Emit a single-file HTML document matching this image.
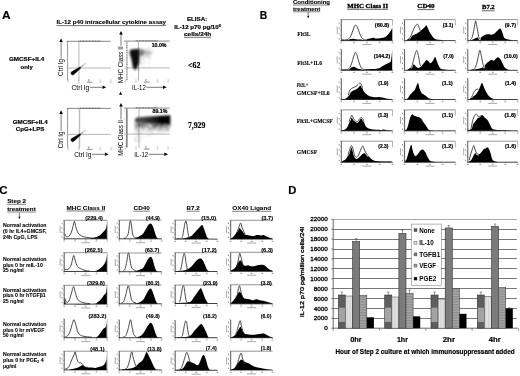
<!DOCTYPE html>
<html><head><meta charset="utf-8"><style>
html,body{margin:0;padding:0;background:#fff;}
svg{display:block;will-change:transform;}
</style></head><body>
<svg width="520" height="376" viewBox="0 0 520 376">
<defs>
<filter id="bl" x="-20%" y="-20%" width="140%" height="140%"><feGaussianBlur stdDeviation="1.2"/></filter>
<filter id="gb" x="0" y="0" width="520" height="376" filterUnits="userSpaceOnUse"><feGaussianBlur stdDeviation="0.8"/></filter>
<filter id="bl2" x="-20%" y="-20%" width="140%" height="140%"><feGaussianBlur stdDeviation="0.8"/></filter>
<filter id="cv" x="0" y="0" width="520" height="376" filterUnits="userSpaceOnUse"><feConvolveMatrix order="3" kernelMatrix="1 2 1 2 4 2 1 2 1" divisor="16" edgeMode="duplicate"/></filter>
</defs>
<rect width="520" height="376" fill="#fff"/>
<g >
<rect width="520" height="376" fill="#fff"/>
<text x="2.00" y="18.80" font-family="Liberation Sans, sans-serif" font-size="11.5" font-weight="bold" text-anchor="start" fill="#000" stroke="#000" stroke-width="0.18" stroke-linejoin="round" textLength="8.60" lengthAdjust="spacingAndGlyphs" >A</text>
<text x="56.50" y="24.40" font-family="Liberation Sans, sans-serif" font-size="5.6" font-weight="bold" text-anchor="start" fill="#000" stroke="#000" stroke-width="0.1" stroke-linejoin="round" textLength="109.50" lengthAdjust="spacingAndGlyphs" >IL-12 p40 intracellular cytokine assay</text>
<line x1="56.50" y1="25.60" x2="166.00" y2="25.60" stroke="#000" stroke-width="0.55" />
<text x="187.00" y="21.20" font-family="Liberation Sans, sans-serif" font-size="5.8" font-weight="bold" text-anchor="start" fill="#000" stroke="#000" stroke-width="0.18" stroke-linejoin="round" textLength="20.20" lengthAdjust="spacingAndGlyphs" >ELISA:</text>
<text x="174.30" y="28.70" font-family="Liberation Sans, sans-serif" font-size="5.8" font-weight="bold" text-anchor="start" fill="#000" stroke="#000" stroke-width="0.18" stroke-linejoin="round" textLength="46.50" lengthAdjust="spacingAndGlyphs" >IL-12 p70 pg/10<tspan font-size="3.6" dy="-2.2">6</tspan></text>
<text x="184.00" y="36.20" font-family="Liberation Sans, sans-serif" font-size="5.8" font-weight="bold" text-anchor="start" fill="#000" stroke="#000" stroke-width="0.18" stroke-linejoin="round" textLength="27.30" lengthAdjust="spacingAndGlyphs" >cells/24h</text>
<line x1="184.00" y1="37.30" x2="211.30" y2="37.30" stroke="#000" stroke-width="0.55" />
<text x="9.00" y="61.30" font-family="Liberation Sans, sans-serif" font-size="5.9" font-weight="bold" text-anchor="start" fill="#000" stroke="#000" stroke-width="0.18" stroke-linejoin="round" textLength="35.20" lengthAdjust="spacingAndGlyphs" >GMCSF+IL4</text>
<text x="20.50" y="68.50" font-family="Liberation Sans, sans-serif" font-size="5.9" font-weight="bold" text-anchor="start" fill="#000" stroke="#000" stroke-width="0.18" stroke-linejoin="round" textLength="12.20" lengthAdjust="spacingAndGlyphs" >only</text>
<text x="12.70" y="124.20" font-family="Liberation Sans, sans-serif" font-size="5.9" font-weight="bold" text-anchor="start" fill="#000" stroke="#000" stroke-width="0.18" stroke-linejoin="round" textLength="35.00" lengthAdjust="spacingAndGlyphs" >GMCSF+IL4</text>
<text x="15.80" y="131.20" font-family="Liberation Sans, sans-serif" font-size="5.9" font-weight="bold" text-anchor="start" fill="#000" stroke="#000" stroke-width="0.18" stroke-linejoin="round" textLength="28.60" lengthAdjust="spacingAndGlyphs" >CpG+LPS</text>
<text x="188.00" y="67.80" font-family="Liberation Serif, serif" font-size="7.4" font-weight="bold" text-anchor="start" fill="#000" stroke="#000" stroke-width="0.18" stroke-linejoin="round" textLength="12.40" lengthAdjust="spacingAndGlyphs" >&lt;62</text>
<text x="187.90" y="127.70" font-family="Liberation Serif, serif" font-size="7.8" font-weight="bold" text-anchor="start" fill="#000" stroke="#000" stroke-width="0.18" stroke-linejoin="round" textLength="17.50" lengthAdjust="spacingAndGlyphs" >7,929</text>
<line x1="66.80" y1="41.30" x2="110.80" y2="41.30" stroke="#555" stroke-width="0.7" />
<line x1="78.60" y1="41.00" x2="100.60" y2="41.00" stroke="#333" stroke-width="0.8" stroke-dasharray="0.8 0.7"/>
<line x1="67.60" y1="41.30" x2="67.60" y2="80.60" stroke="#555" stroke-width="0.6" />
<line x1="78.90" y1="41.30" x2="78.90" y2="81.10" stroke="#999" stroke-width="0.7" />
<line x1="67.60" y1="68.00" x2="110.80" y2="68.00" stroke="#999" stroke-width="0.7" />
<line x1="68.10" y1="79.40" x2="68.10" y2="81.00" stroke="#999" stroke-width="0.5" />
<line x1="78.80" y1="79.40" x2="78.80" y2="81.00" stroke="#999" stroke-width="0.5" />
<line x1="89.50" y1="79.40" x2="89.50" y2="81.00" stroke="#999" stroke-width="0.5" />
<line x1="100.20" y1="79.40" x2="100.20" y2="81.00" stroke="#999" stroke-width="0.5" />
<line x1="110.90" y1="79.40" x2="110.90" y2="81.00" stroke="#999" stroke-width="0.5" />
<rect x="67.30" y="81.60" width="1.60" height="0.90" fill="#aaa" stroke="none" stroke-width="0" />
<rect x="78.00" y="81.60" width="1.60" height="0.90" fill="#aaa" stroke="none" stroke-width="0" />
<rect x="88.70" y="81.60" width="1.60" height="0.90" fill="#aaa" stroke="none" stroke-width="0" />
<rect x="99.40" y="81.60" width="1.60" height="0.90" fill="#aaa" stroke="none" stroke-width="0" />
<rect x="110.10" y="81.60" width="1.60" height="0.90" fill="#aaa" stroke="none" stroke-width="0" />
<rect x="86.60" y="81.80" width="6.00" height="1.00" fill="#999" stroke="none" stroke-width="0" />
<rect x="88.10" y="79.10" width="1.00" height="2.50" fill="#aaa" stroke="none" stroke-width="0" />
<line x1="66.60" y1="44.30" x2="67.60" y2="44.30" stroke="#999" stroke-width="0.5" />
<line x1="66.60" y1="52.30" x2="67.60" y2="52.30" stroke="#999" stroke-width="0.5" />
<line x1="66.60" y1="60.30" x2="67.60" y2="60.30" stroke="#999" stroke-width="0.5" />
<line x1="66.60" y1="68.30" x2="67.60" y2="68.30" stroke="#999" stroke-width="0.5" />
<line x1="124.00" y1="41.10" x2="169.70" y2="41.10" stroke="#555" stroke-width="0.7" />
<line x1="135.80" y1="40.80" x2="157.80" y2="40.80" stroke="#333" stroke-width="0.8" stroke-dasharray="0.8 0.7"/>
<line x1="126.90" y1="41.60" x2="126.90" y2="80.40" stroke="#999" stroke-width="1.6" stroke-dasharray="1.2 0.5"/>
<line x1="138.50" y1="41.10" x2="138.50" y2="80.90" stroke="#999" stroke-width="0.7" />
<line x1="124.80" y1="67.90" x2="169.70" y2="67.90" stroke="#999" stroke-width="0.7" />
<line x1="125.30" y1="79.20" x2="125.30" y2="80.80" stroke="#999" stroke-width="0.5" />
<line x1="136.00" y1="79.20" x2="136.00" y2="80.80" stroke="#999" stroke-width="0.5" />
<line x1="146.70" y1="79.20" x2="146.70" y2="80.80" stroke="#999" stroke-width="0.5" />
<line x1="157.40" y1="79.20" x2="157.40" y2="80.80" stroke="#999" stroke-width="0.5" />
<line x1="168.10" y1="79.20" x2="168.10" y2="80.80" stroke="#999" stroke-width="0.5" />
<rect x="124.50" y="81.40" width="1.60" height="0.90" fill="#aaa" stroke="none" stroke-width="0" />
<rect x="135.20" y="81.40" width="1.60" height="0.90" fill="#aaa" stroke="none" stroke-width="0" />
<rect x="145.90" y="81.40" width="1.60" height="0.90" fill="#aaa" stroke="none" stroke-width="0" />
<rect x="156.60" y="81.40" width="1.60" height="0.90" fill="#aaa" stroke="none" stroke-width="0" />
<rect x="167.30" y="81.40" width="1.60" height="0.90" fill="#aaa" stroke="none" stroke-width="0" />
<rect x="143.80" y="81.60" width="6.00" height="1.00" fill="#999" stroke="none" stroke-width="0" />
<rect x="145.30" y="78.90" width="1.00" height="2.50" fill="#aaa" stroke="none" stroke-width="0" />
<line x1="123.80" y1="44.10" x2="124.80" y2="44.10" stroke="#999" stroke-width="0.5" />
<line x1="123.80" y1="52.10" x2="124.80" y2="52.10" stroke="#999" stroke-width="0.5" />
<line x1="123.80" y1="60.10" x2="124.80" y2="60.10" stroke="#999" stroke-width="0.5" />
<line x1="123.80" y1="68.10" x2="124.80" y2="68.10" stroke="#999" stroke-width="0.5" />
<text x="151.70" y="46.60" font-family="Liberation Sans, sans-serif" font-size="5.6" font-weight="bold" text-anchor="start" fill="#000" stroke="#000" stroke-width="0.18" stroke-linejoin="round" textLength="14.80" lengthAdjust="spacingAndGlyphs" >10.0%</text>
<line x1="66.80" y1="108.40" x2="110.80" y2="108.40" stroke="#555" stroke-width="0.7" />
<line x1="78.60" y1="108.10" x2="100.60" y2="108.10" stroke="#333" stroke-width="0.8" stroke-dasharray="0.8 0.7"/>
<line x1="67.60" y1="108.40" x2="67.60" y2="147.70" stroke="#555" stroke-width="0.6" />
<line x1="79.50" y1="108.40" x2="79.50" y2="148.20" stroke="#bbb" stroke-width="1.4" />
<line x1="67.60" y1="134.40" x2="110.80" y2="134.40" stroke="#999" stroke-width="0.7" />
<line x1="68.10" y1="146.50" x2="68.10" y2="148.10" stroke="#999" stroke-width="0.5" />
<line x1="78.80" y1="146.50" x2="78.80" y2="148.10" stroke="#999" stroke-width="0.5" />
<line x1="89.50" y1="146.50" x2="89.50" y2="148.10" stroke="#999" stroke-width="0.5" />
<line x1="100.20" y1="146.50" x2="100.20" y2="148.10" stroke="#999" stroke-width="0.5" />
<line x1="110.90" y1="146.50" x2="110.90" y2="148.10" stroke="#999" stroke-width="0.5" />
<rect x="67.30" y="148.70" width="1.60" height="0.90" fill="#aaa" stroke="none" stroke-width="0" />
<rect x="78.00" y="148.70" width="1.60" height="0.90" fill="#aaa" stroke="none" stroke-width="0" />
<rect x="88.70" y="148.70" width="1.60" height="0.90" fill="#aaa" stroke="none" stroke-width="0" />
<rect x="99.40" y="148.70" width="1.60" height="0.90" fill="#aaa" stroke="none" stroke-width="0" />
<rect x="110.10" y="148.70" width="1.60" height="0.90" fill="#aaa" stroke="none" stroke-width="0" />
<rect x="86.60" y="148.90" width="6.00" height="1.00" fill="#999" stroke="none" stroke-width="0" />
<rect x="88.10" y="146.20" width="1.00" height="2.50" fill="#aaa" stroke="none" stroke-width="0" />
<line x1="66.60" y1="111.40" x2="67.60" y2="111.40" stroke="#999" stroke-width="0.5" />
<line x1="66.60" y1="119.40" x2="67.60" y2="119.40" stroke="#999" stroke-width="0.5" />
<line x1="66.60" y1="127.40" x2="67.60" y2="127.40" stroke="#999" stroke-width="0.5" />
<line x1="66.60" y1="135.40" x2="67.60" y2="135.40" stroke="#999" stroke-width="0.5" />
<line x1="124.00" y1="108.10" x2="169.70" y2="108.10" stroke="#555" stroke-width="0.7" />
<line x1="135.80" y1="107.80" x2="157.80" y2="107.80" stroke="#333" stroke-width="0.8" stroke-dasharray="0.8 0.7"/>
<line x1="126.80" y1="108.60" x2="126.80" y2="147.40" stroke="#888" stroke-width="1.8" />
<line x1="139.00" y1="108.10" x2="139.00" y2="147.90" stroke="#999" stroke-width="0.7" />
<line x1="124.80" y1="134.10" x2="169.70" y2="134.10" stroke="#999" stroke-width="0.7" />
<line x1="125.30" y1="146.20" x2="125.30" y2="147.80" stroke="#999" stroke-width="0.5" />
<line x1="136.00" y1="146.20" x2="136.00" y2="147.80" stroke="#999" stroke-width="0.5" />
<line x1="146.70" y1="146.20" x2="146.70" y2="147.80" stroke="#999" stroke-width="0.5" />
<line x1="157.40" y1="146.20" x2="157.40" y2="147.80" stroke="#999" stroke-width="0.5" />
<line x1="168.10" y1="146.20" x2="168.10" y2="147.80" stroke="#999" stroke-width="0.5" />
<rect x="124.50" y="148.40" width="1.60" height="0.90" fill="#aaa" stroke="none" stroke-width="0" />
<rect x="135.20" y="148.40" width="1.60" height="0.90" fill="#aaa" stroke="none" stroke-width="0" />
<rect x="145.90" y="148.40" width="1.60" height="0.90" fill="#aaa" stroke="none" stroke-width="0" />
<rect x="156.60" y="148.40" width="1.60" height="0.90" fill="#aaa" stroke="none" stroke-width="0" />
<rect x="167.30" y="148.40" width="1.60" height="0.90" fill="#aaa" stroke="none" stroke-width="0" />
<rect x="143.80" y="148.60" width="6.00" height="1.00" fill="#999" stroke="none" stroke-width="0" />
<rect x="145.30" y="145.90" width="1.00" height="2.50" fill="#aaa" stroke="none" stroke-width="0" />
<line x1="123.80" y1="111.10" x2="124.80" y2="111.10" stroke="#999" stroke-width="0.5" />
<line x1="123.80" y1="119.10" x2="124.80" y2="119.10" stroke="#999" stroke-width="0.5" />
<line x1="123.80" y1="127.10" x2="124.80" y2="127.10" stroke="#999" stroke-width="0.5" />
<line x1="123.80" y1="135.10" x2="124.80" y2="135.10" stroke="#999" stroke-width="0.5" />
<text x="152.50" y="113.00" font-family="Liberation Sans, sans-serif" font-size="5.6" font-weight="bold" text-anchor="start" fill="#000" stroke="#000" stroke-width="0.18" stroke-linejoin="round" textLength="14.80" lengthAdjust="spacingAndGlyphs" >89.1%</text>
<text x="63.40" y="67.50" font-family="Liberation Sans, sans-serif" font-size="6.6" font-weight="normal" text-anchor="middle" fill="#000" transform="rotate(-90 63.40 67.50)" textLength="16.80" lengthAdjust="spacingAndGlyphs" >Ctrl Ig</text>
<line x1="61.10" y1="41.40" x2="61.10" y2="58.60" stroke="#444" stroke-width="0.7" />
<path d="M59.30 42.00L62.90 42.00L61.10 38.40Z" fill="#000" stroke="none" stroke-width="1" />
<text x="71.50" y="89.60" font-family="Liberation Sans, sans-serif" font-size="6.6" font-weight="normal" text-anchor="start" fill="#000" textLength="17.80" lengthAdjust="spacingAndGlyphs" >Ctrl Ig</text>
<line x1="89.80" y1="87.30" x2="103.70" y2="87.30" stroke="#444" stroke-width="0.7" />
<path d="M102.60 85.50L102.60 89.10L106.20 87.30Z" fill="#000" stroke="none" stroke-width="1" />
<text x="123.30" y="64.80" font-family="Liberation Sans, sans-serif" font-size="6.6" font-weight="normal" text-anchor="middle" fill="#000" transform="rotate(-90 123.30 64.80)" textLength="37.00" lengthAdjust="spacingAndGlyphs" >MHC Class II</text>
<line x1="121.00" y1="33.90" x2="121.00" y2="45.80" stroke="#444" stroke-width="0.7" />
<path d="M119.20 34.50L122.80 34.50L121.00 30.90Z" fill="#000" stroke="none" stroke-width="1" />
<text x="132.00" y="89.60" font-family="Liberation Sans, sans-serif" font-size="6.6" font-weight="normal" text-anchor="start" fill="#000" textLength="13.90" lengthAdjust="spacingAndGlyphs" >IL-12</text>
<line x1="146.40" y1="87.30" x2="164.10" y2="87.30" stroke="#444" stroke-width="0.7" />
<path d="M163.00 85.50L163.00 89.10L166.60 87.30Z" fill="#000" stroke="none" stroke-width="1" />
<text x="63.40" y="139.85" font-family="Liberation Sans, sans-serif" font-size="6.6" font-weight="normal" text-anchor="middle" fill="#000" transform="rotate(-90 63.40 139.85)" textLength="16.70" lengthAdjust="spacingAndGlyphs" >Ctrl Ig</text>
<line x1="61.10" y1="113.30" x2="61.10" y2="131.00" stroke="#444" stroke-width="0.7" />
<path d="M59.30 113.90L62.90 113.90L61.10 110.30Z" fill="#000" stroke="none" stroke-width="1" />
<text x="74.20" y="156.60" font-family="Liberation Sans, sans-serif" font-size="6.6" font-weight="normal" text-anchor="start" fill="#000" textLength="17.20" lengthAdjust="spacingAndGlyphs" >Ctrl Ig</text>
<line x1="91.90" y1="154.30" x2="106.00" y2="154.30" stroke="#444" stroke-width="0.7" />
<path d="M104.90 152.50L104.90 156.10L108.50 154.30Z" fill="#000" stroke="none" stroke-width="1" />
<text x="123.30" y="137.90" font-family="Liberation Sans, sans-serif" font-size="6.6" font-weight="normal" text-anchor="middle" fill="#000" transform="rotate(-90 123.30 137.90)" textLength="35.80" lengthAdjust="spacingAndGlyphs" >MHC Class II</text>
<line x1="121.00" y1="106.00" x2="121.00" y2="119.50" stroke="#444" stroke-width="0.7" />
<path d="M119.20 106.60L122.80 106.60L121.00 103.00Z" fill="#000" stroke="none" stroke-width="1" />
<path d="M119.00 94.80L122.20 94.80L120.60 91.60Z" fill="#000" stroke="none" stroke-width="1" />
<text x="134.30" y="156.60" font-family="Liberation Sans, sans-serif" font-size="6.6" font-weight="normal" text-anchor="start" fill="#000" textLength="13.90" lengthAdjust="spacingAndGlyphs" >IL-12</text>
<line x1="148.70" y1="154.30" x2="165.50" y2="154.30" stroke="#444" stroke-width="0.7" />
<path d="M164.40 152.50L164.40 156.10L168.00 154.30Z" fill="#000" stroke="none" stroke-width="1" />
<line x1="79.60" y1="68.20" x2="85.50" y2="63.30" stroke="#ccc" stroke-width="1.3" />
<line x1="79.60" y1="68.20" x2="83.00" y2="65.40" stroke="#999" stroke-width="1.0" />
<path d="M71.54 71.75 L79.53 67.15 A0.8 0.8 0 0 1 80.47 68.45 L73.66 74.65 A1.8 1.8 0 0 1 71.54 71.75Z" fill="#000" stroke="#333" stroke-width="0.5" />
<line x1="79.60" y1="135.00" x2="85.50" y2="130.10" stroke="#ccc" stroke-width="1.3" />
<line x1="79.60" y1="135.00" x2="83.00" y2="132.20" stroke="#999" stroke-width="1.0" />
<path d="M71.54 138.55 L79.53 133.95 A0.8 0.8 0 0 1 80.47 135.25 L73.66 141.45 A1.8 1.8 0 0 1 71.54 138.55Z" fill="#000" stroke="#333" stroke-width="0.5" />
<g filter="url(#bl2)">
<circle cx="139.2" cy="53.9" r="0.45" fill="#000" fill-opacity="0.55"/><circle cx="138.9" cy="53.6" r="0.45" fill="#000" fill-opacity="0.55"/><circle cx="144.9" cy="49.2" r="0.45" fill="#000" fill-opacity="0.55"/><circle cx="144.8" cy="56.8" r="0.45" fill="#000" fill-opacity="0.55"/><circle cx="139.0" cy="49.1" r="0.45" fill="#000" fill-opacity="0.55"/><circle cx="148.9" cy="52.8" r="0.45" fill="#000" fill-opacity="0.55"/><circle cx="147.4" cy="53.0" r="0.45" fill="#000" fill-opacity="0.55"/><circle cx="139.9" cy="52.7" r="0.45" fill="#000" fill-opacity="0.55"/><circle cx="140.4" cy="53.4" r="0.45" fill="#000" fill-opacity="0.55"/><circle cx="142.6" cy="52.4" r="0.45" fill="#000" fill-opacity="0.55"/><circle cx="138.4" cy="53.1" r="0.45" fill="#000" fill-opacity="0.55"/><circle cx="140.1" cy="51.0" r="0.45" fill="#000" fill-opacity="0.55"/><circle cx="140.4" cy="50.3" r="0.45" fill="#000" fill-opacity="0.55"/><circle cx="141.7" cy="53.3" r="0.45" fill="#000" fill-opacity="0.55"/><circle cx="144.3" cy="52.5" r="0.45" fill="#000" fill-opacity="0.55"/><circle cx="148.1" cy="49.1" r="0.45" fill="#000" fill-opacity="0.55"/><circle cx="141.3" cy="50.1" r="0.45" fill="#000" fill-opacity="0.55"/><circle cx="139.6" cy="52.1" r="0.45" fill="#000" fill-opacity="0.55"/><circle cx="142.0" cy="52.0" r="0.45" fill="#000" fill-opacity="0.55"/><circle cx="145.5" cy="53.3" r="0.45" fill="#000" fill-opacity="0.55"/><circle cx="139.6" cy="51.9" r="0.45" fill="#000" fill-opacity="0.55"/><circle cx="151.3" cy="50.1" r="0.45" fill="#000" fill-opacity="0.55"/><circle cx="142.2" cy="52.2" r="0.45" fill="#000" fill-opacity="0.55"/><circle cx="146.3" cy="52.1" r="0.45" fill="#000" fill-opacity="0.55"/><circle cx="138.4" cy="51.3" r="0.45" fill="#000" fill-opacity="0.55"/><circle cx="143.8" cy="50.7" r="0.45" fill="#000" fill-opacity="0.55"/><circle cx="148.4" cy="56.5" r="0.45" fill="#000" fill-opacity="0.55"/><circle cx="150.0" cy="53.3" r="0.45" fill="#000" fill-opacity="0.55"/><circle cx="146.8" cy="49.8" r="0.45" fill="#000" fill-opacity="0.55"/><circle cx="142.1" cy="52.7" r="0.45" fill="#000" fill-opacity="0.55"/><circle cx="140.8" cy="53.2" r="0.45" fill="#000" fill-opacity="0.55"/><circle cx="146.9" cy="56.3" r="0.45" fill="#000" fill-opacity="0.55"/><circle cx="147.0" cy="51.0" r="0.45" fill="#000" fill-opacity="0.55"/><circle cx="139.2" cy="50.9" r="0.45" fill="#000" fill-opacity="0.55"/><circle cx="140.6" cy="52.8" r="0.45" fill="#000" fill-opacity="0.55"/><circle cx="143.4" cy="50.5" r="0.45" fill="#000" fill-opacity="0.55"/><circle cx="148.0" cy="53.6" r="0.45" fill="#000" fill-opacity="0.55"/><circle cx="139.7" cy="51.2" r="0.45" fill="#000" fill-opacity="0.55"/><circle cx="150.5" cy="51.2" r="0.45" fill="#000" fill-opacity="0.55"/><circle cx="147.1" cy="55.5" r="0.45" fill="#000" fill-opacity="0.55"/><circle cx="138.9" cy="55.4" r="0.45" fill="#000" fill-opacity="0.55"/><circle cx="141.8" cy="49.6" r="0.45" fill="#000" fill-opacity="0.55"/><circle cx="138.8" cy="50.5" r="0.45" fill="#000" fill-opacity="0.55"/><circle cx="138.3" cy="51.0" r="0.45" fill="#000" fill-opacity="0.55"/><circle cx="149.7" cy="54.0" r="0.45" fill="#000" fill-opacity="0.55"/><circle cx="144.5" cy="52.0" r="0.45" fill="#000" fill-opacity="0.55"/><circle cx="142.1" cy="50.1" r="0.45" fill="#000" fill-opacity="0.55"/><circle cx="142.5" cy="50.9" r="0.45" fill="#000" fill-opacity="0.55"/><circle cx="143.0" cy="52.1" r="0.45" fill="#000" fill-opacity="0.55"/><circle cx="144.1" cy="53.2" r="0.45" fill="#000" fill-opacity="0.55"/><circle cx="141.2" cy="53.5" r="0.45" fill="#000" fill-opacity="0.55"/><circle cx="141.7" cy="54.4" r="0.45" fill="#000" fill-opacity="0.55"/><circle cx="138.5" cy="49.8" r="0.45" fill="#000" fill-opacity="0.55"/><circle cx="147.9" cy="54.9" r="0.45" fill="#000" fill-opacity="0.55"/><circle cx="142.9" cy="54.2" r="0.45" fill="#000" fill-opacity="0.55"/><circle cx="139.0" cy="51.2" r="0.45" fill="#000" fill-opacity="0.55"/><circle cx="146.3" cy="53.1" r="0.45" fill="#000" fill-opacity="0.55"/><circle cx="145.2" cy="51.2" r="0.45" fill="#000" fill-opacity="0.55"/><circle cx="152.4" cy="53.4" r="0.45" fill="#000" fill-opacity="0.55"/><circle cx="138.1" cy="53.4" r="0.45" fill="#000" fill-opacity="0.55"/><circle cx="143.1" cy="56.9" r="0.45" fill="#000" fill-opacity="0.55"/><circle cx="142.6" cy="52.2" r="0.45" fill="#000" fill-opacity="0.55"/><circle cx="144.8" cy="51.3" r="0.45" fill="#000" fill-opacity="0.55"/><circle cx="146.8" cy="55.7" r="0.45" fill="#000" fill-opacity="0.55"/><circle cx="148.3" cy="51.4" r="0.45" fill="#000" fill-opacity="0.55"/><circle cx="142.8" cy="54.1" r="0.45" fill="#000" fill-opacity="0.55"/><circle cx="140.7" cy="50.1" r="0.45" fill="#000" fill-opacity="0.55"/><circle cx="140.2" cy="50.4" r="0.45" fill="#000" fill-opacity="0.55"/><circle cx="146.4" cy="52.3" r="0.45" fill="#000" fill-opacity="0.55"/><circle cx="140.0" cy="53.5" r="0.45" fill="#000" fill-opacity="0.55"/><circle cx="142.0" cy="52.5" r="0.45" fill="#000" fill-opacity="0.55"/><circle cx="138.0" cy="52.4" r="0.45" fill="#000" fill-opacity="0.55"/><circle cx="142.0" cy="49.6" r="0.45" fill="#000" fill-opacity="0.55"/><circle cx="145.3" cy="54.0" r="0.45" fill="#000" fill-opacity="0.55"/><circle cx="148.3" cy="51.5" r="0.45" fill="#000" fill-opacity="0.55"/><circle cx="147.3" cy="52.4" r="0.45" fill="#000" fill-opacity="0.55"/><circle cx="148.8" cy="52.7" r="0.45" fill="#000" fill-opacity="0.55"/><circle cx="138.5" cy="51.9" r="0.45" fill="#000" fill-opacity="0.55"/><circle cx="149.8" cy="53.5" r="0.45" fill="#000" fill-opacity="0.55"/><circle cx="141.0" cy="50.7" r="0.45" fill="#000" fill-opacity="0.55"/><circle cx="140.3" cy="49.0" r="0.45" fill="#000" fill-opacity="0.55"/><circle cx="144.1" cy="52.2" r="0.45" fill="#000" fill-opacity="0.55"/><circle cx="138.8" cy="53.2" r="0.45" fill="#000" fill-opacity="0.55"/><circle cx="151.0" cy="56.2" r="0.45" fill="#000" fill-opacity="0.55"/><circle cx="143.1" cy="51.3" r="0.45" fill="#000" fill-opacity="0.55"/><circle cx="142.0" cy="49.1" r="0.45" fill="#000" fill-opacity="0.55"/><circle cx="149.4" cy="53.0" r="0.45" fill="#000" fill-opacity="0.55"/><circle cx="141.2" cy="51.0" r="0.45" fill="#000" fill-opacity="0.55"/><circle cx="147.5" cy="54.7" r="0.45" fill="#000" fill-opacity="0.55"/><circle cx="143.9" cy="49.9" r="0.45" fill="#000" fill-opacity="0.55"/><circle cx="146.8" cy="54.9" r="0.45" fill="#000" fill-opacity="0.55"/><circle cx="140.6" cy="55.5" r="0.45" fill="#000" fill-opacity="0.55"/><circle cx="143.0" cy="54.2" r="0.45" fill="#000" fill-opacity="0.55"/><circle cx="138.2" cy="54.0" r="0.45" fill="#000" fill-opacity="0.55"/><circle cx="143.9" cy="53.5" r="0.45" fill="#000" fill-opacity="0.55"/><circle cx="139.7" cy="53.4" r="0.45" fill="#000" fill-opacity="0.55"/><circle cx="140.6" cy="56.4" r="0.45" fill="#000" fill-opacity="0.55"/><circle cx="140.9" cy="50.7" r="0.45" fill="#000" fill-opacity="0.55"/><circle cx="146.3" cy="52.3" r="0.45" fill="#000" fill-opacity="0.55"/><circle cx="138.7" cy="54.1" r="0.45" fill="#000" fill-opacity="0.55"/><circle cx="138.6" cy="56.9" r="0.45" fill="#000" fill-opacity="0.55"/><circle cx="142.9" cy="52.7" r="0.45" fill="#000" fill-opacity="0.55"/><circle cx="150.5" cy="53.1" r="0.45" fill="#000" fill-opacity="0.55"/><circle cx="145.6" cy="49.6" r="0.45" fill="#000" fill-opacity="0.55"/><circle cx="139.0" cy="52.0" r="0.45" fill="#000" fill-opacity="0.55"/><circle cx="146.1" cy="51.7" r="0.45" fill="#000" fill-opacity="0.55"/><circle cx="150.2" cy="52.9" r="0.45" fill="#000" fill-opacity="0.55"/><circle cx="138.0" cy="48.8" r="0.45" fill="#000" fill-opacity="0.55"/><circle cx="148.4" cy="48.7" r="0.45" fill="#000" fill-opacity="0.55"/><circle cx="141.6" cy="54.3" r="0.45" fill="#000" fill-opacity="0.55"/><circle cx="141.3" cy="54.7" r="0.45" fill="#000" fill-opacity="0.55"/><circle cx="142.0" cy="57.5" r="0.45" fill="#000" fill-opacity="0.55"/><circle cx="146.5" cy="52.6" r="0.45" fill="#000" fill-opacity="0.55"/><circle cx="138.9" cy="56.3" r="0.45" fill="#000" fill-opacity="0.55"/><circle cx="141.2" cy="54.6" r="0.45" fill="#000" fill-opacity="0.55"/><circle cx="143.0" cy="51.5" r="0.45" fill="#000" fill-opacity="0.55"/><circle cx="141.6" cy="49.6" r="0.45" fill="#000" fill-opacity="0.55"/><circle cx="138.6" cy="51.9" r="0.45" fill="#000" fill-opacity="0.55"/><circle cx="142.3" cy="54.0" r="0.45" fill="#000" fill-opacity="0.55"/><circle cx="141.4" cy="54.7" r="0.45" fill="#000" fill-opacity="0.55"/><circle cx="152.6" cy="49.9" r="0.45" fill="#000" fill-opacity="0.55"/><circle cx="140.3" cy="48.8" r="0.45" fill="#000" fill-opacity="0.55"/><circle cx="141.3" cy="49.6" r="0.45" fill="#000" fill-opacity="0.55"/><circle cx="141.3" cy="51.7" r="0.45" fill="#000" fill-opacity="0.55"/><circle cx="138.3" cy="51.1" r="0.45" fill="#000" fill-opacity="0.55"/><circle cx="149.3" cy="53.9" r="0.45" fill="#000" fill-opacity="0.55"/><circle cx="150.2" cy="58.3" r="0.45" fill="#000" fill-opacity="0.55"/><circle cx="141.0" cy="53.4" r="0.45" fill="#000" fill-opacity="0.55"/><circle cx="139.4" cy="57.4" r="0.45" fill="#000" fill-opacity="0.55"/><circle cx="141.7" cy="53.1" r="0.45" fill="#000" fill-opacity="0.55"/><circle cx="143.6" cy="51.8" r="0.45" fill="#000" fill-opacity="0.55"/><circle cx="140.7" cy="52.9" r="0.45" fill="#000" fill-opacity="0.55"/><circle cx="140.5" cy="50.1" r="0.45" fill="#000" fill-opacity="0.55"/><circle cx="143.2" cy="53.7" r="0.45" fill="#000" fill-opacity="0.55"/><circle cx="141.1" cy="54.9" r="0.45" fill="#000" fill-opacity="0.55"/><circle cx="141.3" cy="52.4" r="0.45" fill="#000" fill-opacity="0.55"/><circle cx="140.3" cy="54.5" r="0.45" fill="#000" fill-opacity="0.55"/><circle cx="143.0" cy="54.8" r="0.45" fill="#000" fill-opacity="0.55"/><circle cx="141.4" cy="55.3" r="0.45" fill="#000" fill-opacity="0.55"/><circle cx="142.1" cy="52.8" r="0.45" fill="#000" fill-opacity="0.55"/><circle cx="138.0" cy="55.7" r="0.45" fill="#000" fill-opacity="0.55"/><circle cx="141.9" cy="51.5" r="0.45" fill="#000" fill-opacity="0.55"/><circle cx="148.1" cy="48.6" r="0.45" fill="#000" fill-opacity="0.55"/><circle cx="139.6" cy="49.9" r="0.45" fill="#000" fill-opacity="0.55"/><circle cx="150.4" cy="52.0" r="0.45" fill="#000" fill-opacity="0.55"/><circle cx="138.9" cy="53.2" r="0.45" fill="#000" fill-opacity="0.55"/><circle cx="143.9" cy="53.2" r="0.45" fill="#000" fill-opacity="0.55"/><circle cx="143.3" cy="51.7" r="0.45" fill="#000" fill-opacity="0.55"/><circle cx="145.3" cy="56.1" r="0.45" fill="#000" fill-opacity="0.55"/><circle cx="142.1" cy="51.5" r="0.45" fill="#000" fill-opacity="0.55"/><circle cx="143.1" cy="52.8" r="0.45" fill="#000" fill-opacity="0.55"/><circle cx="138.2" cy="52.4" r="0.45" fill="#000" fill-opacity="0.55"/><circle cx="141.4" cy="50.0" r="0.45" fill="#000" fill-opacity="0.55"/><circle cx="138.1" cy="55.3" r="0.45" fill="#000" fill-opacity="0.55"/><circle cx="141.9" cy="55.8" r="0.45" fill="#000" fill-opacity="0.55"/><circle cx="149.5" cy="48.6" r="0.45" fill="#000" fill-opacity="0.55"/><circle cx="148.4" cy="56.7" r="0.45" fill="#000" fill-opacity="0.55"/><circle cx="143.0" cy="55.8" r="0.45" fill="#000" fill-opacity="0.55"/><circle cx="151.8" cy="53.4" r="0.45" fill="#000" fill-opacity="0.55"/><circle cx="143.9" cy="54.2" r="0.45" fill="#000" fill-opacity="0.55"/>
<circle cx="138.4" cy="57.0" r="0.45" fill="#000" fill-opacity="0.55"/><circle cx="141.8" cy="59.7" r="0.45" fill="#000" fill-opacity="0.55"/><circle cx="144.2" cy="59.5" r="0.45" fill="#000" fill-opacity="0.55"/><circle cx="136.4" cy="66.1" r="0.45" fill="#000" fill-opacity="0.55"/><circle cx="139.6" cy="63.8" r="0.45" fill="#000" fill-opacity="0.55"/><circle cx="137.8" cy="57.5" r="0.45" fill="#000" fill-opacity="0.55"/><circle cx="136.4" cy="58.1" r="0.45" fill="#000" fill-opacity="0.55"/><circle cx="144.4" cy="62.2" r="0.45" fill="#000" fill-opacity="0.55"/><circle cx="140.5" cy="62.8" r="0.45" fill="#000" fill-opacity="0.55"/><circle cx="133.7" cy="60.3" r="0.45" fill="#000" fill-opacity="0.55"/><circle cx="145.3" cy="69.8" r="0.45" fill="#000" fill-opacity="0.55"/><circle cx="136.2" cy="60.1" r="0.45" fill="#000" fill-opacity="0.55"/><circle cx="135.7" cy="59.9" r="0.45" fill="#000" fill-opacity="0.55"/><circle cx="139.0" cy="68.7" r="0.45" fill="#000" fill-opacity="0.55"/><circle cx="138.4" cy="60.4" r="0.45" fill="#000" fill-opacity="0.55"/><circle cx="138.6" cy="69.7" r="0.45" fill="#000" fill-opacity="0.55"/><circle cx="137.1" cy="64.4" r="0.45" fill="#000" fill-opacity="0.55"/><circle cx="136.7" cy="58.0" r="0.45" fill="#000" fill-opacity="0.55"/><circle cx="134.2" cy="66.5" r="0.45" fill="#000" fill-opacity="0.55"/><circle cx="136.5" cy="67.8" r="0.45" fill="#000" fill-opacity="0.55"/><circle cx="133.1" cy="63.8" r="0.45" fill="#000" fill-opacity="0.55"/><circle cx="137.3" cy="59.4" r="0.45" fill="#000" fill-opacity="0.55"/><circle cx="137.8" cy="67.6" r="0.45" fill="#000" fill-opacity="0.55"/><circle cx="134.8" cy="66.1" r="0.45" fill="#000" fill-opacity="0.55"/><circle cx="142.9" cy="66.1" r="0.45" fill="#000" fill-opacity="0.55"/><circle cx="149.5" cy="66.3" r="0.45" fill="#000" fill-opacity="0.55"/><circle cx="142.6" cy="57.3" r="0.45" fill="#000" fill-opacity="0.55"/><circle cx="138.0" cy="65.8" r="0.45" fill="#000" fill-opacity="0.55"/><circle cx="141.9" cy="63.9" r="0.45" fill="#000" fill-opacity="0.55"/><circle cx="135.4" cy="58.7" r="0.45" fill="#000" fill-opacity="0.55"/><circle cx="140.7" cy="60.7" r="0.45" fill="#000" fill-opacity="0.55"/><circle cx="138.9" cy="60.1" r="0.45" fill="#000" fill-opacity="0.55"/><circle cx="138.4" cy="69.8" r="0.45" fill="#000" fill-opacity="0.55"/><circle cx="147.7" cy="59.1" r="0.45" fill="#000" fill-opacity="0.55"/><circle cx="149.6" cy="62.7" r="0.45" fill="#000" fill-opacity="0.55"/><circle cx="142.5" cy="62.8" r="0.45" fill="#000" fill-opacity="0.55"/><circle cx="142.6" cy="59.4" r="0.45" fill="#000" fill-opacity="0.55"/><circle cx="135.0" cy="58.3" r="0.45" fill="#000" fill-opacity="0.55"/><circle cx="148.3" cy="57.8" r="0.45" fill="#000" fill-opacity="0.55"/><circle cx="139.7" cy="59.2" r="0.45" fill="#000" fill-opacity="0.55"/>
<path d="M130.2 49.8 L138.8 48.8 L139.4 56 L139 63.2 L136.8 68 L135 70.2 L133 67.5 L131.4 59 L129.6 53 Z" fill="#0a0a0a" stroke="none" stroke-width="1" />
</g>
<defs><linearGradient id="band" x1="0" x2="1" y1="0" y2="0"><stop offset="0" stop-color="#555"/><stop offset="0.25" stop-color="#444"/><stop offset="0.5" stop-color="#222"/><stop offset="0.7" stop-color="#050505"/><stop offset="1" stop-color="#000"/></linearGradient></defs>
<g filter="url(#bl2)">
<circle cx="141.1" cy="126.4" r="0.45" fill="#000" fill-opacity="0.5"/><circle cx="169.3" cy="125.4" r="0.45" fill="#000" fill-opacity="0.5"/><circle cx="149.2" cy="122.0" r="0.45" fill="#000" fill-opacity="0.5"/><circle cx="164.2" cy="126.3" r="0.45" fill="#000" fill-opacity="0.5"/><circle cx="141.7" cy="125.3" r="0.45" fill="#000" fill-opacity="0.5"/><circle cx="168.6" cy="128.6" r="0.45" fill="#000" fill-opacity="0.5"/><circle cx="155.0" cy="125.7" r="0.45" fill="#000" fill-opacity="0.5"/><circle cx="145.5" cy="122.0" r="0.45" fill="#000" fill-opacity="0.5"/><circle cx="139.7" cy="125.1" r="0.45" fill="#000" fill-opacity="0.5"/><circle cx="157.2" cy="123.7" r="0.45" fill="#000" fill-opacity="0.5"/><circle cx="136.4" cy="121.6" r="0.45" fill="#000" fill-opacity="0.5"/><circle cx="142.0" cy="125.5" r="0.45" fill="#000" fill-opacity="0.5"/><circle cx="160.3" cy="124.8" r="0.45" fill="#000" fill-opacity="0.5"/><circle cx="159.2" cy="126.2" r="0.45" fill="#000" fill-opacity="0.5"/><circle cx="136.7" cy="124.7" r="0.45" fill="#000" fill-opacity="0.5"/><circle cx="161.5" cy="122.3" r="0.45" fill="#000" fill-opacity="0.5"/><circle cx="151.0" cy="121.8" r="0.45" fill="#000" fill-opacity="0.5"/><circle cx="154.2" cy="124.7" r="0.45" fill="#000" fill-opacity="0.5"/><circle cx="147.6" cy="127.2" r="0.45" fill="#000" fill-opacity="0.5"/><circle cx="158.7" cy="124.6" r="0.45" fill="#000" fill-opacity="0.5"/><circle cx="139.0" cy="125.3" r="0.45" fill="#000" fill-opacity="0.5"/><circle cx="142.3" cy="121.9" r="0.45" fill="#000" fill-opacity="0.5"/><circle cx="147.8" cy="123.5" r="0.45" fill="#000" fill-opacity="0.5"/><circle cx="154.9" cy="122.6" r="0.45" fill="#000" fill-opacity="0.5"/><circle cx="150.3" cy="123.8" r="0.45" fill="#000" fill-opacity="0.5"/><circle cx="143.9" cy="124.7" r="0.45" fill="#000" fill-opacity="0.5"/><circle cx="136.4" cy="127.6" r="0.45" fill="#000" fill-opacity="0.5"/><circle cx="160.5" cy="121.0" r="0.45" fill="#000" fill-opacity="0.5"/><circle cx="154.9" cy="126.2" r="0.45" fill="#000" fill-opacity="0.5"/><circle cx="163.6" cy="121.9" r="0.45" fill="#000" fill-opacity="0.5"/><circle cx="150.8" cy="122.3" r="0.45" fill="#000" fill-opacity="0.5"/><circle cx="143.9" cy="122.4" r="0.45" fill="#000" fill-opacity="0.5"/><circle cx="143.0" cy="129.6" r="0.45" fill="#000" fill-opacity="0.5"/><circle cx="153.1" cy="129.8" r="0.45" fill="#000" fill-opacity="0.5"/><circle cx="149.4" cy="122.1" r="0.45" fill="#000" fill-opacity="0.5"/><circle cx="162.4" cy="121.9" r="0.45" fill="#000" fill-opacity="0.5"/><circle cx="148.1" cy="121.2" r="0.45" fill="#000" fill-opacity="0.5"/><circle cx="165.7" cy="123.5" r="0.45" fill="#000" fill-opacity="0.5"/><circle cx="164.1" cy="122.8" r="0.45" fill="#000" fill-opacity="0.5"/><circle cx="155.5" cy="122.7" r="0.45" fill="#000" fill-opacity="0.5"/><circle cx="168.5" cy="121.2" r="0.45" fill="#000" fill-opacity="0.5"/><circle cx="163.3" cy="121.5" r="0.45" fill="#000" fill-opacity="0.5"/><circle cx="137.7" cy="125.9" r="0.45" fill="#000" fill-opacity="0.5"/><circle cx="166.6" cy="129.8" r="0.45" fill="#000" fill-opacity="0.5"/><circle cx="155.4" cy="126.8" r="0.45" fill="#000" fill-opacity="0.5"/><circle cx="154.4" cy="127.1" r="0.45" fill="#000" fill-opacity="0.5"/><circle cx="152.0" cy="126.5" r="0.45" fill="#000" fill-opacity="0.5"/><circle cx="143.3" cy="126.2" r="0.45" fill="#000" fill-opacity="0.5"/><circle cx="141.0" cy="122.0" r="0.45" fill="#000" fill-opacity="0.5"/><circle cx="155.6" cy="122.2" r="0.45" fill="#000" fill-opacity="0.5"/><circle cx="144.7" cy="124.9" r="0.45" fill="#000" fill-opacity="0.5"/><circle cx="142.7" cy="127.0" r="0.45" fill="#000" fill-opacity="0.5"/><circle cx="165.9" cy="126.1" r="0.45" fill="#000" fill-opacity="0.5"/><circle cx="137.0" cy="127.2" r="0.45" fill="#000" fill-opacity="0.5"/><circle cx="156.1" cy="124.9" r="0.45" fill="#000" fill-opacity="0.5"/><circle cx="169.9" cy="121.8" r="0.45" fill="#000" fill-opacity="0.5"/><circle cx="160.6" cy="125.9" r="0.45" fill="#000" fill-opacity="0.5"/><circle cx="139.7" cy="121.1" r="0.45" fill="#000" fill-opacity="0.5"/><circle cx="169.9" cy="124.4" r="0.45" fill="#000" fill-opacity="0.5"/><circle cx="138.2" cy="121.4" r="0.45" fill="#000" fill-opacity="0.5"/><circle cx="167.5" cy="123.4" r="0.45" fill="#000" fill-opacity="0.5"/><circle cx="166.9" cy="122.6" r="0.45" fill="#000" fill-opacity="0.5"/><circle cx="165.5" cy="121.9" r="0.45" fill="#000" fill-opacity="0.5"/><circle cx="157.1" cy="124.4" r="0.45" fill="#000" fill-opacity="0.5"/><circle cx="144.3" cy="127.5" r="0.45" fill="#000" fill-opacity="0.5"/><circle cx="164.0" cy="125.2" r="0.45" fill="#000" fill-opacity="0.5"/><circle cx="170.1" cy="125.5" r="0.45" fill="#000" fill-opacity="0.5"/><circle cx="167.2" cy="123.3" r="0.45" fill="#000" fill-opacity="0.5"/><circle cx="159.3" cy="121.6" r="0.45" fill="#000" fill-opacity="0.5"/><circle cx="143.2" cy="127.5" r="0.45" fill="#000" fill-opacity="0.5"/><circle cx="166.0" cy="122.8" r="0.45" fill="#000" fill-opacity="0.5"/><circle cx="139.8" cy="127.4" r="0.45" fill="#000" fill-opacity="0.5"/><circle cx="159.2" cy="123.2" r="0.45" fill="#000" fill-opacity="0.5"/><circle cx="152.7" cy="122.7" r="0.45" fill="#000" fill-opacity="0.5"/><circle cx="160.8" cy="125.1" r="0.45" fill="#000" fill-opacity="0.5"/><circle cx="144.3" cy="122.0" r="0.45" fill="#000" fill-opacity="0.5"/><circle cx="147.8" cy="121.2" r="0.45" fill="#000" fill-opacity="0.5"/><circle cx="160.3" cy="127.0" r="0.45" fill="#000" fill-opacity="0.5"/><circle cx="148.6" cy="127.1" r="0.45" fill="#000" fill-opacity="0.5"/><circle cx="170.2" cy="121.1" r="0.45" fill="#000" fill-opacity="0.5"/><circle cx="167.7" cy="124.8" r="0.45" fill="#000" fill-opacity="0.5"/><circle cx="148.3" cy="124.6" r="0.45" fill="#000" fill-opacity="0.5"/><circle cx="167.1" cy="121.7" r="0.45" fill="#000" fill-opacity="0.5"/><circle cx="146.1" cy="135.6" r="0.45" fill="#000" fill-opacity="0.5"/><circle cx="151.8" cy="124.3" r="0.45" fill="#000" fill-opacity="0.5"/><circle cx="165.6" cy="121.6" r="0.45" fill="#000" fill-opacity="0.5"/><circle cx="140.4" cy="124.8" r="0.45" fill="#000" fill-opacity="0.5"/><circle cx="151.0" cy="122.3" r="0.45" fill="#000" fill-opacity="0.5"/><circle cx="153.4" cy="124.6" r="0.45" fill="#000" fill-opacity="0.5"/><circle cx="147.0" cy="126.7" r="0.45" fill="#000" fill-opacity="0.5"/><circle cx="142.1" cy="129.6" r="0.45" fill="#000" fill-opacity="0.5"/><circle cx="156.8" cy="126.6" r="0.45" fill="#000" fill-opacity="0.5"/><circle cx="163.6" cy="126.3" r="0.45" fill="#000" fill-opacity="0.5"/><circle cx="158.5" cy="125.9" r="0.45" fill="#000" fill-opacity="0.5"/><circle cx="154.9" cy="121.8" r="0.45" fill="#000" fill-opacity="0.5"/><circle cx="160.1" cy="128.2" r="0.45" fill="#000" fill-opacity="0.5"/><circle cx="144.3" cy="125.7" r="0.45" fill="#000" fill-opacity="0.5"/><circle cx="149.8" cy="121.8" r="0.45" fill="#000" fill-opacity="0.5"/><circle cx="144.1" cy="124.0" r="0.45" fill="#000" fill-opacity="0.5"/><circle cx="154.6" cy="121.8" r="0.45" fill="#000" fill-opacity="0.5"/><circle cx="150.3" cy="130.6" r="0.45" fill="#000" fill-opacity="0.5"/><circle cx="165.5" cy="122.1" r="0.45" fill="#000" fill-opacity="0.5"/><circle cx="158.8" cy="125.4" r="0.45" fill="#000" fill-opacity="0.5"/><circle cx="142.3" cy="122.5" r="0.45" fill="#000" fill-opacity="0.5"/><circle cx="159.2" cy="123.3" r="0.45" fill="#000" fill-opacity="0.5"/><circle cx="159.6" cy="121.6" r="0.45" fill="#000" fill-opacity="0.5"/><circle cx="148.8" cy="121.5" r="0.45" fill="#000" fill-opacity="0.5"/><circle cx="157.6" cy="124.4" r="0.45" fill="#000" fill-opacity="0.5"/><circle cx="154.1" cy="122.3" r="0.45" fill="#000" fill-opacity="0.5"/><circle cx="168.3" cy="130.8" r="0.45" fill="#000" fill-opacity="0.5"/><circle cx="145.5" cy="122.0" r="0.45" fill="#000" fill-opacity="0.5"/><circle cx="156.0" cy="127.9" r="0.45" fill="#000" fill-opacity="0.5"/><circle cx="153.1" cy="122.5" r="0.45" fill="#000" fill-opacity="0.5"/><circle cx="139.2" cy="128.0" r="0.45" fill="#000" fill-opacity="0.5"/><circle cx="142.0" cy="127.1" r="0.45" fill="#000" fill-opacity="0.5"/><circle cx="161.5" cy="123.3" r="0.45" fill="#000" fill-opacity="0.5"/><circle cx="155.4" cy="124.5" r="0.45" fill="#000" fill-opacity="0.5"/><circle cx="159.0" cy="123.3" r="0.45" fill="#000" fill-opacity="0.5"/><circle cx="140.0" cy="124.0" r="0.45" fill="#000" fill-opacity="0.5"/><circle cx="157.5" cy="124.0" r="0.45" fill="#000" fill-opacity="0.5"/><circle cx="160.3" cy="126.2" r="0.45" fill="#000" fill-opacity="0.5"/><circle cx="143.2" cy="124.0" r="0.45" fill="#000" fill-opacity="0.5"/><circle cx="163.0" cy="121.1" r="0.45" fill="#000" fill-opacity="0.5"/><circle cx="146.8" cy="124.2" r="0.45" fill="#000" fill-opacity="0.5"/><circle cx="139.3" cy="131.2" r="0.45" fill="#000" fill-opacity="0.5"/><circle cx="164.0" cy="123.8" r="0.45" fill="#000" fill-opacity="0.5"/><circle cx="168.8" cy="126.4" r="0.45" fill="#000" fill-opacity="0.5"/><circle cx="164.3" cy="123.4" r="0.45" fill="#000" fill-opacity="0.5"/><circle cx="147.4" cy="122.5" r="0.45" fill="#000" fill-opacity="0.5"/><circle cx="160.7" cy="132.2" r="0.45" fill="#000" fill-opacity="0.5"/><circle cx="166.5" cy="123.2" r="0.45" fill="#000" fill-opacity="0.5"/><circle cx="155.4" cy="121.7" r="0.45" fill="#000" fill-opacity="0.5"/><circle cx="161.9" cy="125.4" r="0.45" fill="#000" fill-opacity="0.5"/><circle cx="144.8" cy="123.4" r="0.45" fill="#000" fill-opacity="0.5"/><circle cx="146.0" cy="121.8" r="0.45" fill="#000" fill-opacity="0.5"/><circle cx="138.8" cy="124.9" r="0.45" fill="#000" fill-opacity="0.5"/><circle cx="161.6" cy="125.1" r="0.45" fill="#000" fill-opacity="0.5"/><circle cx="143.6" cy="122.0" r="0.45" fill="#000" fill-opacity="0.5"/><circle cx="163.5" cy="122.7" r="0.45" fill="#000" fill-opacity="0.5"/><circle cx="139.7" cy="126.1" r="0.45" fill="#000" fill-opacity="0.5"/><circle cx="156.6" cy="125.1" r="0.45" fill="#000" fill-opacity="0.5"/><circle cx="142.5" cy="124.4" r="0.45" fill="#000" fill-opacity="0.5"/><circle cx="164.6" cy="125.9" r="0.45" fill="#000" fill-opacity="0.5"/><circle cx="157.2" cy="123.1" r="0.45" fill="#000" fill-opacity="0.5"/><circle cx="163.5" cy="121.6" r="0.45" fill="#000" fill-opacity="0.5"/><circle cx="152.8" cy="127.4" r="0.45" fill="#000" fill-opacity="0.5"/><circle cx="169.8" cy="122.1" r="0.45" fill="#000" fill-opacity="0.5"/><circle cx="160.4" cy="121.9" r="0.45" fill="#000" fill-opacity="0.5"/><circle cx="157.2" cy="125.0" r="0.45" fill="#000" fill-opacity="0.5"/><circle cx="145.8" cy="121.7" r="0.45" fill="#000" fill-opacity="0.5"/><circle cx="151.1" cy="122.5" r="0.45" fill="#000" fill-opacity="0.5"/><circle cx="142.4" cy="124.8" r="0.45" fill="#000" fill-opacity="0.5"/><circle cx="139.7" cy="121.2" r="0.45" fill="#000" fill-opacity="0.5"/><circle cx="155.7" cy="126.7" r="0.45" fill="#000" fill-opacity="0.5"/><circle cx="148.5" cy="122.6" r="0.45" fill="#000" fill-opacity="0.5"/><circle cx="139.5" cy="124.0" r="0.45" fill="#000" fill-opacity="0.5"/><circle cx="150.5" cy="122.0" r="0.45" fill="#000" fill-opacity="0.5"/><circle cx="163.3" cy="121.6" r="0.45" fill="#000" fill-opacity="0.5"/><circle cx="167.5" cy="124.9" r="0.45" fill="#000" fill-opacity="0.5"/><circle cx="163.5" cy="123.4" r="0.45" fill="#000" fill-opacity="0.5"/><circle cx="167.3" cy="121.0" r="0.45" fill="#000" fill-opacity="0.5"/><circle cx="137.7" cy="121.8" r="0.45" fill="#000" fill-opacity="0.5"/><circle cx="145.3" cy="127.0" r="0.45" fill="#000" fill-opacity="0.5"/><circle cx="161.3" cy="121.4" r="0.45" fill="#000" fill-opacity="0.5"/><circle cx="163.6" cy="127.9" r="0.45" fill="#000" fill-opacity="0.5"/><circle cx="157.9" cy="124.1" r="0.45" fill="#000" fill-opacity="0.5"/><circle cx="162.1" cy="121.1" r="0.45" fill="#000" fill-opacity="0.5"/><circle cx="164.6" cy="131.8" r="0.45" fill="#000" fill-opacity="0.5"/><circle cx="145.6" cy="126.2" r="0.45" fill="#000" fill-opacity="0.5"/><circle cx="144.7" cy="124.7" r="0.45" fill="#000" fill-opacity="0.5"/><circle cx="169.9" cy="123.6" r="0.45" fill="#000" fill-opacity="0.5"/><circle cx="161.6" cy="124.7" r="0.45" fill="#000" fill-opacity="0.5"/><circle cx="159.5" cy="125.6" r="0.45" fill="#000" fill-opacity="0.5"/><circle cx="137.4" cy="121.2" r="0.45" fill="#000" fill-opacity="0.5"/><circle cx="140.0" cy="122.7" r="0.45" fill="#000" fill-opacity="0.5"/><circle cx="162.2" cy="123.7" r="0.45" fill="#000" fill-opacity="0.5"/><circle cx="144.8" cy="121.1" r="0.45" fill="#000" fill-opacity="0.5"/><circle cx="166.9" cy="123.4" r="0.45" fill="#000" fill-opacity="0.5"/><circle cx="142.9" cy="122.0" r="0.45" fill="#000" fill-opacity="0.5"/><circle cx="162.8" cy="124.8" r="0.45" fill="#000" fill-opacity="0.5"/><circle cx="153.5" cy="122.7" r="0.45" fill="#000" fill-opacity="0.5"/><circle cx="163.1" cy="125.3" r="0.45" fill="#000" fill-opacity="0.5"/><circle cx="162.0" cy="124.4" r="0.45" fill="#000" fill-opacity="0.5"/><circle cx="143.3" cy="121.4" r="0.45" fill="#000" fill-opacity="0.5"/><circle cx="138.3" cy="122.8" r="0.45" fill="#000" fill-opacity="0.5"/><circle cx="141.1" cy="124.5" r="0.45" fill="#000" fill-opacity="0.5"/><circle cx="139.2" cy="122.0" r="0.45" fill="#000" fill-opacity="0.5"/><circle cx="153.5" cy="124.6" r="0.45" fill="#000" fill-opacity="0.5"/><circle cx="165.5" cy="124.2" r="0.45" fill="#000" fill-opacity="0.5"/><circle cx="160.8" cy="122.1" r="0.45" fill="#000" fill-opacity="0.5"/><circle cx="152.0" cy="123.7" r="0.45" fill="#000" fill-opacity="0.5"/><circle cx="158.0" cy="128.7" r="0.45" fill="#000" fill-opacity="0.5"/><circle cx="137.9" cy="124.3" r="0.45" fill="#000" fill-opacity="0.5"/><circle cx="150.5" cy="123.1" r="0.45" fill="#000" fill-opacity="0.5"/><circle cx="149.2" cy="131.2" r="0.45" fill="#000" fill-opacity="0.5"/><circle cx="168.5" cy="124.5" r="0.45" fill="#000" fill-opacity="0.5"/><circle cx="158.6" cy="121.3" r="0.45" fill="#000" fill-opacity="0.5"/><circle cx="140.7" cy="133.4" r="0.45" fill="#000" fill-opacity="0.5"/><circle cx="156.4" cy="124.9" r="0.45" fill="#000" fill-opacity="0.5"/><circle cx="140.3" cy="123.1" r="0.45" fill="#000" fill-opacity="0.5"/><circle cx="135.6" cy="125.3" r="0.45" fill="#000" fill-opacity="0.5"/><circle cx="158.1" cy="128.7" r="0.45" fill="#000" fill-opacity="0.5"/><circle cx="144.0" cy="124.5" r="0.45" fill="#000" fill-opacity="0.5"/><circle cx="158.7" cy="133.0" r="0.45" fill="#000" fill-opacity="0.5"/><circle cx="162.7" cy="124.5" r="0.45" fill="#000" fill-opacity="0.5"/><circle cx="168.8" cy="124.1" r="0.45" fill="#000" fill-opacity="0.5"/><circle cx="162.1" cy="122.9" r="0.45" fill="#000" fill-opacity="0.5"/><circle cx="142.6" cy="125.0" r="0.45" fill="#000" fill-opacity="0.5"/><circle cx="150.4" cy="123.6" r="0.45" fill="#000" fill-opacity="0.5"/><circle cx="162.0" cy="125.5" r="0.45" fill="#000" fill-opacity="0.5"/><circle cx="144.6" cy="122.1" r="0.45" fill="#000" fill-opacity="0.5"/><circle cx="141.1" cy="131.4" r="0.45" fill="#000" fill-opacity="0.5"/><circle cx="169.8" cy="121.3" r="0.45" fill="#000" fill-opacity="0.5"/><circle cx="136.9" cy="122.3" r="0.45" fill="#000" fill-opacity="0.5"/><circle cx="147.1" cy="128.4" r="0.45" fill="#000" fill-opacity="0.5"/><circle cx="167.8" cy="129.4" r="0.45" fill="#000" fill-opacity="0.5"/><circle cx="163.3" cy="122.4" r="0.45" fill="#000" fill-opacity="0.5"/><circle cx="162.9" cy="124.5" r="0.45" fill="#000" fill-opacity="0.5"/><circle cx="158.4" cy="129.5" r="0.45" fill="#000" fill-opacity="0.5"/><circle cx="157.4" cy="124.6" r="0.45" fill="#000" fill-opacity="0.5"/><circle cx="163.0" cy="125.6" r="0.45" fill="#000" fill-opacity="0.5"/><circle cx="160.5" cy="121.8" r="0.45" fill="#000" fill-opacity="0.5"/><circle cx="138.1" cy="121.7" r="0.45" fill="#000" fill-opacity="0.5"/><circle cx="151.3" cy="124.0" r="0.45" fill="#000" fill-opacity="0.5"/><circle cx="138.7" cy="122.1" r="0.45" fill="#000" fill-opacity="0.5"/><circle cx="156.8" cy="122.6" r="0.45" fill="#000" fill-opacity="0.5"/><circle cx="157.5" cy="125.2" r="0.45" fill="#000" fill-opacity="0.5"/><circle cx="150.4" cy="122.3" r="0.45" fill="#000" fill-opacity="0.5"/><circle cx="138.8" cy="122.1" r="0.45" fill="#000" fill-opacity="0.5"/><circle cx="146.9" cy="122.8" r="0.45" fill="#000" fill-opacity="0.5"/><circle cx="169.3" cy="122.8" r="0.45" fill="#000" fill-opacity="0.5"/><circle cx="160.9" cy="122.9" r="0.45" fill="#000" fill-opacity="0.5"/><circle cx="168.8" cy="122.6" r="0.45" fill="#000" fill-opacity="0.5"/><circle cx="147.0" cy="124.7" r="0.45" fill="#000" fill-opacity="0.5"/><circle cx="165.2" cy="125.8" r="0.45" fill="#000" fill-opacity="0.5"/><circle cx="161.3" cy="126.1" r="0.45" fill="#000" fill-opacity="0.5"/><circle cx="155.3" cy="121.2" r="0.45" fill="#000" fill-opacity="0.5"/><circle cx="147.5" cy="126.7" r="0.45" fill="#000" fill-opacity="0.5"/><circle cx="147.0" cy="124.7" r="0.45" fill="#000" fill-opacity="0.5"/><circle cx="143.0" cy="122.1" r="0.45" fill="#000" fill-opacity="0.5"/><circle cx="161.2" cy="124.0" r="0.45" fill="#000" fill-opacity="0.5"/><circle cx="160.3" cy="127.4" r="0.45" fill="#000" fill-opacity="0.5"/><circle cx="167.6" cy="124.1" r="0.45" fill="#000" fill-opacity="0.5"/><circle cx="154.8" cy="123.2" r="0.45" fill="#000" fill-opacity="0.5"/><circle cx="144.1" cy="125.1" r="0.45" fill="#000" fill-opacity="0.5"/><circle cx="153.1" cy="128.0" r="0.45" fill="#000" fill-opacity="0.5"/><circle cx="161.4" cy="124.6" r="0.45" fill="#000" fill-opacity="0.5"/><circle cx="153.2" cy="123.6" r="0.45" fill="#000" fill-opacity="0.5"/><circle cx="166.9" cy="124.0" r="0.45" fill="#000" fill-opacity="0.5"/><circle cx="167.7" cy="121.8" r="0.45" fill="#000" fill-opacity="0.5"/><circle cx="150.6" cy="122.3" r="0.45" fill="#000" fill-opacity="0.5"/><circle cx="142.0" cy="123.4" r="0.45" fill="#000" fill-opacity="0.5"/><circle cx="156.8" cy="125.5" r="0.45" fill="#000" fill-opacity="0.5"/><circle cx="142.7" cy="122.3" r="0.45" fill="#000" fill-opacity="0.5"/><circle cx="169.1" cy="127.1" r="0.45" fill="#000" fill-opacity="0.5"/><circle cx="163.3" cy="121.4" r="0.45" fill="#000" fill-opacity="0.5"/><circle cx="162.7" cy="124.9" r="0.45" fill="#000" fill-opacity="0.5"/><circle cx="154.0" cy="125.1" r="0.45" fill="#000" fill-opacity="0.5"/><circle cx="164.0" cy="123.4" r="0.45" fill="#000" fill-opacity="0.5"/><circle cx="135.8" cy="123.9" r="0.45" fill="#000" fill-opacity="0.5"/><circle cx="163.4" cy="123.2" r="0.45" fill="#000" fill-opacity="0.5"/><circle cx="167.7" cy="127.5" r="0.45" fill="#000" fill-opacity="0.5"/><circle cx="137.0" cy="122.9" r="0.45" fill="#000" fill-opacity="0.5"/><circle cx="141.4" cy="123.3" r="0.45" fill="#000" fill-opacity="0.5"/><circle cx="161.0" cy="121.9" r="0.45" fill="#000" fill-opacity="0.5"/><circle cx="159.0" cy="121.5" r="0.45" fill="#000" fill-opacity="0.5"/><circle cx="167.3" cy="129.4" r="0.45" fill="#000" fill-opacity="0.5"/><circle cx="146.2" cy="126.6" r="0.45" fill="#000" fill-opacity="0.5"/><circle cx="167.9" cy="122.3" r="0.45" fill="#000" fill-opacity="0.5"/><circle cx="138.6" cy="125.1" r="0.45" fill="#000" fill-opacity="0.5"/><circle cx="166.5" cy="121.5" r="0.45" fill="#000" fill-opacity="0.5"/><circle cx="167.6" cy="123.4" r="0.45" fill="#000" fill-opacity="0.5"/><circle cx="154.6" cy="127.1" r="0.45" fill="#000" fill-opacity="0.5"/><circle cx="169.7" cy="123.1" r="0.45" fill="#000" fill-opacity="0.5"/><circle cx="146.1" cy="121.4" r="0.45" fill="#000" fill-opacity="0.5"/><circle cx="137.3" cy="121.1" r="0.45" fill="#000" fill-opacity="0.5"/><circle cx="142.3" cy="128.6" r="0.45" fill="#000" fill-opacity="0.5"/><circle cx="160.2" cy="121.0" r="0.45" fill="#000" fill-opacity="0.5"/><circle cx="155.1" cy="121.1" r="0.45" fill="#000" fill-opacity="0.5"/><circle cx="135.5" cy="124.0" r="0.45" fill="#000" fill-opacity="0.5"/><circle cx="159.6" cy="122.0" r="0.45" fill="#000" fill-opacity="0.5"/><circle cx="169.6" cy="122.7" r="0.45" fill="#000" fill-opacity="0.5"/><circle cx="144.5" cy="123.2" r="0.45" fill="#000" fill-opacity="0.5"/><circle cx="140.0" cy="123.4" r="0.45" fill="#000" fill-opacity="0.5"/><circle cx="149.6" cy="129.2" r="0.45" fill="#000" fill-opacity="0.5"/><circle cx="143.5" cy="122.4" r="0.45" fill="#000" fill-opacity="0.5"/><circle cx="156.3" cy="123.7" r="0.45" fill="#000" fill-opacity="0.5"/><circle cx="137.9" cy="126.0" r="0.45" fill="#000" fill-opacity="0.5"/><circle cx="157.9" cy="127.4" r="0.45" fill="#000" fill-opacity="0.5"/><circle cx="140.5" cy="125.6" r="0.45" fill="#000" fill-opacity="0.5"/><circle cx="140.9" cy="121.7" r="0.45" fill="#000" fill-opacity="0.5"/><circle cx="157.1" cy="121.9" r="0.45" fill="#000" fill-opacity="0.5"/><circle cx="160.3" cy="128.7" r="0.45" fill="#000" fill-opacity="0.5"/><circle cx="138.2" cy="134.5" r="0.45" fill="#000" fill-opacity="0.5"/><circle cx="142.9" cy="127.0" r="0.45" fill="#000" fill-opacity="0.5"/><circle cx="150.2" cy="123.3" r="0.45" fill="#000" fill-opacity="0.5"/><circle cx="163.8" cy="128.1" r="0.45" fill="#000" fill-opacity="0.5"/><circle cx="152.1" cy="122.9" r="0.45" fill="#000" fill-opacity="0.5"/><circle cx="139.0" cy="125.8" r="0.45" fill="#000" fill-opacity="0.5"/><circle cx="148.4" cy="131.1" r="0.45" fill="#000" fill-opacity="0.5"/><circle cx="155.0" cy="123.9" r="0.45" fill="#000" fill-opacity="0.5"/><circle cx="152.0" cy="126.1" r="0.45" fill="#000" fill-opacity="0.5"/><circle cx="148.2" cy="125.4" r="0.45" fill="#000" fill-opacity="0.5"/><circle cx="160.8" cy="124.2" r="0.45" fill="#000" fill-opacity="0.5"/><circle cx="147.6" cy="125.6" r="0.45" fill="#000" fill-opacity="0.5"/><circle cx="144.6" cy="121.9" r="0.45" fill="#000" fill-opacity="0.5"/><circle cx="143.1" cy="126.1" r="0.45" fill="#000" fill-opacity="0.5"/><circle cx="166.4" cy="127.4" r="0.45" fill="#000" fill-opacity="0.5"/><circle cx="162.3" cy="126.6" r="0.45" fill="#000" fill-opacity="0.5"/><circle cx="156.0" cy="124.8" r="0.45" fill="#000" fill-opacity="0.5"/><circle cx="148.8" cy="126.7" r="0.45" fill="#000" fill-opacity="0.5"/><circle cx="167.1" cy="124.5" r="0.45" fill="#000" fill-opacity="0.5"/><circle cx="155.3" cy="125.8" r="0.45" fill="#000" fill-opacity="0.5"/><circle cx="153.0" cy="122.8" r="0.45" fill="#000" fill-opacity="0.5"/><circle cx="155.7" cy="126.7" r="0.45" fill="#000" fill-opacity="0.5"/><circle cx="136.9" cy="126.7" r="0.45" fill="#000" fill-opacity="0.5"/><circle cx="151.3" cy="124.2" r="0.45" fill="#000" fill-opacity="0.5"/><circle cx="138.3" cy="122.4" r="0.45" fill="#000" fill-opacity="0.5"/><circle cx="166.0" cy="126.4" r="0.45" fill="#000" fill-opacity="0.5"/><circle cx="147.7" cy="127.0" r="0.45" fill="#000" fill-opacity="0.5"/><circle cx="160.9" cy="121.4" r="0.45" fill="#000" fill-opacity="0.5"/><circle cx="152.5" cy="128.1" r="0.45" fill="#000" fill-opacity="0.5"/><circle cx="156.6" cy="123.6" r="0.45" fill="#000" fill-opacity="0.5"/><circle cx="146.1" cy="129.3" r="0.45" fill="#000" fill-opacity="0.5"/><circle cx="158.0" cy="122.6" r="0.45" fill="#000" fill-opacity="0.5"/><circle cx="147.0" cy="121.4" r="0.45" fill="#000" fill-opacity="0.5"/><circle cx="139.3" cy="123.4" r="0.45" fill="#000" fill-opacity="0.5"/><circle cx="165.9" cy="126.4" r="0.45" fill="#000" fill-opacity="0.5"/><circle cx="149.3" cy="128.9" r="0.45" fill="#000" fill-opacity="0.5"/><circle cx="162.8" cy="124.0" r="0.45" fill="#000" fill-opacity="0.5"/><circle cx="141.7" cy="122.5" r="0.45" fill="#000" fill-opacity="0.5"/><circle cx="153.0" cy="123.2" r="0.45" fill="#000" fill-opacity="0.5"/><circle cx="165.6" cy="126.8" r="0.45" fill="#000" fill-opacity="0.5"/><circle cx="152.8" cy="133.6" r="0.45" fill="#000" fill-opacity="0.5"/><circle cx="167.8" cy="124.0" r="0.45" fill="#000" fill-opacity="0.5"/><circle cx="160.7" cy="124.4" r="0.45" fill="#000" fill-opacity="0.5"/><circle cx="136.8" cy="124.7" r="0.45" fill="#000" fill-opacity="0.5"/><circle cx="143.9" cy="122.3" r="0.45" fill="#000" fill-opacity="0.5"/><circle cx="139.0" cy="124.4" r="0.45" fill="#000" fill-opacity="0.5"/><circle cx="167.9" cy="126.9" r="0.45" fill="#000" fill-opacity="0.5"/><circle cx="164.3" cy="128.1" r="0.45" fill="#000" fill-opacity="0.5"/><circle cx="155.3" cy="124.7" r="0.45" fill="#000" fill-opacity="0.5"/><circle cx="165.5" cy="122.2" r="0.45" fill="#000" fill-opacity="0.5"/><circle cx="151.6" cy="123.0" r="0.45" fill="#000" fill-opacity="0.5"/><circle cx="156.1" cy="126.1" r="0.45" fill="#000" fill-opacity="0.5"/><circle cx="168.1" cy="121.4" r="0.45" fill="#000" fill-opacity="0.5"/><circle cx="148.0" cy="123.7" r="0.45" fill="#000" fill-opacity="0.5"/><circle cx="152.7" cy="127.2" r="0.45" fill="#000" fill-opacity="0.5"/><circle cx="148.5" cy="127.5" r="0.45" fill="#000" fill-opacity="0.5"/><circle cx="144.8" cy="122.6" r="0.45" fill="#000" fill-opacity="0.5"/><circle cx="154.8" cy="127.2" r="0.45" fill="#000" fill-opacity="0.5"/><circle cx="167.6" cy="122.6" r="0.45" fill="#000" fill-opacity="0.5"/><circle cx="160.3" cy="121.3" r="0.45" fill="#000" fill-opacity="0.5"/><circle cx="139.5" cy="128.1" r="0.45" fill="#000" fill-opacity="0.5"/><circle cx="140.3" cy="124.3" r="0.45" fill="#000" fill-opacity="0.5"/><circle cx="165.5" cy="122.5" r="0.45" fill="#000" fill-opacity="0.5"/><circle cx="143.1" cy="122.7" r="0.45" fill="#000" fill-opacity="0.5"/><circle cx="158.3" cy="122.6" r="0.45" fill="#000" fill-opacity="0.5"/><circle cx="157.9" cy="131.3" r="0.45" fill="#000" fill-opacity="0.5"/><circle cx="155.1" cy="128.7" r="0.45" fill="#000" fill-opacity="0.5"/><circle cx="142.5" cy="126.0" r="0.45" fill="#000" fill-opacity="0.5"/><circle cx="145.7" cy="125.0" r="0.45" fill="#000" fill-opacity="0.5"/><circle cx="143.9" cy="121.4" r="0.45" fill="#000" fill-opacity="0.5"/><circle cx="154.1" cy="125.0" r="0.45" fill="#000" fill-opacity="0.5"/><circle cx="139.5" cy="123.0" r="0.45" fill="#000" fill-opacity="0.5"/><circle cx="137.7" cy="127.8" r="0.45" fill="#000" fill-opacity="0.5"/><circle cx="155.7" cy="124.6" r="0.45" fill="#000" fill-opacity="0.5"/><circle cx="170.2" cy="124.0" r="0.45" fill="#000" fill-opacity="0.5"/><circle cx="135.4" cy="122.4" r="0.45" fill="#000" fill-opacity="0.5"/><circle cx="155.5" cy="121.2" r="0.45" fill="#000" fill-opacity="0.5"/><circle cx="144.2" cy="130.3" r="0.45" fill="#000" fill-opacity="0.5"/><circle cx="163.3" cy="130.0" r="0.45" fill="#000" fill-opacity="0.5"/><circle cx="161.8" cy="121.7" r="0.45" fill="#000" fill-opacity="0.5"/><circle cx="155.4" cy="126.7" r="0.45" fill="#000" fill-opacity="0.5"/><circle cx="162.9" cy="121.5" r="0.45" fill="#000" fill-opacity="0.5"/><circle cx="163.3" cy="124.6" r="0.45" fill="#000" fill-opacity="0.5"/><circle cx="168.1" cy="123.4" r="0.45" fill="#000" fill-opacity="0.5"/><circle cx="137.3" cy="125.9" r="0.45" fill="#000" fill-opacity="0.5"/><circle cx="163.6" cy="124.4" r="0.45" fill="#000" fill-opacity="0.5"/><circle cx="155.0" cy="125.1" r="0.45" fill="#000" fill-opacity="0.5"/><circle cx="166.4" cy="124.6" r="0.45" fill="#000" fill-opacity="0.5"/><circle cx="158.8" cy="122.8" r="0.45" fill="#000" fill-opacity="0.5"/><circle cx="162.1" cy="125.6" r="0.45" fill="#000" fill-opacity="0.5"/><circle cx="163.8" cy="123.4" r="0.45" fill="#000" fill-opacity="0.5"/><circle cx="158.6" cy="122.3" r="0.45" fill="#000" fill-opacity="0.5"/><circle cx="150.9" cy="121.5" r="0.45" fill="#000" fill-opacity="0.5"/><circle cx="144.1" cy="122.5" r="0.45" fill="#000" fill-opacity="0.5"/><circle cx="162.1" cy="123.3" r="0.45" fill="#000" fill-opacity="0.5"/><circle cx="153.2" cy="125.3" r="0.45" fill="#000" fill-opacity="0.5"/><circle cx="147.9" cy="122.6" r="0.45" fill="#000" fill-opacity="0.5"/><circle cx="169.7" cy="127.2" r="0.45" fill="#000" fill-opacity="0.5"/><circle cx="142.3" cy="121.8" r="0.45" fill="#000" fill-opacity="0.5"/><circle cx="154.0" cy="129.0" r="0.45" fill="#000" fill-opacity="0.5"/><circle cx="145.7" cy="122.0" r="0.45" fill="#000" fill-opacity="0.5"/><circle cx="158.1" cy="124.4" r="0.45" fill="#000" fill-opacity="0.5"/><circle cx="152.2" cy="121.5" r="0.45" fill="#000" fill-opacity="0.5"/><circle cx="157.1" cy="125.2" r="0.45" fill="#000" fill-opacity="0.5"/><circle cx="143.2" cy="123.8" r="0.45" fill="#000" fill-opacity="0.5"/><circle cx="166.0" cy="121.4" r="0.45" fill="#000" fill-opacity="0.5"/><circle cx="161.7" cy="128.3" r="0.45" fill="#000" fill-opacity="0.5"/><circle cx="162.2" cy="124.3" r="0.45" fill="#000" fill-opacity="0.5"/><circle cx="142.0" cy="125.7" r="0.45" fill="#000" fill-opacity="0.5"/><circle cx="168.8" cy="121.2" r="0.45" fill="#000" fill-opacity="0.5"/><circle cx="146.3" cy="124.0" r="0.45" fill="#000" fill-opacity="0.5"/><circle cx="166.7" cy="121.4" r="0.45" fill="#000" fill-opacity="0.5"/><circle cx="144.6" cy="124.2" r="0.45" fill="#000" fill-opacity="0.5"/><circle cx="148.0" cy="122.8" r="0.45" fill="#000" fill-opacity="0.5"/><circle cx="166.3" cy="121.5" r="0.45" fill="#000" fill-opacity="0.5"/><circle cx="169.7" cy="123.8" r="0.45" fill="#000" fill-opacity="0.5"/><circle cx="136.5" cy="125.1" r="0.45" fill="#000" fill-opacity="0.5"/><circle cx="163.1" cy="122.4" r="0.45" fill="#000" fill-opacity="0.5"/><circle cx="165.4" cy="122.9" r="0.45" fill="#000" fill-opacity="0.5"/><circle cx="161.5" cy="130.0" r="0.45" fill="#000" fill-opacity="0.5"/><circle cx="168.8" cy="122.5" r="0.45" fill="#000" fill-opacity="0.5"/><circle cx="154.2" cy="121.4" r="0.45" fill="#000" fill-opacity="0.5"/><circle cx="168.8" cy="122.2" r="0.45" fill="#000" fill-opacity="0.5"/><circle cx="160.7" cy="130.1" r="0.45" fill="#000" fill-opacity="0.5"/><circle cx="163.8" cy="125.1" r="0.45" fill="#000" fill-opacity="0.5"/><circle cx="167.6" cy="125.1" r="0.45" fill="#000" fill-opacity="0.5"/><circle cx="158.5" cy="129.7" r="0.45" fill="#000" fill-opacity="0.5"/><circle cx="149.6" cy="135.2" r="0.45" fill="#000" fill-opacity="0.5"/><circle cx="160.8" cy="121.6" r="0.45" fill="#000" fill-opacity="0.5"/><circle cx="152.4" cy="128.4" r="0.45" fill="#000" fill-opacity="0.5"/><circle cx="165.9" cy="127.3" r="0.45" fill="#000" fill-opacity="0.5"/><circle cx="135.6" cy="125.9" r="0.45" fill="#000" fill-opacity="0.5"/><circle cx="139.4" cy="127.3" r="0.45" fill="#000" fill-opacity="0.5"/><circle cx="169.3" cy="122.4" r="0.45" fill="#000" fill-opacity="0.5"/><circle cx="155.9" cy="126.5" r="0.45" fill="#000" fill-opacity="0.5"/><circle cx="165.3" cy="122.7" r="0.45" fill="#000" fill-opacity="0.5"/><circle cx="156.8" cy="122.5" r="0.45" fill="#000" fill-opacity="0.5"/><circle cx="160.8" cy="122.8" r="0.45" fill="#000" fill-opacity="0.5"/><circle cx="157.5" cy="126.1" r="0.45" fill="#000" fill-opacity="0.5"/><circle cx="140.8" cy="123.9" r="0.45" fill="#000" fill-opacity="0.5"/><circle cx="148.5" cy="125.1" r="0.45" fill="#000" fill-opacity="0.5"/><circle cx="154.2" cy="121.0" r="0.45" fill="#000" fill-opacity="0.5"/><circle cx="150.3" cy="122.0" r="0.45" fill="#000" fill-opacity="0.5"/><circle cx="146.5" cy="124.7" r="0.45" fill="#000" fill-opacity="0.5"/><circle cx="158.1" cy="122.7" r="0.45" fill="#000" fill-opacity="0.5"/><circle cx="145.5" cy="122.5" r="0.45" fill="#000" fill-opacity="0.5"/><circle cx="159.1" cy="125.2" r="0.45" fill="#000" fill-opacity="0.5"/><circle cx="156.6" cy="126.2" r="0.45" fill="#000" fill-opacity="0.5"/><circle cx="138.9" cy="123.6" r="0.45" fill="#000" fill-opacity="0.5"/><circle cx="146.2" cy="123.1" r="0.45" fill="#000" fill-opacity="0.5"/><circle cx="162.6" cy="122.9" r="0.45" fill="#000" fill-opacity="0.5"/><circle cx="139.7" cy="123.5" r="0.45" fill="#000" fill-opacity="0.5"/><circle cx="139.1" cy="124.8" r="0.45" fill="#000" fill-opacity="0.5"/><circle cx="165.9" cy="125.8" r="0.45" fill="#000" fill-opacity="0.5"/><circle cx="154.0" cy="122.5" r="0.45" fill="#000" fill-opacity="0.5"/><circle cx="159.5" cy="126.6" r="0.45" fill="#000" fill-opacity="0.5"/><circle cx="163.7" cy="126.1" r="0.45" fill="#000" fill-opacity="0.5"/><circle cx="163.3" cy="125.6" r="0.45" fill="#000" fill-opacity="0.5"/><circle cx="136.8" cy="121.2" r="0.45" fill="#000" fill-opacity="0.5"/><circle cx="162.5" cy="123.3" r="0.45" fill="#000" fill-opacity="0.5"/><circle cx="162.2" cy="123.3" r="0.45" fill="#000" fill-opacity="0.5"/><circle cx="165.0" cy="123.2" r="0.45" fill="#000" fill-opacity="0.5"/><circle cx="170.1" cy="130.7" r="0.45" fill="#000" fill-opacity="0.5"/><circle cx="139.3" cy="122.1" r="0.45" fill="#000" fill-opacity="0.5"/><circle cx="146.4" cy="124.9" r="0.45" fill="#000" fill-opacity="0.5"/><circle cx="137.7" cy="122.9" r="0.45" fill="#000" fill-opacity="0.5"/><circle cx="142.8" cy="121.4" r="0.45" fill="#000" fill-opacity="0.5"/><circle cx="145.1" cy="121.6" r="0.45" fill="#000" fill-opacity="0.5"/><circle cx="152.2" cy="123.6" r="0.45" fill="#000" fill-opacity="0.5"/><circle cx="168.1" cy="122.6" r="0.45" fill="#000" fill-opacity="0.5"/><circle cx="159.6" cy="126.2" r="0.45" fill="#000" fill-opacity="0.5"/><circle cx="165.3" cy="121.4" r="0.45" fill="#000" fill-opacity="0.5"/><circle cx="150.5" cy="123.8" r="0.45" fill="#000" fill-opacity="0.5"/><circle cx="155.9" cy="127.4" r="0.45" fill="#000" fill-opacity="0.5"/><circle cx="166.1" cy="123.6" r="0.45" fill="#000" fill-opacity="0.5"/><circle cx="167.4" cy="122.6" r="0.45" fill="#000" fill-opacity="0.5"/><circle cx="158.6" cy="126.6" r="0.45" fill="#000" fill-opacity="0.5"/><circle cx="149.9" cy="123.8" r="0.45" fill="#000" fill-opacity="0.5"/><circle cx="154.7" cy="125.9" r="0.45" fill="#000" fill-opacity="0.5"/><circle cx="165.6" cy="124.1" r="0.45" fill="#000" fill-opacity="0.5"/><circle cx="169.7" cy="122.0" r="0.45" fill="#000" fill-opacity="0.5"/><circle cx="167.8" cy="131.0" r="0.45" fill="#000" fill-opacity="0.5"/><circle cx="137.5" cy="121.5" r="0.45" fill="#000" fill-opacity="0.5"/><circle cx="135.1" cy="124.7" r="0.45" fill="#000" fill-opacity="0.5"/><circle cx="166.1" cy="128.5" r="0.45" fill="#000" fill-opacity="0.5"/><circle cx="157.3" cy="125.7" r="0.45" fill="#000" fill-opacity="0.5"/><circle cx="167.5" cy="129.0" r="0.45" fill="#000" fill-opacity="0.5"/><circle cx="147.0" cy="126.2" r="0.45" fill="#000" fill-opacity="0.5"/><circle cx="135.1" cy="127.3" r="0.45" fill="#000" fill-opacity="0.5"/><circle cx="162.9" cy="122.8" r="0.45" fill="#000" fill-opacity="0.5"/><circle cx="139.2" cy="125.9" r="0.45" fill="#000" fill-opacity="0.5"/><circle cx="137.1" cy="127.5" r="0.45" fill="#000" fill-opacity="0.5"/><circle cx="155.0" cy="122.2" r="0.45" fill="#000" fill-opacity="0.5"/><circle cx="146.0" cy="122.8" r="0.45" fill="#000" fill-opacity="0.5"/><circle cx="156.9" cy="124.4" r="0.45" fill="#000" fill-opacity="0.5"/><circle cx="148.9" cy="125.0" r="0.45" fill="#000" fill-opacity="0.5"/><circle cx="163.0" cy="122.9" r="0.45" fill="#000" fill-opacity="0.5"/><circle cx="135.7" cy="128.4" r="0.45" fill="#000" fill-opacity="0.5"/><circle cx="144.1" cy="126.7" r="0.45" fill="#000" fill-opacity="0.5"/><circle cx="135.1" cy="124.9" r="0.45" fill="#000" fill-opacity="0.5"/><circle cx="161.1" cy="128.4" r="0.45" fill="#000" fill-opacity="0.5"/><circle cx="148.3" cy="122.0" r="0.45" fill="#000" fill-opacity="0.5"/><circle cx="168.0" cy="124.9" r="0.45" fill="#000" fill-opacity="0.5"/><circle cx="158.8" cy="124.5" r="0.45" fill="#000" fill-opacity="0.5"/><circle cx="161.6" cy="124.1" r="0.45" fill="#000" fill-opacity="0.5"/><circle cx="141.0" cy="124.6" r="0.45" fill="#000" fill-opacity="0.5"/><circle cx="158.2" cy="122.3" r="0.45" fill="#000" fill-opacity="0.5"/><circle cx="155.9" cy="128.9" r="0.45" fill="#000" fill-opacity="0.5"/><circle cx="168.4" cy="126.9" r="0.45" fill="#000" fill-opacity="0.5"/><circle cx="161.8" cy="124.2" r="0.45" fill="#000" fill-opacity="0.5"/><circle cx="145.9" cy="122.6" r="0.45" fill="#000" fill-opacity="0.5"/><circle cx="137.5" cy="123.6" r="0.45" fill="#000" fill-opacity="0.5"/><circle cx="148.7" cy="123.0" r="0.45" fill="#000" fill-opacity="0.5"/><circle cx="152.4" cy="132.9" r="0.45" fill="#000" fill-opacity="0.5"/><circle cx="139.7" cy="124.1" r="0.45" fill="#000" fill-opacity="0.5"/><circle cx="153.9" cy="129.7" r="0.45" fill="#000" fill-opacity="0.5"/><circle cx="144.1" cy="123.3" r="0.45" fill="#000" fill-opacity="0.5"/><circle cx="152.0" cy="128.0" r="0.45" fill="#000" fill-opacity="0.5"/><circle cx="168.7" cy="129.9" r="0.45" fill="#000" fill-opacity="0.5"/><circle cx="165.8" cy="123.5" r="0.45" fill="#000" fill-opacity="0.5"/><circle cx="151.2" cy="128.1" r="0.45" fill="#000" fill-opacity="0.5"/><circle cx="169.8" cy="122.0" r="0.45" fill="#000" fill-opacity="0.5"/><circle cx="166.9" cy="123.1" r="0.45" fill="#000" fill-opacity="0.5"/><circle cx="162.7" cy="123.8" r="0.45" fill="#000" fill-opacity="0.5"/><circle cx="169.8" cy="121.2" r="0.45" fill="#000" fill-opacity="0.5"/><circle cx="143.0" cy="121.7" r="0.45" fill="#000" fill-opacity="0.5"/><circle cx="147.5" cy="131.8" r="0.45" fill="#000" fill-opacity="0.5"/><circle cx="153.2" cy="129.1" r="0.45" fill="#000" fill-opacity="0.5"/><circle cx="138.7" cy="121.8" r="0.45" fill="#000" fill-opacity="0.5"/><circle cx="165.5" cy="122.9" r="0.45" fill="#000" fill-opacity="0.5"/><circle cx="156.1" cy="122.8" r="0.45" fill="#000" fill-opacity="0.5"/><circle cx="165.3" cy="121.2" r="0.45" fill="#000" fill-opacity="0.5"/><circle cx="169.3" cy="124.9" r="0.45" fill="#000" fill-opacity="0.5"/><circle cx="165.6" cy="122.7" r="0.45" fill="#000" fill-opacity="0.5"/><circle cx="162.2" cy="128.8" r="0.45" fill="#000" fill-opacity="0.5"/><circle cx="155.5" cy="124.6" r="0.45" fill="#000" fill-opacity="0.5"/><circle cx="165.2" cy="126.5" r="0.45" fill="#000" fill-opacity="0.5"/><circle cx="151.7" cy="131.7" r="0.45" fill="#000" fill-opacity="0.5"/><circle cx="152.6" cy="126.3" r="0.45" fill="#000" fill-opacity="0.5"/><circle cx="143.8" cy="122.1" r="0.45" fill="#000" fill-opacity="0.5"/><circle cx="159.0" cy="129.8" r="0.45" fill="#000" fill-opacity="0.5"/><circle cx="142.7" cy="124.8" r="0.45" fill="#000" fill-opacity="0.5"/><circle cx="153.3" cy="125.2" r="0.45" fill="#000" fill-opacity="0.5"/><circle cx="168.1" cy="128.3" r="0.45" fill="#000" fill-opacity="0.5"/><circle cx="161.9" cy="122.3" r="0.45" fill="#000" fill-opacity="0.5"/><circle cx="152.7" cy="121.5" r="0.45" fill="#000" fill-opacity="0.5"/><circle cx="164.5" cy="130.0" r="0.45" fill="#000" fill-opacity="0.5"/><circle cx="159.9" cy="121.1" r="0.45" fill="#000" fill-opacity="0.5"/><circle cx="165.9" cy="122.6" r="0.45" fill="#000" fill-opacity="0.5"/><circle cx="141.4" cy="126.0" r="0.45" fill="#000" fill-opacity="0.5"/><circle cx="151.4" cy="121.7" r="0.45" fill="#000" fill-opacity="0.5"/><circle cx="168.0" cy="128.4" r="0.45" fill="#000" fill-opacity="0.5"/><circle cx="151.2" cy="125.1" r="0.45" fill="#000" fill-opacity="0.5"/><circle cx="160.2" cy="124.4" r="0.45" fill="#000" fill-opacity="0.5"/><circle cx="152.1" cy="130.9" r="0.45" fill="#000" fill-opacity="0.5"/><circle cx="162.2" cy="125.6" r="0.45" fill="#000" fill-opacity="0.5"/><circle cx="148.6" cy="129.3" r="0.45" fill="#000" fill-opacity="0.5"/><circle cx="149.5" cy="126.4" r="0.45" fill="#000" fill-opacity="0.5"/><circle cx="152.6" cy="124.9" r="0.45" fill="#000" fill-opacity="0.5"/><circle cx="153.2" cy="122.6" r="0.45" fill="#000" fill-opacity="0.5"/><circle cx="161.9" cy="126.5" r="0.45" fill="#000" fill-opacity="0.5"/><circle cx="167.9" cy="121.8" r="0.45" fill="#000" fill-opacity="0.5"/><circle cx="166.6" cy="125.9" r="0.45" fill="#000" fill-opacity="0.5"/><circle cx="141.9" cy="130.5" r="0.45" fill="#000" fill-opacity="0.5"/><circle cx="137.1" cy="121.9" r="0.45" fill="#000" fill-opacity="0.5"/><circle cx="168.8" cy="125.2" r="0.45" fill="#000" fill-opacity="0.5"/><circle cx="151.9" cy="123.1" r="0.45" fill="#000" fill-opacity="0.5"/><circle cx="166.2" cy="121.7" r="0.45" fill="#000" fill-opacity="0.5"/><circle cx="140.2" cy="124.9" r="0.45" fill="#000" fill-opacity="0.5"/><circle cx="168.6" cy="123.9" r="0.45" fill="#000" fill-opacity="0.5"/><circle cx="167.7" cy="125.5" r="0.45" fill="#000" fill-opacity="0.5"/><circle cx="138.0" cy="122.7" r="0.45" fill="#000" fill-opacity="0.5"/><circle cx="143.7" cy="123.7" r="0.45" fill="#000" fill-opacity="0.5"/><circle cx="150.4" cy="127.4" r="0.45" fill="#000" fill-opacity="0.5"/><circle cx="154.3" cy="125.1" r="0.45" fill="#000" fill-opacity="0.5"/><circle cx="164.3" cy="124.1" r="0.45" fill="#000" fill-opacity="0.5"/><circle cx="154.6" cy="125.9" r="0.45" fill="#000" fill-opacity="0.5"/><circle cx="142.2" cy="123.8" r="0.45" fill="#000" fill-opacity="0.5"/><circle cx="163.3" cy="124.5" r="0.45" fill="#000" fill-opacity="0.5"/><circle cx="152.5" cy="122.7" r="0.45" fill="#000" fill-opacity="0.5"/><circle cx="149.8" cy="128.6" r="0.45" fill="#000" fill-opacity="0.5"/><circle cx="154.5" cy="124.0" r="0.45" fill="#000" fill-opacity="0.5"/><circle cx="161.0" cy="123.4" r="0.45" fill="#000" fill-opacity="0.5"/><circle cx="135.6" cy="121.3" r="0.45" fill="#000" fill-opacity="0.5"/><circle cx="158.3" cy="128.8" r="0.45" fill="#000" fill-opacity="0.5"/><circle cx="142.7" cy="127.1" r="0.45" fill="#000" fill-opacity="0.5"/><circle cx="136.1" cy="121.2" r="0.45" fill="#000" fill-opacity="0.5"/><circle cx="166.1" cy="124.4" r="0.45" fill="#000" fill-opacity="0.5"/><circle cx="154.2" cy="126.3" r="0.45" fill="#000" fill-opacity="0.5"/><circle cx="165.6" cy="123.8" r="0.45" fill="#000" fill-opacity="0.5"/><circle cx="137.3" cy="124.1" r="0.45" fill="#000" fill-opacity="0.5"/><circle cx="165.0" cy="128.8" r="0.45" fill="#000" fill-opacity="0.5"/><circle cx="163.6" cy="121.9" r="0.45" fill="#000" fill-opacity="0.5"/><circle cx="168.7" cy="124.0" r="0.45" fill="#000" fill-opacity="0.5"/><circle cx="161.9" cy="123.4" r="0.45" fill="#000" fill-opacity="0.5"/><circle cx="135.2" cy="122.9" r="0.45" fill="#000" fill-opacity="0.5"/><circle cx="141.0" cy="125.8" r="0.45" fill="#000" fill-opacity="0.5"/><circle cx="160.2" cy="125.9" r="0.45" fill="#000" fill-opacity="0.5"/><circle cx="144.2" cy="124.1" r="0.45" fill="#000" fill-opacity="0.5"/><circle cx="161.0" cy="125.0" r="0.45" fill="#000" fill-opacity="0.5"/><circle cx="142.3" cy="128.0" r="0.45" fill="#000" fill-opacity="0.5"/><circle cx="159.0" cy="122.7" r="0.45" fill="#000" fill-opacity="0.5"/><circle cx="147.0" cy="122.9" r="0.45" fill="#000" fill-opacity="0.5"/><circle cx="161.1" cy="129.4" r="0.45" fill="#000" fill-opacity="0.5"/><circle cx="143.5" cy="128.1" r="0.45" fill="#000" fill-opacity="0.5"/><circle cx="136.6" cy="127.7" r="0.45" fill="#000" fill-opacity="0.5"/><circle cx="166.4" cy="122.9" r="0.45" fill="#000" fill-opacity="0.5"/><circle cx="158.8" cy="121.9" r="0.45" fill="#000" fill-opacity="0.5"/><circle cx="166.4" cy="125.2" r="0.45" fill="#000" fill-opacity="0.5"/><circle cx="167.5" cy="122.9" r="0.45" fill="#000" fill-opacity="0.5"/><circle cx="170.0" cy="125.6" r="0.45" fill="#000" fill-opacity="0.5"/><circle cx="143.8" cy="128.5" r="0.45" fill="#000" fill-opacity="0.5"/><circle cx="140.5" cy="122.8" r="0.45" fill="#000" fill-opacity="0.5"/><circle cx="138.2" cy="122.8" r="0.45" fill="#000" fill-opacity="0.5"/><circle cx="153.2" cy="124.2" r="0.45" fill="#000" fill-opacity="0.5"/><circle cx="144.1" cy="125.7" r="0.45" fill="#000" fill-opacity="0.5"/><circle cx="167.6" cy="123.4" r="0.45" fill="#000" fill-opacity="0.5"/><circle cx="163.4" cy="125.8" r="0.45" fill="#000" fill-opacity="0.5"/><circle cx="163.5" cy="127.2" r="0.45" fill="#000" fill-opacity="0.5"/><circle cx="148.0" cy="121.1" r="0.45" fill="#000" fill-opacity="0.5"/><circle cx="147.0" cy="123.7" r="0.45" fill="#000" fill-opacity="0.5"/><circle cx="166.0" cy="125.4" r="0.45" fill="#000" fill-opacity="0.5"/><circle cx="158.1" cy="129.2" r="0.45" fill="#000" fill-opacity="0.5"/><circle cx="140.1" cy="129.9" r="0.45" fill="#000" fill-opacity="0.5"/><circle cx="161.4" cy="123.7" r="0.45" fill="#000" fill-opacity="0.5"/><circle cx="136.4" cy="129.3" r="0.45" fill="#000" fill-opacity="0.5"/><circle cx="140.6" cy="123.1" r="0.45" fill="#000" fill-opacity="0.5"/><circle cx="163.4" cy="122.5" r="0.45" fill="#000" fill-opacity="0.5"/><circle cx="159.8" cy="123.3" r="0.45" fill="#000" fill-opacity="0.5"/><circle cx="159.5" cy="121.1" r="0.45" fill="#000" fill-opacity="0.5"/><circle cx="146.8" cy="126.9" r="0.45" fill="#000" fill-opacity="0.5"/><circle cx="167.1" cy="122.3" r="0.45" fill="#000" fill-opacity="0.5"/><circle cx="165.6" cy="122.2" r="0.45" fill="#000" fill-opacity="0.5"/><circle cx="168.1" cy="126.1" r="0.45" fill="#000" fill-opacity="0.5"/><circle cx="140.1" cy="124.3" r="0.45" fill="#000" fill-opacity="0.5"/><circle cx="135.0" cy="127.3" r="0.45" fill="#000" fill-opacity="0.5"/><circle cx="149.3" cy="122.4" r="0.45" fill="#000" fill-opacity="0.5"/><circle cx="141.4" cy="122.1" r="0.45" fill="#000" fill-opacity="0.5"/><circle cx="154.9" cy="122.4" r="0.45" fill="#000" fill-opacity="0.5"/><circle cx="156.8" cy="121.2" r="0.45" fill="#000" fill-opacity="0.5"/><circle cx="165.2" cy="121.5" r="0.45" fill="#000" fill-opacity="0.5"/><circle cx="159.3" cy="123.7" r="0.45" fill="#000" fill-opacity="0.5"/><circle cx="149.8" cy="128.0" r="0.45" fill="#000" fill-opacity="0.5"/><circle cx="137.6" cy="125.2" r="0.45" fill="#000" fill-opacity="0.5"/><circle cx="160.1" cy="127.7" r="0.45" fill="#000" fill-opacity="0.5"/><circle cx="159.5" cy="129.2" r="0.45" fill="#000" fill-opacity="0.5"/><circle cx="151.2" cy="121.9" r="0.45" fill="#000" fill-opacity="0.5"/><circle cx="169.6" cy="126.7" r="0.45" fill="#000" fill-opacity="0.5"/><circle cx="150.4" cy="121.9" r="0.45" fill="#000" fill-opacity="0.5"/><circle cx="167.7" cy="121.2" r="0.45" fill="#000" fill-opacity="0.5"/><circle cx="139.2" cy="124.4" r="0.45" fill="#000" fill-opacity="0.5"/><circle cx="152.1" cy="124.3" r="0.45" fill="#000" fill-opacity="0.5"/><circle cx="139.6" cy="125.3" r="0.45" fill="#000" fill-opacity="0.5"/><circle cx="168.5" cy="121.7" r="0.45" fill="#000" fill-opacity="0.5"/><circle cx="163.3" cy="126.1" r="0.45" fill="#000" fill-opacity="0.5"/><circle cx="167.5" cy="122.0" r="0.45" fill="#000" fill-opacity="0.5"/><circle cx="150.9" cy="122.9" r="0.45" fill="#000" fill-opacity="0.5"/><circle cx="153.6" cy="125.4" r="0.45" fill="#000" fill-opacity="0.5"/><circle cx="139.6" cy="121.3" r="0.45" fill="#000" fill-opacity="0.5"/><circle cx="153.5" cy="124.4" r="0.45" fill="#000" fill-opacity="0.5"/><circle cx="166.3" cy="122.0" r="0.45" fill="#000" fill-opacity="0.5"/><circle cx="167.3" cy="122.7" r="0.45" fill="#000" fill-opacity="0.5"/><circle cx="164.6" cy="125.0" r="0.45" fill="#000" fill-opacity="0.5"/><circle cx="149.6" cy="121.4" r="0.45" fill="#000" fill-opacity="0.5"/><circle cx="155.7" cy="127.9" r="0.45" fill="#000" fill-opacity="0.5"/><circle cx="161.5" cy="130.3" r="0.45" fill="#000" fill-opacity="0.5"/><circle cx="143.1" cy="130.8" r="0.45" fill="#000" fill-opacity="0.5"/><circle cx="152.6" cy="126.6" r="0.45" fill="#000" fill-opacity="0.5"/><circle cx="159.4" cy="130.4" r="0.45" fill="#000" fill-opacity="0.5"/><circle cx="142.9" cy="123.6" r="0.45" fill="#000" fill-opacity="0.5"/><circle cx="137.5" cy="121.4" r="0.45" fill="#000" fill-opacity="0.5"/><circle cx="145.9" cy="123.0" r="0.45" fill="#000" fill-opacity="0.5"/><circle cx="166.2" cy="123.1" r="0.45" fill="#000" fill-opacity="0.5"/><circle cx="137.4" cy="130.3" r="0.45" fill="#000" fill-opacity="0.5"/><circle cx="156.9" cy="126.5" r="0.45" fill="#000" fill-opacity="0.5"/><circle cx="153.8" cy="126.8" r="0.45" fill="#000" fill-opacity="0.5"/><circle cx="153.6" cy="126.3" r="0.45" fill="#000" fill-opacity="0.5"/><circle cx="162.5" cy="126.7" r="0.45" fill="#000" fill-opacity="0.5"/><circle cx="150.3" cy="130.1" r="0.45" fill="#000" fill-opacity="0.5"/><circle cx="170.2" cy="125.2" r="0.45" fill="#000" fill-opacity="0.5"/><circle cx="164.4" cy="126.4" r="0.45" fill="#000" fill-opacity="0.5"/><circle cx="166.6" cy="129.9" r="0.45" fill="#000" fill-opacity="0.5"/><circle cx="164.3" cy="123.0" r="0.45" fill="#000" fill-opacity="0.5"/><circle cx="146.0" cy="124.8" r="0.45" fill="#000" fill-opacity="0.5"/><circle cx="168.2" cy="123.6" r="0.45" fill="#000" fill-opacity="0.5"/><circle cx="158.6" cy="123.3" r="0.45" fill="#000" fill-opacity="0.5"/><circle cx="149.5" cy="121.8" r="0.45" fill="#000" fill-opacity="0.5"/><circle cx="158.9" cy="124.3" r="0.45" fill="#000" fill-opacity="0.5"/><circle cx="151.1" cy="124.0" r="0.45" fill="#000" fill-opacity="0.5"/><circle cx="168.6" cy="122.4" r="0.45" fill="#000" fill-opacity="0.5"/><circle cx="152.2" cy="121.8" r="0.45" fill="#000" fill-opacity="0.5"/><circle cx="161.3" cy="124.9" r="0.45" fill="#000" fill-opacity="0.5"/><circle cx="155.6" cy="121.2" r="0.45" fill="#000" fill-opacity="0.5"/><circle cx="142.7" cy="121.4" r="0.45" fill="#000" fill-opacity="0.5"/><circle cx="151.4" cy="121.2" r="0.45" fill="#000" fill-opacity="0.5"/><circle cx="143.9" cy="122.4" r="0.45" fill="#000" fill-opacity="0.5"/><circle cx="140.3" cy="127.0" r="0.45" fill="#000" fill-opacity="0.5"/><circle cx="165.9" cy="125.9" r="0.45" fill="#000" fill-opacity="0.5"/><circle cx="169.1" cy="122.3" r="0.45" fill="#000" fill-opacity="0.5"/><circle cx="144.0" cy="121.5" r="0.45" fill="#000" fill-opacity="0.5"/><circle cx="150.3" cy="122.6" r="0.45" fill="#000" fill-opacity="0.5"/><circle cx="169.3" cy="125.1" r="0.45" fill="#000" fill-opacity="0.5"/><circle cx="166.7" cy="122.1" r="0.45" fill="#000" fill-opacity="0.5"/><circle cx="141.8" cy="122.4" r="0.45" fill="#000" fill-opacity="0.5"/><circle cx="150.1" cy="123.7" r="0.45" fill="#000" fill-opacity="0.5"/><circle cx="146.5" cy="121.4" r="0.45" fill="#000" fill-opacity="0.5"/><circle cx="161.5" cy="129.2" r="0.45" fill="#000" fill-opacity="0.5"/><circle cx="157.7" cy="126.2" r="0.45" fill="#000" fill-opacity="0.5"/><circle cx="167.7" cy="130.1" r="0.45" fill="#000" fill-opacity="0.5"/><circle cx="166.8" cy="121.7" r="0.45" fill="#000" fill-opacity="0.5"/><circle cx="140.9" cy="127.8" r="0.45" fill="#000" fill-opacity="0.5"/><circle cx="156.8" cy="124.7" r="0.45" fill="#000" fill-opacity="0.5"/><circle cx="166.0" cy="121.8" r="0.45" fill="#000" fill-opacity="0.5"/><circle cx="153.1" cy="127.5" r="0.45" fill="#000" fill-opacity="0.5"/><circle cx="145.3" cy="127.8" r="0.45" fill="#000" fill-opacity="0.5"/><circle cx="142.0" cy="125.8" r="0.45" fill="#000" fill-opacity="0.5"/><circle cx="155.0" cy="121.7" r="0.45" fill="#000" fill-opacity="0.5"/><circle cx="170.1" cy="121.4" r="0.45" fill="#000" fill-opacity="0.5"/><circle cx="153.4" cy="123.2" r="0.45" fill="#000" fill-opacity="0.5"/><circle cx="145.3" cy="121.7" r="0.45" fill="#000" fill-opacity="0.5"/><circle cx="146.6" cy="121.3" r="0.45" fill="#000" fill-opacity="0.5"/><circle cx="165.0" cy="123.0" r="0.45" fill="#000" fill-opacity="0.5"/><circle cx="142.9" cy="121.2" r="0.45" fill="#000" fill-opacity="0.5"/><circle cx="156.2" cy="121.8" r="0.45" fill="#000" fill-opacity="0.5"/><circle cx="160.0" cy="125.3" r="0.45" fill="#000" fill-opacity="0.5"/><circle cx="152.8" cy="124.6" r="0.45" fill="#000" fill-opacity="0.5"/><circle cx="161.4" cy="128.6" r="0.45" fill="#000" fill-opacity="0.5"/><circle cx="167.0" cy="122.4" r="0.45" fill="#000" fill-opacity="0.5"/><circle cx="166.2" cy="125.8" r="0.45" fill="#000" fill-opacity="0.5"/><circle cx="161.6" cy="126.8" r="0.45" fill="#000" fill-opacity="0.5"/><circle cx="159.5" cy="125.5" r="0.45" fill="#000" fill-opacity="0.5"/><circle cx="167.2" cy="127.2" r="0.45" fill="#000" fill-opacity="0.5"/><circle cx="152.3" cy="127.7" r="0.45" fill="#000" fill-opacity="0.5"/><circle cx="169.7" cy="121.0" r="0.45" fill="#000" fill-opacity="0.5"/><circle cx="142.9" cy="125.2" r="0.45" fill="#000" fill-opacity="0.5"/><circle cx="162.4" cy="128.2" r="0.45" fill="#000" fill-opacity="0.5"/><circle cx="148.8" cy="130.6" r="0.45" fill="#000" fill-opacity="0.5"/><circle cx="150.3" cy="128.5" r="0.45" fill="#000" fill-opacity="0.5"/><circle cx="151.4" cy="133.1" r="0.45" fill="#000" fill-opacity="0.5"/><circle cx="149.5" cy="122.7" r="0.45" fill="#000" fill-opacity="0.5"/><circle cx="136.1" cy="122.5" r="0.45" fill="#000" fill-opacity="0.5"/><circle cx="166.6" cy="121.7" r="0.45" fill="#000" fill-opacity="0.5"/><circle cx="138.3" cy="125.4" r="0.45" fill="#000" fill-opacity="0.5"/><circle cx="145.2" cy="124.2" r="0.45" fill="#000" fill-opacity="0.5"/><circle cx="163.7" cy="132.9" r="0.45" fill="#000" fill-opacity="0.5"/><circle cx="164.5" cy="130.8" r="0.45" fill="#000" fill-opacity="0.5"/><circle cx="166.3" cy="123.2" r="0.45" fill="#000" fill-opacity="0.5"/><circle cx="155.8" cy="124.6" r="0.45" fill="#000" fill-opacity="0.5"/><circle cx="159.2" cy="123.0" r="0.45" fill="#000" fill-opacity="0.5"/><circle cx="155.6" cy="122.2" r="0.45" fill="#000" fill-opacity="0.5"/><circle cx="169.3" cy="124.2" r="0.45" fill="#000" fill-opacity="0.5"/><circle cx="167.6" cy="123.4" r="0.45" fill="#000" fill-opacity="0.5"/><circle cx="144.2" cy="127.0" r="0.45" fill="#000" fill-opacity="0.5"/><circle cx="157.8" cy="122.7" r="0.45" fill="#000" fill-opacity="0.5"/><circle cx="159.6" cy="126.8" r="0.45" fill="#000" fill-opacity="0.5"/><circle cx="147.8" cy="125.9" r="0.45" fill="#000" fill-opacity="0.5"/><circle cx="159.9" cy="122.0" r="0.45" fill="#000" fill-opacity="0.5"/><circle cx="155.1" cy="129.4" r="0.45" fill="#000" fill-opacity="0.5"/><circle cx="161.2" cy="123.7" r="0.45" fill="#000" fill-opacity="0.5"/><circle cx="155.8" cy="123.2" r="0.45" fill="#000" fill-opacity="0.5"/><circle cx="147.2" cy="123.9" r="0.45" fill="#000" fill-opacity="0.5"/><circle cx="152.3" cy="123.2" r="0.45" fill="#000" fill-opacity="0.5"/><circle cx="160.8" cy="121.3" r="0.45" fill="#000" fill-opacity="0.5"/><circle cx="151.9" cy="124.2" r="0.45" fill="#000" fill-opacity="0.5"/><circle cx="165.5" cy="126.5" r="0.45" fill="#000" fill-opacity="0.5"/><circle cx="143.1" cy="121.8" r="0.45" fill="#000" fill-opacity="0.5"/><circle cx="160.1" cy="124.3" r="0.45" fill="#000" fill-opacity="0.5"/><circle cx="150.4" cy="127.8" r="0.45" fill="#000" fill-opacity="0.5"/><circle cx="154.9" cy="126.5" r="0.45" fill="#000" fill-opacity="0.5"/><circle cx="143.1" cy="123.4" r="0.45" fill="#000" fill-opacity="0.5"/><circle cx="150.4" cy="122.4" r="0.45" fill="#000" fill-opacity="0.5"/><circle cx="143.6" cy="121.3" r="0.45" fill="#000" fill-opacity="0.5"/><circle cx="154.4" cy="124.2" r="0.45" fill="#000" fill-opacity="0.5"/><circle cx="165.8" cy="127.3" r="0.45" fill="#000" fill-opacity="0.5"/><circle cx="155.1" cy="125.4" r="0.45" fill="#000" fill-opacity="0.5"/><circle cx="156.4" cy="129.1" r="0.45" fill="#000" fill-opacity="0.5"/><circle cx="139.2" cy="127.2" r="0.45" fill="#000" fill-opacity="0.5"/><circle cx="150.3" cy="123.4" r="0.45" fill="#000" fill-opacity="0.5"/><circle cx="162.3" cy="124.5" r="0.45" fill="#000" fill-opacity="0.5"/><circle cx="155.0" cy="123.0" r="0.45" fill="#000" fill-opacity="0.5"/><circle cx="142.1" cy="121.7" r="0.45" fill="#000" fill-opacity="0.5"/><circle cx="144.0" cy="125.5" r="0.45" fill="#000" fill-opacity="0.5"/><circle cx="154.4" cy="130.8" r="0.45" fill="#000" fill-opacity="0.5"/><circle cx="138.1" cy="124.3" r="0.45" fill="#000" fill-opacity="0.5"/><circle cx="167.4" cy="124.2" r="0.45" fill="#000" fill-opacity="0.5"/><circle cx="150.3" cy="127.7" r="0.45" fill="#000" fill-opacity="0.5"/><circle cx="145.7" cy="121.0" r="0.45" fill="#000" fill-opacity="0.5"/><circle cx="159.0" cy="125.3" r="0.45" fill="#000" fill-opacity="0.5"/><circle cx="141.5" cy="124.9" r="0.45" fill="#000" fill-opacity="0.5"/><circle cx="155.2" cy="125.7" r="0.45" fill="#000" fill-opacity="0.5"/><circle cx="166.0" cy="126.5" r="0.45" fill="#000" fill-opacity="0.5"/><circle cx="135.3" cy="129.3" r="0.45" fill="#000" fill-opacity="0.5"/><circle cx="154.7" cy="121.4" r="0.45" fill="#000" fill-opacity="0.5"/><circle cx="140.9" cy="124.4" r="0.45" fill="#000" fill-opacity="0.5"/><circle cx="160.3" cy="126.3" r="0.45" fill="#000" fill-opacity="0.5"/><circle cx="145.0" cy="125.5" r="0.45" fill="#000" fill-opacity="0.5"/><circle cx="147.4" cy="123.8" r="0.45" fill="#000" fill-opacity="0.5"/><circle cx="138.2" cy="125.3" r="0.45" fill="#000" fill-opacity="0.5"/><circle cx="149.7" cy="129.6" r="0.45" fill="#000" fill-opacity="0.5"/><circle cx="161.4" cy="126.6" r="0.45" fill="#000" fill-opacity="0.5"/><circle cx="138.0" cy="124.2" r="0.45" fill="#000" fill-opacity="0.5"/><circle cx="155.7" cy="127.0" r="0.45" fill="#000" fill-opacity="0.5"/><circle cx="170.2" cy="125.6" r="0.45" fill="#000" fill-opacity="0.5"/><circle cx="145.7" cy="123.7" r="0.45" fill="#000" fill-opacity="0.5"/><circle cx="150.1" cy="127.5" r="0.45" fill="#000" fill-opacity="0.5"/><circle cx="152.0" cy="129.6" r="0.45" fill="#000" fill-opacity="0.5"/><circle cx="143.8" cy="121.6" r="0.45" fill="#000" fill-opacity="0.5"/><circle cx="156.4" cy="121.7" r="0.45" fill="#000" fill-opacity="0.5"/><circle cx="150.7" cy="124.9" r="0.45" fill="#000" fill-opacity="0.5"/><circle cx="148.8" cy="121.4" r="0.45" fill="#000" fill-opacity="0.5"/><circle cx="144.3" cy="121.5" r="0.45" fill="#000" fill-opacity="0.5"/><circle cx="165.8" cy="131.0" r="0.45" fill="#000" fill-opacity="0.5"/><circle cx="158.5" cy="125.5" r="0.45" fill="#000" fill-opacity="0.5"/><circle cx="165.8" cy="123.2" r="0.45" fill="#000" fill-opacity="0.5"/><circle cx="140.8" cy="124.8" r="0.45" fill="#000" fill-opacity="0.5"/><circle cx="139.5" cy="124.6" r="0.45" fill="#000" fill-opacity="0.5"/><circle cx="153.6" cy="126.2" r="0.45" fill="#000" fill-opacity="0.5"/><circle cx="161.0" cy="122.5" r="0.45" fill="#000" fill-opacity="0.5"/><circle cx="155.0" cy="125.3" r="0.45" fill="#000" fill-opacity="0.5"/><circle cx="161.4" cy="126.8" r="0.45" fill="#000" fill-opacity="0.5"/><circle cx="148.9" cy="121.8" r="0.45" fill="#000" fill-opacity="0.5"/><circle cx="157.9" cy="123.3" r="0.45" fill="#000" fill-opacity="0.5"/><circle cx="148.6" cy="124.2" r="0.45" fill="#000" fill-opacity="0.5"/><circle cx="159.4" cy="125.7" r="0.45" fill="#000" fill-opacity="0.5"/><circle cx="143.0" cy="123.3" r="0.45" fill="#000" fill-opacity="0.5"/><circle cx="157.6" cy="122.6" r="0.45" fill="#000" fill-opacity="0.5"/><circle cx="148.5" cy="122.2" r="0.45" fill="#000" fill-opacity="0.5"/><circle cx="150.4" cy="129.4" r="0.45" fill="#000" fill-opacity="0.5"/><circle cx="151.6" cy="125.4" r="0.45" fill="#000" fill-opacity="0.5"/><circle cx="169.7" cy="124.2" r="0.45" fill="#000" fill-opacity="0.5"/><circle cx="149.1" cy="126.1" r="0.45" fill="#000" fill-opacity="0.5"/><circle cx="154.9" cy="127.9" r="0.45" fill="#000" fill-opacity="0.5"/><circle cx="159.3" cy="123.6" r="0.45" fill="#000" fill-opacity="0.5"/><circle cx="143.0" cy="125.5" r="0.45" fill="#000" fill-opacity="0.5"/><circle cx="157.7" cy="121.5" r="0.45" fill="#000" fill-opacity="0.5"/><circle cx="147.1" cy="134.6" r="0.45" fill="#000" fill-opacity="0.5"/><circle cx="163.2" cy="122.3" r="0.45" fill="#000" fill-opacity="0.5"/><circle cx="150.6" cy="122.1" r="0.45" fill="#000" fill-opacity="0.5"/><circle cx="162.8" cy="124.4" r="0.45" fill="#000" fill-opacity="0.5"/><circle cx="162.2" cy="128.9" r="0.45" fill="#000" fill-opacity="0.5"/><circle cx="136.0" cy="122.0" r="0.45" fill="#000" fill-opacity="0.5"/><circle cx="157.4" cy="123.1" r="0.45" fill="#000" fill-opacity="0.5"/><circle cx="165.1" cy="123.8" r="0.45" fill="#000" fill-opacity="0.5"/><circle cx="138.0" cy="122.2" r="0.45" fill="#000" fill-opacity="0.5"/><circle cx="138.9" cy="130.4" r="0.45" fill="#000" fill-opacity="0.5"/><circle cx="167.6" cy="124.1" r="0.45" fill="#000" fill-opacity="0.5"/><circle cx="169.4" cy="121.8" r="0.45" fill="#000" fill-opacity="0.5"/><circle cx="150.8" cy="121.1" r="0.45" fill="#000" fill-opacity="0.5"/><circle cx="167.0" cy="122.2" r="0.45" fill="#000" fill-opacity="0.5"/><circle cx="155.7" cy="130.1" r="0.45" fill="#000" fill-opacity="0.5"/><circle cx="149.4" cy="128.6" r="0.45" fill="#000" fill-opacity="0.5"/><circle cx="162.0" cy="122.5" r="0.45" fill="#000" fill-opacity="0.5"/><circle cx="165.4" cy="121.4" r="0.45" fill="#000" fill-opacity="0.5"/><circle cx="159.3" cy="127.2" r="0.45" fill="#000" fill-opacity="0.5"/><circle cx="157.7" cy="123.1" r="0.45" fill="#000" fill-opacity="0.5"/><circle cx="166.9" cy="123.0" r="0.45" fill="#000" fill-opacity="0.5"/><circle cx="152.3" cy="121.2" r="0.45" fill="#000" fill-opacity="0.5"/><circle cx="149.6" cy="124.6" r="0.45" fill="#000" fill-opacity="0.5"/><circle cx="149.9" cy="135.9" r="0.45" fill="#000" fill-opacity="0.5"/><circle cx="147.1" cy="123.2" r="0.45" fill="#000" fill-opacity="0.5"/><circle cx="144.7" cy="130.3" r="0.45" fill="#000" fill-opacity="0.5"/><circle cx="165.6" cy="127.5" r="0.45" fill="#000" fill-opacity="0.5"/><circle cx="152.7" cy="122.6" r="0.45" fill="#000" fill-opacity="0.5"/><circle cx="152.8" cy="122.3" r="0.45" fill="#000" fill-opacity="0.5"/><circle cx="164.7" cy="129.8" r="0.45" fill="#000" fill-opacity="0.5"/><circle cx="157.3" cy="122.2" r="0.45" fill="#000" fill-opacity="0.5"/><circle cx="159.8" cy="123.1" r="0.45" fill="#000" fill-opacity="0.5"/><circle cx="160.9" cy="125.9" r="0.45" fill="#000" fill-opacity="0.5"/><circle cx="163.5" cy="123.1" r="0.45" fill="#000" fill-opacity="0.5"/><circle cx="162.3" cy="126.0" r="0.45" fill="#000" fill-opacity="0.5"/><circle cx="158.2" cy="122.7" r="0.45" fill="#000" fill-opacity="0.5"/><circle cx="157.4" cy="130.3" r="0.45" fill="#000" fill-opacity="0.5"/><circle cx="161.3" cy="130.5" r="0.45" fill="#000" fill-opacity="0.5"/><circle cx="148.6" cy="124.2" r="0.45" fill="#000" fill-opacity="0.5"/><circle cx="141.8" cy="127.2" r="0.45" fill="#000" fill-opacity="0.5"/><circle cx="166.0" cy="121.3" r="0.45" fill="#000" fill-opacity="0.5"/><circle cx="148.4" cy="121.6" r="0.45" fill="#000" fill-opacity="0.5"/><circle cx="168.4" cy="121.6" r="0.45" fill="#000" fill-opacity="0.5"/><circle cx="162.0" cy="123.9" r="0.45" fill="#000" fill-opacity="0.5"/><circle cx="169.3" cy="122.9" r="0.45" fill="#000" fill-opacity="0.5"/><circle cx="146.6" cy="131.0" r="0.45" fill="#000" fill-opacity="0.5"/><circle cx="161.3" cy="121.9" r="0.45" fill="#000" fill-opacity="0.5"/><circle cx="158.4" cy="126.2" r="0.45" fill="#000" fill-opacity="0.5"/><circle cx="157.9" cy="121.9" r="0.45" fill="#000" fill-opacity="0.5"/><circle cx="167.6" cy="129.0" r="0.45" fill="#000" fill-opacity="0.5"/><circle cx="168.7" cy="130.6" r="0.45" fill="#000" fill-opacity="0.5"/><circle cx="135.5" cy="123.9" r="0.45" fill="#000" fill-opacity="0.5"/><circle cx="169.3" cy="123.9" r="0.45" fill="#000" fill-opacity="0.5"/><circle cx="160.5" cy="125.3" r="0.45" fill="#000" fill-opacity="0.5"/><circle cx="143.3" cy="128.4" r="0.45" fill="#000" fill-opacity="0.5"/><circle cx="163.1" cy="124.2" r="0.45" fill="#000" fill-opacity="0.5"/><circle cx="149.1" cy="121.7" r="0.45" fill="#000" fill-opacity="0.5"/><circle cx="140.7" cy="124.5" r="0.45" fill="#000" fill-opacity="0.5"/><circle cx="155.8" cy="124.0" r="0.45" fill="#000" fill-opacity="0.5"/><circle cx="142.8" cy="124.1" r="0.45" fill="#000" fill-opacity="0.5"/><circle cx="165.5" cy="122.1" r="0.45" fill="#000" fill-opacity="0.5"/><circle cx="165.3" cy="126.6" r="0.45" fill="#000" fill-opacity="0.5"/><circle cx="167.0" cy="121.6" r="0.45" fill="#000" fill-opacity="0.5"/><circle cx="153.5" cy="125.0" r="0.45" fill="#000" fill-opacity="0.5"/><circle cx="152.7" cy="125.0" r="0.45" fill="#000" fill-opacity="0.5"/><circle cx="170.2" cy="125.5" r="0.45" fill="#000" fill-opacity="0.5"/><circle cx="147.5" cy="123.0" r="0.45" fill="#000" fill-opacity="0.5"/><circle cx="157.1" cy="125.5" r="0.45" fill="#000" fill-opacity="0.5"/><circle cx="156.5" cy="123.6" r="0.45" fill="#000" fill-opacity="0.5"/><circle cx="157.3" cy="123.6" r="0.45" fill="#000" fill-opacity="0.5"/><circle cx="164.9" cy="121.3" r="0.45" fill="#000" fill-opacity="0.5"/><circle cx="143.8" cy="122.8" r="0.45" fill="#000" fill-opacity="0.5"/>
<circle cx="134.9" cy="141.3" r="0.45" fill="#000" fill-opacity="0.5"/><circle cx="138.4" cy="125.0" r="0.45" fill="#000" fill-opacity="0.5"/><circle cx="136.2" cy="137.9" r="0.45" fill="#000" fill-opacity="0.5"/><circle cx="136.4" cy="126.5" r="0.45" fill="#000" fill-opacity="0.5"/><circle cx="136.6" cy="134.3" r="0.45" fill="#000" fill-opacity="0.5"/><circle cx="136.0" cy="126.4" r="0.45" fill="#000" fill-opacity="0.5"/><circle cx="137.6" cy="132.0" r="0.45" fill="#000" fill-opacity="0.5"/><circle cx="135.5" cy="126.2" r="0.45" fill="#000" fill-opacity="0.5"/><circle cx="139.7" cy="136.4" r="0.45" fill="#000" fill-opacity="0.5"/><circle cx="138.6" cy="127.5" r="0.45" fill="#000" fill-opacity="0.5"/><circle cx="138.8" cy="132.2" r="0.45" fill="#000" fill-opacity="0.5"/><circle cx="137.4" cy="141.7" r="0.45" fill="#000" fill-opacity="0.5"/><circle cx="141.2" cy="126.2" r="0.45" fill="#000" fill-opacity="0.5"/><circle cx="136.4" cy="128.2" r="0.45" fill="#000" fill-opacity="0.5"/><circle cx="137.6" cy="135.6" r="0.45" fill="#000" fill-opacity="0.5"/><circle cx="141.8" cy="126.8" r="0.45" fill="#000" fill-opacity="0.5"/><circle cx="137.9" cy="138.3" r="0.45" fill="#000" fill-opacity="0.5"/><circle cx="136.3" cy="140.1" r="0.45" fill="#000" fill-opacity="0.5"/><circle cx="140.5" cy="133.4" r="0.45" fill="#000" fill-opacity="0.5"/><circle cx="142.6" cy="137.3" r="0.45" fill="#000" fill-opacity="0.5"/><circle cx="137.1" cy="129.4" r="0.45" fill="#000" fill-opacity="0.5"/><circle cx="141.5" cy="140.0" r="0.45" fill="#000" fill-opacity="0.5"/><circle cx="137.7" cy="141.1" r="0.45" fill="#000" fill-opacity="0.5"/><circle cx="135.5" cy="127.1" r="0.45" fill="#000" fill-opacity="0.5"/><circle cx="137.8" cy="130.9" r="0.45" fill="#000" fill-opacity="0.5"/><circle cx="134.3" cy="130.2" r="0.45" fill="#000" fill-opacity="0.5"/><circle cx="134.5" cy="132.7" r="0.45" fill="#000" fill-opacity="0.5"/><circle cx="139.9" cy="141.0" r="0.45" fill="#000" fill-opacity="0.5"/><circle cx="138.4" cy="124.4" r="0.45" fill="#000" fill-opacity="0.5"/><circle cx="139.2" cy="139.2" r="0.45" fill="#000" fill-opacity="0.5"/><circle cx="135.2" cy="137.7" r="0.45" fill="#000" fill-opacity="0.5"/><circle cx="138.2" cy="126.3" r="0.45" fill="#000" fill-opacity="0.5"/><circle cx="139.2" cy="136.8" r="0.45" fill="#000" fill-opacity="0.5"/><circle cx="134.7" cy="139.0" r="0.45" fill="#000" fill-opacity="0.5"/><circle cx="137.7" cy="130.2" r="0.45" fill="#000" fill-opacity="0.5"/><circle cx="138.0" cy="125.3" r="0.45" fill="#000" fill-opacity="0.5"/><circle cx="135.3" cy="124.3" r="0.45" fill="#000" fill-opacity="0.5"/><circle cx="137.4" cy="132.1" r="0.45" fill="#000" fill-opacity="0.5"/><circle cx="135.2" cy="140.2" r="0.45" fill="#000" fill-opacity="0.5"/><circle cx="142.8" cy="133.8" r="0.45" fill="#000" fill-opacity="0.5"/>
<path d="M134.8 119.8 Q134.4 122 136.2 122.6 L170.3 123.8 L170.3 115.3 L137 117.2 Q135.2 117.8 134.8 119.8Z" fill="url(#band)" stroke="none" stroke-width="1" />
</g>
<text x="259.80" y="19.40" font-family="Liberation Sans, sans-serif" font-size="11.5" font-weight="bold" text-anchor="start" fill="#000" stroke="#000" stroke-width="0.18" stroke-linejoin="round" textLength="7.50" lengthAdjust="spacingAndGlyphs" >B</text>
<text x="293.00" y="4.20" font-family="Liberation Sans, sans-serif" font-size="5.8" font-weight="bold" text-anchor="start" fill="#000" stroke="#000" stroke-width="0.1" stroke-linejoin="round" textLength="37.00" lengthAdjust="spacingAndGlyphs" >Conditioning</text>
<line x1="293.00" y1="5.00" x2="330.00" y2="5.00" stroke="#000" stroke-width="0.5" />
<text x="293.00" y="11.00" font-family="Liberation Sans, sans-serif" font-size="5.8" font-weight="bold" text-anchor="start" fill="#000" stroke="#000" stroke-width="0.1" stroke-linejoin="round" textLength="27.20" lengthAdjust="spacingAndGlyphs" >treatment</text>
<line x1="293.00" y1="11.80" x2="320.20" y2="11.80" stroke="#000" stroke-width="0.5" />
<line x1="308.20" y1="12.30" x2="308.20" y2="16.50" stroke="#000" stroke-width="0.6" />
<path d="M307.10 16.10L309.30 16.10L308.20 18.30Z" fill="#000" stroke="none" stroke-width="1" />
<text x="347.20" y="8.10" font-family="Liberation Serif, serif" font-size="6.2" font-weight="bold" text-anchor="start" fill="#000" stroke="#000" stroke-width="0.3" stroke-linejoin="round" textLength="41.00" lengthAdjust="spacingAndGlyphs" >MHC Class II</text>
<line x1="347.20" y1="9.30" x2="388.20" y2="9.30" stroke="#000" stroke-width="0.6" />
<text x="417.30" y="8.40" font-family="Liberation Serif, serif" font-size="6.2" font-weight="bold" text-anchor="start" fill="#000" stroke="#000" stroke-width="0.3" stroke-linejoin="round" textLength="17.30" lengthAdjust="spacingAndGlyphs" >CD40</text>
<line x1="417.30" y1="9.60" x2="434.60" y2="9.60" stroke="#000" stroke-width="0.6" />
<text x="482.00" y="9.40" font-family="Liberation Serif, serif" font-size="6.2" font-weight="bold" text-anchor="start" fill="#000" stroke="#000" stroke-width="0.3" stroke-linejoin="round" textLength="12.60" lengthAdjust="spacingAndGlyphs" >B7.2</text>
<line x1="482.00" y1="10.80" x2="494.60" y2="10.80" stroke="#000" stroke-width="0.6" />
<text x="297.30" y="35.60" font-family="Liberation Serif, serif" font-size="5.6" font-weight="bold" text-anchor="start" fill="#000" stroke="#000" stroke-width="0.1" stroke-linejoin="round" textLength="13.30" lengthAdjust="spacingAndGlyphs" >Flt3L</text>
<text x="297.30" y="64.90" font-family="Liberation Serif, serif" font-size="5.6" font-weight="bold" text-anchor="start" fill="#000" stroke="#000" stroke-width="0.1" stroke-linejoin="round" textLength="24.60" lengthAdjust="spacingAndGlyphs" >Flt3L+IL6</text>
<text x="296.80" y="87.40" font-family="Liberation Serif, serif" font-size="5.6" font-weight="bold" text-anchor="start" fill="#000" stroke="#000" stroke-width="0.1" stroke-linejoin="round" textLength="11.30" lengthAdjust="spacingAndGlyphs" >Flt3L+</text>
<text x="296.80" y="94.90" font-family="Liberation Serif, serif" font-size="5.6" font-weight="bold" text-anchor="start" fill="#000" stroke="#000" stroke-width="0.1" stroke-linejoin="round" textLength="32.80" lengthAdjust="spacingAndGlyphs" >GMCSF+IL6</text>
<text x="296.80" y="123.00" font-family="Liberation Serif, serif" font-size="5.6" font-weight="bold" text-anchor="start" fill="#000" stroke="#000" stroke-width="0.1" stroke-linejoin="round" textLength="35.80" lengthAdjust="spacingAndGlyphs" >Flt3L+GMCSF</text>
<text x="296.80" y="153.80" font-family="Liberation Serif, serif" font-size="5.6" font-weight="bold" text-anchor="start" fill="#000" stroke="#000" stroke-width="0.1" stroke-linejoin="round" textLength="20.40" lengthAdjust="spacingAndGlyphs" >GMCSF</text>
<path d="M341.50 40.60L341.50 39.60C342.08 39.57 343.75 39.45 345.00 39.40C346.25 39.35 347.67 39.40 349.00 39.30C350.33 39.20 351.83 38.80 353.00 38.80C354.17 38.80 354.83 39.17 356.00 39.30C357.17 39.43 358.50 39.58 360.00 39.60C361.50 39.62 363.50 39.53 365.00 39.40C366.50 39.27 367.67 39.07 369.00 38.80C370.33 38.53 371.83 37.83 373.00 37.80C374.17 37.77 374.83 38.52 376.00 38.60C377.17 38.68 378.67 38.47 380.00 38.30C381.33 38.13 383.00 37.88 384.00 37.60C385.00 37.32 385.33 37.10 386.00 36.60C386.67 36.10 387.33 35.35 388.00 34.60C388.67 33.85 389.42 32.93 390.00 32.10C390.58 31.27 391.12 30.35 391.50 29.60C391.88 28.85 392.17 27.93 392.30 27.60L392.30 40.60Z" fill="#000" stroke="none" stroke-width="1" />
<path d="M344.00 40.10C344.50 40.02 346.17 39.85 347.00 39.60C347.83 39.35 348.33 39.27 349.00 38.60C349.67 37.93 350.33 37.02 351.00 35.60C351.67 34.18 352.42 31.68 353.00 30.10C353.58 28.52 354.08 26.92 354.50 26.10C354.92 25.28 355.12 25.20 355.50 25.20C355.88 25.20 356.30 25.28 356.80 26.10C357.30 26.92 357.88 28.52 358.50 30.10C359.12 31.68 359.83 34.18 360.50 35.60C361.17 37.02 361.83 37.93 362.50 38.60C363.17 39.27 363.75 39.35 364.50 39.60C365.25 39.85 366.58 40.02 367.00 40.10" fill="none" stroke="#fff" stroke-width="1.8" stroke-linejoin="round"/>
<path d="M344.00 40.10C344.50 40.02 346.17 39.85 347.00 39.60C347.83 39.35 348.33 39.27 349.00 38.60C349.67 37.93 350.33 37.02 351.00 35.60C351.67 34.18 352.42 31.68 353.00 30.10C353.58 28.52 354.08 26.92 354.50 26.10C354.92 25.28 355.12 25.20 355.50 25.20C355.88 25.20 356.30 25.28 356.80 26.10C357.30 26.92 357.88 28.52 358.50 30.10C359.12 31.68 359.83 34.18 360.50 35.60C361.17 37.02 361.83 37.93 362.50 38.60C363.17 39.27 363.75 39.35 364.50 39.60C365.25 39.85 366.58 40.02 367.00 40.10" fill="none" stroke="#333" stroke-width="0.9" stroke-linejoin="round"/>
<line x1="341.30" y1="19.60" x2="392.50" y2="19.60" stroke="#888" stroke-width="0.9" />
<line x1="392.50" y1="19.60" x2="392.50" y2="25.60" stroke="#999" stroke-width="0.7" />
<line x1="341.30" y1="19.60" x2="341.30" y2="41.00" stroke="#222" stroke-width="0.75" />
<line x1="341.30" y1="40.60" x2="392.50" y2="40.60" stroke="#111" stroke-width="0.8" />
<line x1="341.30" y1="40.60" x2="341.30" y2="41.80" stroke="#555" stroke-width="0.5" />
<rect x="340.40" y="42.40" width="1.80" height="0.90" fill="#999" stroke="none" stroke-width="0" />
<line x1="354.10" y1="40.60" x2="354.10" y2="41.80" stroke="#555" stroke-width="0.5" />
<rect x="353.20" y="42.40" width="1.80" height="0.90" fill="#999" stroke="none" stroke-width="0" />
<line x1="366.90" y1="40.60" x2="366.90" y2="41.80" stroke="#555" stroke-width="0.5" />
<rect x="366.00" y="42.40" width="1.80" height="0.90" fill="#999" stroke="none" stroke-width="0" />
<line x1="379.70" y1="40.60" x2="379.70" y2="41.80" stroke="#555" stroke-width="0.5" />
<rect x="378.80" y="42.40" width="1.80" height="0.90" fill="#999" stroke="none" stroke-width="0" />
<line x1="392.50" y1="40.60" x2="392.50" y2="41.80" stroke="#555" stroke-width="0.5" />
<rect x="391.60" y="42.40" width="1.80" height="0.90" fill="#999" stroke="none" stroke-width="0" />
<rect x="362.40" y="44.00" width="9.00" height="1.00" fill="#aaa" stroke="none" stroke-width="0" />
<line x1="340.10" y1="40.60" x2="341.30" y2="40.60" stroke="#666" stroke-width="0.5" />
<rect x="338.70" y="38.20" width="0.90" height="1.40" fill="#888" stroke="none" stroke-width="0" />
<line x1="340.10" y1="35.35" x2="341.30" y2="35.35" stroke="#666" stroke-width="0.5" />
<rect x="338.70" y="32.95" width="0.90" height="1.40" fill="#888" stroke="none" stroke-width="0" />
<line x1="340.10" y1="30.10" x2="341.30" y2="30.10" stroke="#666" stroke-width="0.5" />
<rect x="338.70" y="27.70" width="0.90" height="1.40" fill="#888" stroke="none" stroke-width="0" />
<line x1="340.10" y1="24.85" x2="341.30" y2="24.85" stroke="#666" stroke-width="0.5" />
<rect x="338.70" y="22.45" width="0.90" height="1.40" fill="#888" stroke="none" stroke-width="0" />
<line x1="340.10" y1="19.60" x2="341.30" y2="19.60" stroke="#666" stroke-width="0.5" />
<rect x="336.70" y="26.60" width="1.00" height="7.00" fill="#aaa" stroke="none" stroke-width="0" />
<text x="374.80" y="26.50" font-family="Liberation Sans, sans-serif" font-size="5.6" font-weight="bold" text-anchor="start" fill="#000" stroke="#000" stroke-width="0.22" stroke-linejoin="round" textLength="14.40" lengthAdjust="spacingAndGlyphs" >(60.8)</text>
<path d="M341.50 70.30L341.50 69.50C342.25 69.47 344.58 69.50 346.00 69.30C347.42 69.10 348.75 68.72 350.00 68.30C351.25 67.88 352.50 66.88 353.50 66.80C354.50 66.72 355.08 67.42 356.00 67.80C356.92 68.18 357.50 68.85 359.00 69.10C360.50 69.35 362.83 69.30 365.00 69.30C367.17 69.30 370.08 69.18 372.00 69.10C373.92 69.02 375.17 69.02 376.50 68.80C377.83 68.58 378.65 68.42 380.00 67.80C381.35 67.18 383.43 65.77 384.60 65.10C385.77 64.43 386.23 64.18 387.00 63.80C387.77 63.42 388.57 63.22 389.20 62.80C389.83 62.38 390.40 62.38 390.80 61.30C391.20 60.22 391.37 58.22 391.60 56.30C391.83 54.38 392.10 50.88 392.20 49.80L392.20 70.30Z" fill="#000" stroke="none" stroke-width="1" />
<path d="M344.00 69.80C344.67 69.72 347.00 69.72 348.00 69.30C349.00 68.88 349.33 68.47 350.00 67.30C350.67 66.13 351.33 64.30 352.00 62.30C352.67 60.30 353.42 56.97 354.00 55.30C354.58 53.63 355.00 52.30 355.50 52.30C356.00 52.30 356.42 53.63 357.00 55.30C357.58 56.97 358.33 60.30 359.00 62.30C359.67 64.30 360.33 66.13 361.00 67.30C361.67 68.47 362.17 68.88 363.00 69.30C363.83 69.72 365.50 69.72 366.00 69.80" fill="none" stroke="#fff" stroke-width="1.8" stroke-linejoin="round"/>
<path d="M344.00 69.80C344.67 69.72 347.00 69.72 348.00 69.30C349.00 68.88 349.33 68.47 350.00 67.30C350.67 66.13 351.33 64.30 352.00 62.30C352.67 60.30 353.42 56.97 354.00 55.30C354.58 53.63 355.00 52.30 355.50 52.30C356.00 52.30 356.42 53.63 357.00 55.30C357.58 56.97 358.33 60.30 359.00 62.30C359.67 64.30 360.33 66.13 361.00 67.30C361.67 68.47 362.17 68.88 363.00 69.30C363.83 69.72 365.50 69.72 366.00 69.80" fill="none" stroke="#333" stroke-width="0.9" stroke-linejoin="round"/>
<line x1="341.30" y1="49.20" x2="341.30" y2="70.70" stroke="#222" stroke-width="0.75" />
<line x1="341.30" y1="70.30" x2="392.50" y2="70.30" stroke="#111" stroke-width="0.8" />
<line x1="341.30" y1="70.30" x2="341.30" y2="71.50" stroke="#555" stroke-width="0.5" />
<rect x="340.40" y="72.10" width="1.80" height="0.90" fill="#999" stroke="none" stroke-width="0" />
<line x1="354.10" y1="70.30" x2="354.10" y2="71.50" stroke="#555" stroke-width="0.5" />
<rect x="353.20" y="72.10" width="1.80" height="0.90" fill="#999" stroke="none" stroke-width="0" />
<line x1="366.90" y1="70.30" x2="366.90" y2="71.50" stroke="#555" stroke-width="0.5" />
<rect x="366.00" y="72.10" width="1.80" height="0.90" fill="#999" stroke="none" stroke-width="0" />
<line x1="379.70" y1="70.30" x2="379.70" y2="71.50" stroke="#555" stroke-width="0.5" />
<rect x="378.80" y="72.10" width="1.80" height="0.90" fill="#999" stroke="none" stroke-width="0" />
<line x1="392.50" y1="70.30" x2="392.50" y2="71.50" stroke="#555" stroke-width="0.5" />
<rect x="391.60" y="72.10" width="1.80" height="0.90" fill="#999" stroke="none" stroke-width="0" />
<rect x="362.40" y="73.70" width="9.00" height="1.00" fill="#aaa" stroke="none" stroke-width="0" />
<line x1="340.10" y1="70.30" x2="341.30" y2="70.30" stroke="#666" stroke-width="0.5" />
<rect x="338.70" y="67.90" width="0.90" height="1.40" fill="#888" stroke="none" stroke-width="0" />
<line x1="340.10" y1="65.03" x2="341.30" y2="65.03" stroke="#666" stroke-width="0.5" />
<rect x="338.70" y="62.63" width="0.90" height="1.40" fill="#888" stroke="none" stroke-width="0" />
<line x1="340.10" y1="59.75" x2="341.30" y2="59.75" stroke="#666" stroke-width="0.5" />
<rect x="338.70" y="57.35" width="0.90" height="1.40" fill="#888" stroke="none" stroke-width="0" />
<line x1="340.10" y1="54.48" x2="341.30" y2="54.48" stroke="#666" stroke-width="0.5" />
<rect x="338.70" y="52.08" width="0.90" height="1.40" fill="#888" stroke="none" stroke-width="0" />
<line x1="340.10" y1="49.20" x2="341.30" y2="49.20" stroke="#666" stroke-width="0.5" />
<rect x="336.70" y="56.25" width="1.00" height="7.00" fill="#aaa" stroke="none" stroke-width="0" />
<text x="373.70" y="58.30" font-family="Liberation Sans, sans-serif" font-size="5.6" font-weight="bold" text-anchor="start" fill="#000" stroke="#000" stroke-width="0.22" stroke-linejoin="round" textLength="16.50" lengthAdjust="spacingAndGlyphs" >(144.2)</text>
<path d="M341.60 99.50L341.60 96.50C341.70 96.90 341.77 98.48 342.20 98.90C342.63 99.32 343.48 99.15 344.20 99.00C344.92 98.85 345.73 98.58 346.50 98.00C347.27 97.42 348.02 96.50 348.80 95.50C349.58 94.50 350.42 92.83 351.20 92.00C351.98 91.17 352.73 90.92 353.50 90.50C354.27 90.08 355.03 89.92 355.80 89.50C356.57 89.08 357.33 88.67 358.10 88.00C358.87 87.33 359.73 85.58 360.40 85.50C361.07 85.42 361.53 86.50 362.10 87.50C362.67 88.50 363.12 90.42 363.80 91.50C364.48 92.58 365.23 93.20 366.20 94.00C367.17 94.80 368.27 95.77 369.60 96.30C370.93 96.83 372.67 97.10 374.20 97.20C375.73 97.30 377.45 96.85 378.80 96.90C380.15 96.95 380.95 97.20 382.30 97.50C383.65 97.80 385.37 98.47 386.90 98.70C388.43 98.93 390.73 98.87 391.50 98.90L391.50 99.50Z" fill="#000" stroke="none" stroke-width="1" />
<path d="M348.30 95.00C348.58 94.17 349.30 91.17 350.00 90.00C350.70 88.83 351.53 88.58 352.50 88.00C353.47 87.42 354.88 87.08 355.80 86.50C356.72 85.92 357.33 85.08 358.00 84.50C358.67 83.92 359.25 83.00 359.80 83.00C360.35 83.00 360.85 83.75 361.30 84.50C361.75 85.25 362.30 87.00 362.50 87.50" fill="none" stroke="#fff" stroke-width="1.8" stroke-linejoin="round"/>
<path d="M348.30 95.00C348.58 94.17 349.30 91.17 350.00 90.00C350.70 88.83 351.53 88.58 352.50 88.00C353.47 87.42 354.88 87.08 355.80 86.50C356.72 85.92 357.33 85.08 358.00 84.50C358.67 83.92 359.25 83.00 359.80 83.00C360.35 83.00 360.85 83.75 361.30 84.50C361.75 85.25 362.30 87.00 362.50 87.50" fill="none" stroke="#333" stroke-width="0.9" stroke-linejoin="round"/>
<line x1="341.30" y1="78.50" x2="341.30" y2="99.90" stroke="#222" stroke-width="0.75" />
<line x1="341.30" y1="99.50" x2="392.50" y2="99.50" stroke="#111" stroke-width="0.8" />
<line x1="341.30" y1="99.50" x2="341.30" y2="100.70" stroke="#555" stroke-width="0.5" />
<rect x="340.40" y="101.30" width="1.80" height="0.90" fill="#999" stroke="none" stroke-width="0" />
<line x1="354.10" y1="99.50" x2="354.10" y2="100.70" stroke="#555" stroke-width="0.5" />
<rect x="353.20" y="101.30" width="1.80" height="0.90" fill="#999" stroke="none" stroke-width="0" />
<line x1="366.90" y1="99.50" x2="366.90" y2="100.70" stroke="#555" stroke-width="0.5" />
<rect x="366.00" y="101.30" width="1.80" height="0.90" fill="#999" stroke="none" stroke-width="0" />
<line x1="379.70" y1="99.50" x2="379.70" y2="100.70" stroke="#555" stroke-width="0.5" />
<rect x="378.80" y="101.30" width="1.80" height="0.90" fill="#999" stroke="none" stroke-width="0" />
<line x1="392.50" y1="99.50" x2="392.50" y2="100.70" stroke="#555" stroke-width="0.5" />
<rect x="391.60" y="101.30" width="1.80" height="0.90" fill="#999" stroke="none" stroke-width="0" />
<rect x="362.40" y="102.90" width="9.00" height="1.00" fill="#aaa" stroke="none" stroke-width="0" />
<line x1="340.10" y1="99.50" x2="341.30" y2="99.50" stroke="#666" stroke-width="0.5" />
<rect x="338.70" y="97.10" width="0.90" height="1.40" fill="#888" stroke="none" stroke-width="0" />
<line x1="340.10" y1="94.25" x2="341.30" y2="94.25" stroke="#666" stroke-width="0.5" />
<rect x="338.70" y="91.85" width="0.90" height="1.40" fill="#888" stroke="none" stroke-width="0" />
<line x1="340.10" y1="89.00" x2="341.30" y2="89.00" stroke="#666" stroke-width="0.5" />
<rect x="338.70" y="86.60" width="0.90" height="1.40" fill="#888" stroke="none" stroke-width="0" />
<line x1="340.10" y1="83.75" x2="341.30" y2="83.75" stroke="#666" stroke-width="0.5" />
<rect x="338.70" y="81.35" width="0.90" height="1.40" fill="#888" stroke="none" stroke-width="0" />
<line x1="340.10" y1="78.50" x2="341.30" y2="78.50" stroke="#666" stroke-width="0.5" />
<rect x="336.70" y="85.50" width="1.00" height="7.00" fill="#aaa" stroke="none" stroke-width="0" />
<text x="378.30" y="84.80" font-family="Liberation Sans, sans-serif" font-size="5.6" font-weight="bold" text-anchor="start" fill="#000" stroke="#000" stroke-width="0.22" stroke-linejoin="round" textLength="10.00" lengthAdjust="spacingAndGlyphs" >(1.9)</text>
<path d="M342.00 130.80L342.00 130.30C342.57 130.13 344.45 129.97 345.40 129.30C346.35 128.63 346.93 127.72 347.70 126.30C348.47 124.88 349.33 122.30 350.00 120.80C350.67 119.30 351.12 117.38 351.70 117.30C352.28 117.22 352.82 119.55 353.50 120.30C354.18 121.05 355.13 121.38 355.80 121.80C356.47 122.22 356.93 123.13 357.50 122.80C358.07 122.47 358.53 120.55 359.20 119.80C359.87 119.05 360.73 117.97 361.50 118.30C362.27 118.63 363.02 120.38 363.80 121.80C364.58 123.22 365.23 125.63 366.20 126.80C367.17 127.97 368.27 128.33 369.60 128.80C370.93 129.27 372.30 129.40 374.20 129.60C376.10 129.80 379.45 130.02 381.00 130.00C382.55 129.98 382.52 129.45 383.50 129.50C384.48 129.55 385.57 130.13 386.90 130.30C388.23 130.47 390.73 130.47 391.50 130.50L391.50 130.80Z" fill="#000" stroke="none" stroke-width="1" />
<path d="M349.00 121.80C349.25 121.13 350.00 118.88 350.50 117.80C351.00 116.72 351.50 115.13 352.00 115.30C352.50 115.47 352.92 117.88 353.50 118.80C354.08 119.72 354.83 120.30 355.50 120.80C356.17 121.30 356.83 122.13 357.50 121.80C358.17 121.47 358.75 119.47 359.50 118.80C360.25 118.13 361.25 117.38 362.00 117.80C362.75 118.22 363.67 120.72 364.00 121.30" fill="none" stroke="#fff" stroke-width="1.8" stroke-linejoin="round"/>
<path d="M349.00 121.80C349.25 121.13 350.00 118.88 350.50 117.80C351.00 116.72 351.50 115.13 352.00 115.30C352.50 115.47 352.92 117.88 353.50 118.80C354.08 119.72 354.83 120.30 355.50 120.80C356.17 121.30 356.83 122.13 357.50 121.80C358.17 121.47 358.75 119.47 359.50 118.80C360.25 118.13 361.25 117.38 362.00 117.80C362.75 118.22 363.67 120.72 364.00 121.30" fill="none" stroke="#333" stroke-width="0.9" stroke-linejoin="round"/>
<line x1="341.30" y1="109.90" x2="392.50" y2="109.90" stroke="#888" stroke-width="0.9" />
<line x1="392.50" y1="109.90" x2="392.50" y2="115.90" stroke="#999" stroke-width="0.7" />
<line x1="341.30" y1="109.90" x2="341.30" y2="131.20" stroke="#222" stroke-width="0.75" />
<line x1="341.30" y1="130.80" x2="392.50" y2="130.80" stroke="#111" stroke-width="0.8" />
<line x1="341.30" y1="130.80" x2="341.30" y2="132.00" stroke="#555" stroke-width="0.5" />
<rect x="340.40" y="132.60" width="1.80" height="0.90" fill="#999" stroke="none" stroke-width="0" />
<line x1="354.10" y1="130.80" x2="354.10" y2="132.00" stroke="#555" stroke-width="0.5" />
<rect x="353.20" y="132.60" width="1.80" height="0.90" fill="#999" stroke="none" stroke-width="0" />
<line x1="366.90" y1="130.80" x2="366.90" y2="132.00" stroke="#555" stroke-width="0.5" />
<rect x="366.00" y="132.60" width="1.80" height="0.90" fill="#999" stroke="none" stroke-width="0" />
<line x1="379.70" y1="130.80" x2="379.70" y2="132.00" stroke="#555" stroke-width="0.5" />
<rect x="378.80" y="132.60" width="1.80" height="0.90" fill="#999" stroke="none" stroke-width="0" />
<line x1="392.50" y1="130.80" x2="392.50" y2="132.00" stroke="#555" stroke-width="0.5" />
<rect x="391.60" y="132.60" width="1.80" height="0.90" fill="#999" stroke="none" stroke-width="0" />
<rect x="362.40" y="134.20" width="9.00" height="1.00" fill="#aaa" stroke="none" stroke-width="0" />
<line x1="340.10" y1="130.80" x2="341.30" y2="130.80" stroke="#666" stroke-width="0.5" />
<rect x="338.70" y="128.40" width="0.90" height="1.40" fill="#888" stroke="none" stroke-width="0" />
<line x1="340.10" y1="125.58" x2="341.30" y2="125.58" stroke="#666" stroke-width="0.5" />
<rect x="338.70" y="123.18" width="0.90" height="1.40" fill="#888" stroke="none" stroke-width="0" />
<line x1="340.10" y1="120.35" x2="341.30" y2="120.35" stroke="#666" stroke-width="0.5" />
<rect x="338.70" y="117.95" width="0.90" height="1.40" fill="#888" stroke="none" stroke-width="0" />
<line x1="340.10" y1="115.12" x2="341.30" y2="115.12" stroke="#666" stroke-width="0.5" />
<rect x="338.70" y="112.72" width="0.90" height="1.40" fill="#888" stroke="none" stroke-width="0" />
<line x1="340.10" y1="109.90" x2="341.30" y2="109.90" stroke="#666" stroke-width="0.5" />
<rect x="336.70" y="116.85" width="1.00" height="7.00" fill="#aaa" stroke="none" stroke-width="0" />
<text x="377.90" y="116.50" font-family="Liberation Sans, sans-serif" font-size="5.6" font-weight="bold" text-anchor="start" fill="#000" stroke="#000" stroke-width="0.22" stroke-linejoin="round" textLength="10.40" lengthAdjust="spacingAndGlyphs" >(1.3)</text>
<path d="M342.00 162.20L342.00 161.20C342.37 161.03 343.45 160.70 344.20 160.20C344.95 159.70 345.73 159.37 346.50 158.20C347.27 157.03 348.02 155.03 348.80 153.20C349.58 151.37 350.58 148.03 351.20 147.20C351.82 146.37 352.03 146.87 352.50 148.20C352.97 149.53 353.45 153.45 354.00 155.20C354.55 156.95 355.12 158.20 355.80 158.70C356.48 159.20 357.33 158.62 358.10 158.20C358.87 157.78 359.63 156.95 360.40 156.20C361.17 155.45 361.93 154.20 362.70 153.70C363.47 153.20 364.23 153.03 365.00 153.20C365.77 153.37 366.53 154.03 367.30 154.70C368.07 155.37 368.63 156.28 369.60 157.20C370.57 158.12 371.95 159.57 373.10 160.20C374.25 160.83 375.18 160.80 376.50 161.00C377.82 161.20 378.50 161.33 381.00 161.40C383.50 161.47 389.75 161.40 391.50 161.40L391.50 162.20Z" fill="#000" stroke="none" stroke-width="1" />
<path d="M348.00 155.20C348.25 154.37 348.97 151.78 349.50 150.20C350.03 148.62 350.65 146.03 351.20 145.70C351.75 145.37 352.25 146.62 352.80 148.20C353.35 149.78 353.88 153.70 354.50 155.20C355.12 156.70 355.83 157.20 356.50 157.20C357.17 157.20 357.83 156.37 358.50 155.20C359.17 154.03 359.80 151.75 360.50 150.20C361.20 148.65 362.03 145.90 362.70 145.90C363.37 145.90 363.83 148.82 364.50 150.20C365.17 151.58 366.03 153.20 366.70 154.20C367.37 155.20 368.20 155.87 368.50 156.20" fill="none" stroke="#fff" stroke-width="1.8" stroke-linejoin="round"/>
<path d="M348.00 155.20C348.25 154.37 348.97 151.78 349.50 150.20C350.03 148.62 350.65 146.03 351.20 145.70C351.75 145.37 352.25 146.62 352.80 148.20C353.35 149.78 353.88 153.70 354.50 155.20C355.12 156.70 355.83 157.20 356.50 157.20C357.17 157.20 357.83 156.37 358.50 155.20C359.17 154.03 359.80 151.75 360.50 150.20C361.20 148.65 362.03 145.90 362.70 145.90C363.37 145.90 363.83 148.82 364.50 150.20C365.17 151.58 366.03 153.20 366.70 154.20C367.37 155.20 368.20 155.87 368.50 156.20" fill="none" stroke="#333" stroke-width="0.9" stroke-linejoin="round"/>
<line x1="341.30" y1="141.20" x2="392.50" y2="141.20" stroke="#888" stroke-width="0.9" />
<line x1="392.50" y1="141.20" x2="392.50" y2="147.20" stroke="#999" stroke-width="0.7" />
<line x1="341.30" y1="141.20" x2="341.30" y2="162.60" stroke="#222" stroke-width="0.75" />
<line x1="341.30" y1="162.20" x2="392.50" y2="162.20" stroke="#111" stroke-width="0.8" />
<line x1="341.30" y1="162.20" x2="341.30" y2="163.40" stroke="#555" stroke-width="0.5" />
<rect x="340.40" y="164.00" width="1.80" height="0.90" fill="#999" stroke="none" stroke-width="0" />
<line x1="354.10" y1="162.20" x2="354.10" y2="163.40" stroke="#555" stroke-width="0.5" />
<rect x="353.20" y="164.00" width="1.80" height="0.90" fill="#999" stroke="none" stroke-width="0" />
<line x1="366.90" y1="162.20" x2="366.90" y2="163.40" stroke="#555" stroke-width="0.5" />
<rect x="366.00" y="164.00" width="1.80" height="0.90" fill="#999" stroke="none" stroke-width="0" />
<line x1="379.70" y1="162.20" x2="379.70" y2="163.40" stroke="#555" stroke-width="0.5" />
<rect x="378.80" y="164.00" width="1.80" height="0.90" fill="#999" stroke="none" stroke-width="0" />
<line x1="392.50" y1="162.20" x2="392.50" y2="163.40" stroke="#555" stroke-width="0.5" />
<rect x="391.60" y="164.00" width="1.80" height="0.90" fill="#999" stroke="none" stroke-width="0" />
<rect x="362.40" y="165.60" width="9.00" height="1.00" fill="#aaa" stroke="none" stroke-width="0" />
<line x1="340.10" y1="162.20" x2="341.30" y2="162.20" stroke="#666" stroke-width="0.5" />
<rect x="338.70" y="159.80" width="0.90" height="1.40" fill="#888" stroke="none" stroke-width="0" />
<line x1="340.10" y1="156.95" x2="341.30" y2="156.95" stroke="#666" stroke-width="0.5" />
<rect x="338.70" y="154.55" width="0.90" height="1.40" fill="#888" stroke="none" stroke-width="0" />
<line x1="340.10" y1="151.70" x2="341.30" y2="151.70" stroke="#666" stroke-width="0.5" />
<rect x="338.70" y="149.30" width="0.90" height="1.40" fill="#888" stroke="none" stroke-width="0" />
<line x1="340.10" y1="146.45" x2="341.30" y2="146.45" stroke="#666" stroke-width="0.5" />
<rect x="338.70" y="144.05" width="0.90" height="1.40" fill="#888" stroke="none" stroke-width="0" />
<line x1="340.10" y1="141.20" x2="341.30" y2="141.20" stroke="#666" stroke-width="0.5" />
<rect x="336.70" y="148.20" width="1.00" height="7.00" fill="#aaa" stroke="none" stroke-width="0" />
<text x="378.30" y="147.50" font-family="Liberation Sans, sans-serif" font-size="5.6" font-weight="bold" text-anchor="start" fill="#000" stroke="#000" stroke-width="0.22" stroke-linejoin="round" textLength="10.00" lengthAdjust="spacingAndGlyphs" >(2.3)</text>
<path d="M406.30 40.60L406.30 40.60C406.67 40.27 407.63 39.32 408.50 38.60C409.37 37.88 410.67 36.88 411.50 36.30C412.33 35.72 412.72 35.48 413.50 35.10C414.28 34.72 415.45 34.38 416.20 34.00C416.95 33.62 417.33 33.27 418.00 32.80C418.67 32.33 419.37 31.87 420.20 31.20C421.03 30.53 422.20 29.53 423.00 28.80C423.80 28.07 424.42 27.37 425.00 26.80C425.58 26.23 426.00 25.10 426.50 25.40C427.00 25.70 427.52 27.55 428.00 28.60C428.48 29.65 428.78 30.60 429.40 31.70C430.02 32.80 430.83 34.03 431.70 35.20C432.57 36.37 433.35 37.93 434.60 38.70C435.85 39.47 437.67 39.52 439.20 39.80C440.73 40.08 442.00 40.27 443.80 40.40C445.60 40.53 448.97 40.57 450.00 40.60L450.00 40.60Z" fill="#000" stroke="none" stroke-width="1" />
<path d="M409.00 39.10C409.33 38.52 410.33 37.02 411.00 35.60C411.67 34.18 412.33 32.10 413.00 30.60C413.67 29.10 414.28 27.67 415.00 26.60C415.72 25.53 416.72 24.37 417.30 24.20C417.88 24.03 418.13 24.87 418.50 25.60C418.87 26.33 419.17 27.67 419.50 28.60C419.83 29.53 420.33 30.77 420.50 31.20" fill="none" stroke="#fff" stroke-width="1.8" stroke-linejoin="round"/>
<path d="M409.00 39.10C409.33 38.52 410.33 37.02 411.00 35.60C411.67 34.18 412.33 32.10 413.00 30.60C413.67 29.10 414.28 27.67 415.00 26.60C415.72 25.53 416.72 24.37 417.30 24.20C417.88 24.03 418.13 24.87 418.50 25.60C418.87 26.33 419.17 27.67 419.50 28.60C419.83 29.53 420.33 30.77 420.50 31.20" fill="none" stroke="#333" stroke-width="0.9" stroke-linejoin="round"/>
<line x1="404.60" y1="19.60" x2="455.40" y2="19.60" stroke="#888" stroke-width="0.9" />
<line x1="455.40" y1="19.60" x2="455.40" y2="25.60" stroke="#999" stroke-width="0.7" />
<line x1="404.60" y1="19.60" x2="404.60" y2="41.00" stroke="#222" stroke-width="0.75" />
<line x1="404.60" y1="40.60" x2="455.40" y2="40.60" stroke="#111" stroke-width="0.8" />
<line x1="404.60" y1="40.60" x2="404.60" y2="41.80" stroke="#555" stroke-width="0.5" />
<rect x="403.70" y="42.40" width="1.80" height="0.90" fill="#999" stroke="none" stroke-width="0" />
<line x1="417.30" y1="40.60" x2="417.30" y2="41.80" stroke="#555" stroke-width="0.5" />
<rect x="416.40" y="42.40" width="1.80" height="0.90" fill="#999" stroke="none" stroke-width="0" />
<line x1="430.00" y1="40.60" x2="430.00" y2="41.80" stroke="#555" stroke-width="0.5" />
<rect x="429.10" y="42.40" width="1.80" height="0.90" fill="#999" stroke="none" stroke-width="0" />
<line x1="442.70" y1="40.60" x2="442.70" y2="41.80" stroke="#555" stroke-width="0.5" />
<rect x="441.80" y="42.40" width="1.80" height="0.90" fill="#999" stroke="none" stroke-width="0" />
<line x1="455.40" y1="40.60" x2="455.40" y2="41.80" stroke="#555" stroke-width="0.5" />
<rect x="454.50" y="42.40" width="1.80" height="0.90" fill="#999" stroke="none" stroke-width="0" />
<rect x="425.50" y="44.00" width="9.00" height="1.00" fill="#aaa" stroke="none" stroke-width="0" />
<line x1="403.40" y1="40.60" x2="404.60" y2="40.60" stroke="#666" stroke-width="0.5" />
<rect x="402.00" y="38.20" width="0.90" height="1.40" fill="#888" stroke="none" stroke-width="0" />
<line x1="403.40" y1="35.35" x2="404.60" y2="35.35" stroke="#666" stroke-width="0.5" />
<rect x="402.00" y="32.95" width="0.90" height="1.40" fill="#888" stroke="none" stroke-width="0" />
<line x1="403.40" y1="30.10" x2="404.60" y2="30.10" stroke="#666" stroke-width="0.5" />
<rect x="402.00" y="27.70" width="0.90" height="1.40" fill="#888" stroke="none" stroke-width="0" />
<line x1="403.40" y1="24.85" x2="404.60" y2="24.85" stroke="#666" stroke-width="0.5" />
<rect x="402.00" y="22.45" width="0.90" height="1.40" fill="#888" stroke="none" stroke-width="0" />
<line x1="403.40" y1="19.60" x2="404.60" y2="19.60" stroke="#666" stroke-width="0.5" />
<rect x="400.00" y="26.60" width="1.00" height="7.00" fill="#aaa" stroke="none" stroke-width="0" />
<text x="442.70" y="26.50" font-family="Liberation Sans, sans-serif" font-size="5.6" font-weight="bold" text-anchor="start" fill="#000" stroke="#000" stroke-width="0.22" stroke-linejoin="round" textLength="10.60" lengthAdjust="spacingAndGlyphs" >(3.1)</text>
<path d="M406.30 70.30L406.30 70.30C406.75 70.05 408.13 69.43 409.00 68.80C409.87 68.17 410.73 67.27 411.50 66.50C412.27 65.73 412.82 64.15 413.60 64.20C414.38 64.25 415.38 66.17 416.20 66.80C417.02 67.43 417.65 68.08 418.50 68.00C419.35 67.92 420.35 67.17 421.30 66.30C422.25 65.43 423.33 63.83 424.20 62.80C425.07 61.77 425.82 60.35 426.50 60.10C427.18 59.85 427.62 60.77 428.30 61.30C428.98 61.83 429.83 63.38 430.60 63.30C431.37 63.22 432.13 61.85 432.90 60.80C433.67 59.75 434.53 56.92 435.20 57.00C435.87 57.08 436.23 59.67 436.90 61.30C437.57 62.93 438.43 65.50 439.20 66.80C439.97 68.10 440.37 68.60 441.50 69.10C442.63 69.60 443.92 69.60 446.00 69.80C448.08 70.00 452.67 70.22 454.00 70.30L454.00 70.30Z" fill="#000" stroke="none" stroke-width="1" />
<path d="M411.00 68.30C411.25 67.63 411.92 66.30 412.50 64.30C413.08 62.30 413.80 58.63 414.50 56.30C415.20 53.97 416.03 50.30 416.70 50.30C417.37 50.30 417.95 53.97 418.50 56.30C419.05 58.63 419.53 62.63 420.00 64.30C420.47 65.97 421.08 65.97 421.30 66.30" fill="none" stroke="#fff" stroke-width="1.8" stroke-linejoin="round"/>
<path d="M411.00 68.30C411.25 67.63 411.92 66.30 412.50 64.30C413.08 62.30 413.80 58.63 414.50 56.30C415.20 53.97 416.03 50.30 416.70 50.30C417.37 50.30 417.95 53.97 418.50 56.30C419.05 58.63 419.53 62.63 420.00 64.30C420.47 65.97 421.08 65.97 421.30 66.30" fill="none" stroke="#333" stroke-width="0.9" stroke-linejoin="round"/>
<line x1="404.60" y1="49.20" x2="404.60" y2="70.70" stroke="#222" stroke-width="0.75" />
<line x1="404.60" y1="70.30" x2="455.40" y2="70.30" stroke="#111" stroke-width="0.8" />
<line x1="404.60" y1="70.30" x2="404.60" y2="71.50" stroke="#555" stroke-width="0.5" />
<rect x="403.70" y="72.10" width="1.80" height="0.90" fill="#999" stroke="none" stroke-width="0" />
<line x1="417.30" y1="70.30" x2="417.30" y2="71.50" stroke="#555" stroke-width="0.5" />
<rect x="416.40" y="72.10" width="1.80" height="0.90" fill="#999" stroke="none" stroke-width="0" />
<line x1="430.00" y1="70.30" x2="430.00" y2="71.50" stroke="#555" stroke-width="0.5" />
<rect x="429.10" y="72.10" width="1.80" height="0.90" fill="#999" stroke="none" stroke-width="0" />
<line x1="442.70" y1="70.30" x2="442.70" y2="71.50" stroke="#555" stroke-width="0.5" />
<rect x="441.80" y="72.10" width="1.80" height="0.90" fill="#999" stroke="none" stroke-width="0" />
<line x1="455.40" y1="70.30" x2="455.40" y2="71.50" stroke="#555" stroke-width="0.5" />
<rect x="454.50" y="72.10" width="1.80" height="0.90" fill="#999" stroke="none" stroke-width="0" />
<rect x="425.50" y="73.70" width="9.00" height="1.00" fill="#aaa" stroke="none" stroke-width="0" />
<line x1="403.40" y1="70.30" x2="404.60" y2="70.30" stroke="#666" stroke-width="0.5" />
<rect x="402.00" y="67.90" width="0.90" height="1.40" fill="#888" stroke="none" stroke-width="0" />
<line x1="403.40" y1="65.03" x2="404.60" y2="65.03" stroke="#666" stroke-width="0.5" />
<rect x="402.00" y="62.63" width="0.90" height="1.40" fill="#888" stroke="none" stroke-width="0" />
<line x1="403.40" y1="59.75" x2="404.60" y2="59.75" stroke="#666" stroke-width="0.5" />
<rect x="402.00" y="57.35" width="0.90" height="1.40" fill="#888" stroke="none" stroke-width="0" />
<line x1="403.40" y1="54.48" x2="404.60" y2="54.48" stroke="#666" stroke-width="0.5" />
<rect x="402.00" y="52.08" width="0.90" height="1.40" fill="#888" stroke="none" stroke-width="0" />
<line x1="403.40" y1="49.20" x2="404.60" y2="49.20" stroke="#666" stroke-width="0.5" />
<rect x="400.00" y="56.25" width="1.00" height="7.00" fill="#aaa" stroke="none" stroke-width="0" />
<text x="443.30" y="57.50" font-family="Liberation Sans, sans-serif" font-size="5.6" font-weight="bold" text-anchor="start" fill="#000" stroke="#000" stroke-width="0.22" stroke-linejoin="round" textLength="10.40" lengthAdjust="spacingAndGlyphs" >(7.0)</text>
<path d="M406.30 99.50L406.30 99.50C406.58 99.25 407.32 98.83 408.00 98.00C408.68 97.17 409.62 95.50 410.40 94.50C411.18 93.50 411.93 92.83 412.70 92.00C413.47 91.17 414.13 91.00 415.00 89.50C415.87 88.00 417.13 83.17 417.90 83.00C418.67 82.83 419.03 86.92 419.60 88.50C420.17 90.08 420.62 91.50 421.30 92.50C421.98 93.50 422.92 93.92 423.70 94.50C424.48 95.08 425.23 95.42 426.00 96.00C426.77 96.58 427.43 97.50 428.30 98.00C429.17 98.50 429.58 98.75 431.20 99.00C432.82 99.25 434.87 99.42 438.00 99.50C441.13 99.58 448.00 99.50 450.00 99.50L450.00 99.50Z" fill="#000" stroke="none" stroke-width="1" />
<line x1="404.60" y1="78.50" x2="404.60" y2="99.90" stroke="#222" stroke-width="0.75" />
<line x1="404.60" y1="99.50" x2="455.40" y2="99.50" stroke="#111" stroke-width="0.8" />
<line x1="404.60" y1="99.50" x2="404.60" y2="100.70" stroke="#555" stroke-width="0.5" />
<rect x="403.70" y="101.30" width="1.80" height="0.90" fill="#999" stroke="none" stroke-width="0" />
<line x1="417.30" y1="99.50" x2="417.30" y2="100.70" stroke="#555" stroke-width="0.5" />
<rect x="416.40" y="101.30" width="1.80" height="0.90" fill="#999" stroke="none" stroke-width="0" />
<line x1="430.00" y1="99.50" x2="430.00" y2="100.70" stroke="#555" stroke-width="0.5" />
<rect x="429.10" y="101.30" width="1.80" height="0.90" fill="#999" stroke="none" stroke-width="0" />
<line x1="442.70" y1="99.50" x2="442.70" y2="100.70" stroke="#555" stroke-width="0.5" />
<rect x="441.80" y="101.30" width="1.80" height="0.90" fill="#999" stroke="none" stroke-width="0" />
<line x1="455.40" y1="99.50" x2="455.40" y2="100.70" stroke="#555" stroke-width="0.5" />
<rect x="454.50" y="101.30" width="1.80" height="0.90" fill="#999" stroke="none" stroke-width="0" />
<rect x="425.50" y="102.90" width="9.00" height="1.00" fill="#aaa" stroke="none" stroke-width="0" />
<line x1="403.40" y1="99.50" x2="404.60" y2="99.50" stroke="#666" stroke-width="0.5" />
<rect x="402.00" y="97.10" width="0.90" height="1.40" fill="#888" stroke="none" stroke-width="0" />
<line x1="403.40" y1="94.25" x2="404.60" y2="94.25" stroke="#666" stroke-width="0.5" />
<rect x="402.00" y="91.85" width="0.90" height="1.40" fill="#888" stroke="none" stroke-width="0" />
<line x1="403.40" y1="89.00" x2="404.60" y2="89.00" stroke="#666" stroke-width="0.5" />
<rect x="402.00" y="86.60" width="0.90" height="1.40" fill="#888" stroke="none" stroke-width="0" />
<line x1="403.40" y1="83.75" x2="404.60" y2="83.75" stroke="#666" stroke-width="0.5" />
<rect x="402.00" y="81.35" width="0.90" height="1.40" fill="#888" stroke="none" stroke-width="0" />
<line x1="403.40" y1="78.50" x2="404.60" y2="78.50" stroke="#666" stroke-width="0.5" />
<rect x="400.00" y="85.50" width="1.00" height="7.00" fill="#aaa" stroke="none" stroke-width="0" />
<text x="442.10" y="84.80" font-family="Liberation Sans, sans-serif" font-size="5.6" font-weight="bold" text-anchor="start" fill="#000" stroke="#000" stroke-width="0.22" stroke-linejoin="round" textLength="10.70" lengthAdjust="spacingAndGlyphs" >(1.1)</text>
<path d="M404.70 130.80L404.70 128.30C404.83 128.63 405.23 130.05 405.50 130.30C405.77 130.55 405.88 130.55 406.30 129.80C406.72 129.05 407.42 127.63 408.00 125.80C408.58 123.97 409.12 120.72 409.80 118.80C410.48 116.88 411.33 114.80 412.10 114.30C412.87 113.80 413.53 115.38 414.40 115.80C415.27 116.22 416.23 116.38 417.30 116.80C418.37 117.22 419.83 117.47 420.80 118.30C421.77 119.13 422.23 120.55 423.10 121.80C423.97 123.05 425.13 124.55 426.00 125.80C426.87 127.05 427.63 128.55 428.30 129.30C428.97 130.05 428.95 130.05 430.00 130.30C431.05 130.55 433.83 130.72 434.60 130.80L434.60 130.80Z" fill="#000" stroke="none" stroke-width="1" />
<line x1="404.60" y1="109.90" x2="455.40" y2="109.90" stroke="#888" stroke-width="0.9" />
<line x1="455.40" y1="109.90" x2="455.40" y2="115.90" stroke="#999" stroke-width="0.7" />
<line x1="404.60" y1="109.90" x2="404.60" y2="131.20" stroke="#222" stroke-width="0.75" />
<line x1="404.60" y1="130.80" x2="455.40" y2="130.80" stroke="#111" stroke-width="0.8" />
<line x1="404.60" y1="130.80" x2="404.60" y2="132.00" stroke="#555" stroke-width="0.5" />
<rect x="403.70" y="132.60" width="1.80" height="0.90" fill="#999" stroke="none" stroke-width="0" />
<line x1="417.30" y1="130.80" x2="417.30" y2="132.00" stroke="#555" stroke-width="0.5" />
<rect x="416.40" y="132.60" width="1.80" height="0.90" fill="#999" stroke="none" stroke-width="0" />
<line x1="430.00" y1="130.80" x2="430.00" y2="132.00" stroke="#555" stroke-width="0.5" />
<rect x="429.10" y="132.60" width="1.80" height="0.90" fill="#999" stroke="none" stroke-width="0" />
<line x1="442.70" y1="130.80" x2="442.70" y2="132.00" stroke="#555" stroke-width="0.5" />
<rect x="441.80" y="132.60" width="1.80" height="0.90" fill="#999" stroke="none" stroke-width="0" />
<line x1="455.40" y1="130.80" x2="455.40" y2="132.00" stroke="#555" stroke-width="0.5" />
<rect x="454.50" y="132.60" width="1.80" height="0.90" fill="#999" stroke="none" stroke-width="0" />
<rect x="425.50" y="134.20" width="9.00" height="1.00" fill="#aaa" stroke="none" stroke-width="0" />
<line x1="403.40" y1="130.80" x2="404.60" y2="130.80" stroke="#666" stroke-width="0.5" />
<rect x="402.00" y="128.40" width="0.90" height="1.40" fill="#888" stroke="none" stroke-width="0" />
<line x1="403.40" y1="125.58" x2="404.60" y2="125.58" stroke="#666" stroke-width="0.5" />
<rect x="402.00" y="123.18" width="0.90" height="1.40" fill="#888" stroke="none" stroke-width="0" />
<line x1="403.40" y1="120.35" x2="404.60" y2="120.35" stroke="#666" stroke-width="0.5" />
<rect x="402.00" y="117.95" width="0.90" height="1.40" fill="#888" stroke="none" stroke-width="0" />
<line x1="403.40" y1="115.12" x2="404.60" y2="115.12" stroke="#666" stroke-width="0.5" />
<rect x="402.00" y="112.72" width="0.90" height="1.40" fill="#888" stroke="none" stroke-width="0" />
<line x1="403.40" y1="109.90" x2="404.60" y2="109.90" stroke="#666" stroke-width="0.5" />
<rect x="400.00" y="116.85" width="1.00" height="7.00" fill="#aaa" stroke="none" stroke-width="0" />
<text x="442.10" y="116.50" font-family="Liberation Sans, sans-serif" font-size="5.6" font-weight="bold" text-anchor="start" fill="#000" stroke="#000" stroke-width="0.22" stroke-linejoin="round" textLength="10.90" lengthAdjust="spacingAndGlyphs" >(1.1)</text>
<path d="M405.20 162.20L405.20 161.20C405.48 160.70 406.23 160.03 406.90 158.20C407.57 156.37 408.48 152.45 409.20 150.20C409.92 147.95 410.62 144.70 411.20 144.70C411.78 144.70 412.17 148.45 412.70 150.20C413.23 151.95 413.82 154.28 414.40 155.20C414.98 156.12 415.52 156.03 416.20 155.70C416.88 155.37 417.73 154.12 418.50 153.20C419.27 152.28 420.03 150.78 420.80 150.20C421.57 149.62 422.33 149.37 423.10 149.70C423.87 150.03 424.63 150.95 425.40 152.20C426.17 153.45 426.93 155.78 427.70 157.20C428.47 158.62 429.03 159.95 430.00 160.70C430.97 161.45 432.17 161.45 433.50 161.70C434.83 161.95 437.25 162.12 438.00 162.20L438.00 162.20Z" fill="#000" stroke="none" stroke-width="1" />
<line x1="404.60" y1="141.20" x2="455.40" y2="141.20" stroke="#888" stroke-width="0.9" />
<line x1="455.40" y1="141.20" x2="455.40" y2="147.20" stroke="#999" stroke-width="0.7" />
<line x1="404.60" y1="141.20" x2="404.60" y2="162.60" stroke="#222" stroke-width="0.75" />
<line x1="404.60" y1="162.20" x2="455.40" y2="162.20" stroke="#111" stroke-width="0.8" />
<line x1="404.60" y1="162.20" x2="404.60" y2="163.40" stroke="#555" stroke-width="0.5" />
<rect x="403.70" y="164.00" width="1.80" height="0.90" fill="#999" stroke="none" stroke-width="0" />
<line x1="417.30" y1="162.20" x2="417.30" y2="163.40" stroke="#555" stroke-width="0.5" />
<rect x="416.40" y="164.00" width="1.80" height="0.90" fill="#999" stroke="none" stroke-width="0" />
<line x1="430.00" y1="162.20" x2="430.00" y2="163.40" stroke="#555" stroke-width="0.5" />
<rect x="429.10" y="164.00" width="1.80" height="0.90" fill="#999" stroke="none" stroke-width="0" />
<line x1="442.70" y1="162.20" x2="442.70" y2="163.40" stroke="#555" stroke-width="0.5" />
<rect x="441.80" y="164.00" width="1.80" height="0.90" fill="#999" stroke="none" stroke-width="0" />
<line x1="455.40" y1="162.20" x2="455.40" y2="163.40" stroke="#555" stroke-width="0.5" />
<rect x="454.50" y="164.00" width="1.80" height="0.90" fill="#999" stroke="none" stroke-width="0" />
<rect x="425.50" y="165.60" width="9.00" height="1.00" fill="#aaa" stroke="none" stroke-width="0" />
<line x1="403.40" y1="162.20" x2="404.60" y2="162.20" stroke="#666" stroke-width="0.5" />
<rect x="402.00" y="159.80" width="0.90" height="1.40" fill="#888" stroke="none" stroke-width="0" />
<line x1="403.40" y1="156.95" x2="404.60" y2="156.95" stroke="#666" stroke-width="0.5" />
<rect x="402.00" y="154.55" width="0.90" height="1.40" fill="#888" stroke="none" stroke-width="0" />
<line x1="403.40" y1="151.70" x2="404.60" y2="151.70" stroke="#666" stroke-width="0.5" />
<rect x="402.00" y="149.30" width="0.90" height="1.40" fill="#888" stroke="none" stroke-width="0" />
<line x1="403.40" y1="146.45" x2="404.60" y2="146.45" stroke="#666" stroke-width="0.5" />
<rect x="402.00" y="144.05" width="0.90" height="1.40" fill="#888" stroke="none" stroke-width="0" />
<line x1="403.40" y1="141.20" x2="404.60" y2="141.20" stroke="#666" stroke-width="0.5" />
<rect x="400.00" y="148.20" width="1.00" height="7.00" fill="#aaa" stroke="none" stroke-width="0" />
<text x="442.10" y="147.50" font-family="Liberation Sans, sans-serif" font-size="5.6" font-weight="bold" text-anchor="start" fill="#000" stroke="#000" stroke-width="0.22" stroke-linejoin="round" textLength="10.90" lengthAdjust="spacingAndGlyphs" >(1.2)</text>
<path d="M470.40 40.60L470.40 40.60C470.97 40.35 472.65 39.60 473.80 39.10C474.95 38.60 476.23 37.77 477.30 37.60C478.37 37.43 479.25 38.35 480.20 38.10C481.15 37.85 482.03 36.68 483.00 36.10C483.97 35.52 485.03 34.90 486.00 34.60C486.97 34.30 487.85 34.27 488.80 34.30C489.75 34.33 490.73 34.92 491.70 34.80C492.67 34.68 493.63 34.30 494.60 33.60C495.57 32.90 496.53 31.43 497.50 30.60C498.47 29.77 499.53 28.10 500.40 28.60C501.27 29.10 502.03 32.02 502.70 33.60C503.37 35.18 503.43 37.10 504.40 38.10C505.37 39.10 507.07 39.18 508.50 39.60C509.93 40.02 512.25 40.43 513.00 40.60L513.00 40.60Z" fill="#000" stroke="none" stroke-width="1" />
<path d="M470.00 40.10C470.33 39.68 471.42 39.02 472.00 37.60C472.58 36.18 473.03 33.77 473.50 31.60C473.97 29.43 474.45 26.40 474.80 24.60C475.15 22.80 475.32 20.80 475.60 20.80C475.88 20.80 476.13 22.80 476.50 24.60C476.87 26.40 477.38 29.43 477.80 31.60C478.22 33.77 478.55 36.27 479.00 37.60C479.45 38.93 480.25 39.27 480.50 39.60" fill="none" stroke="#fff" stroke-width="1.8" stroke-linejoin="round"/>
<path d="M470.00 40.10C470.33 39.68 471.42 39.02 472.00 37.60C472.58 36.18 473.03 33.77 473.50 31.60C473.97 29.43 474.45 26.40 474.80 24.60C475.15 22.80 475.32 20.80 475.60 20.80C475.88 20.80 476.13 22.80 476.50 24.60C476.87 26.40 477.38 29.43 477.80 31.60C478.22 33.77 478.55 36.27 479.00 37.60C479.45 38.93 480.25 39.27 480.50 39.60" fill="none" stroke="#333" stroke-width="0.9" stroke-linejoin="round"/>
<line x1="467.80" y1="19.60" x2="517.70" y2="19.60" stroke="#888" stroke-width="0.9" />
<line x1="517.70" y1="19.60" x2="517.70" y2="25.60" stroke="#999" stroke-width="0.7" />
<line x1="467.80" y1="19.60" x2="467.80" y2="41.00" stroke="#222" stroke-width="0.75" />
<line x1="467.80" y1="40.60" x2="517.70" y2="40.60" stroke="#111" stroke-width="0.8" />
<line x1="467.80" y1="40.60" x2="467.80" y2="41.80" stroke="#555" stroke-width="0.5" />
<rect x="466.90" y="42.40" width="1.80" height="0.90" fill="#999" stroke="none" stroke-width="0" />
<line x1="480.28" y1="40.60" x2="480.28" y2="41.80" stroke="#555" stroke-width="0.5" />
<rect x="479.38" y="42.40" width="1.80" height="0.90" fill="#999" stroke="none" stroke-width="0" />
<line x1="492.75" y1="40.60" x2="492.75" y2="41.80" stroke="#555" stroke-width="0.5" />
<rect x="491.85" y="42.40" width="1.80" height="0.90" fill="#999" stroke="none" stroke-width="0" />
<line x1="505.23" y1="40.60" x2="505.23" y2="41.80" stroke="#555" stroke-width="0.5" />
<rect x="504.33" y="42.40" width="1.80" height="0.90" fill="#999" stroke="none" stroke-width="0" />
<line x1="517.70" y1="40.60" x2="517.70" y2="41.80" stroke="#555" stroke-width="0.5" />
<rect x="516.80" y="42.40" width="1.80" height="0.90" fill="#999" stroke="none" stroke-width="0" />
<rect x="488.25" y="44.00" width="9.00" height="1.00" fill="#aaa" stroke="none" stroke-width="0" />
<line x1="466.60" y1="40.60" x2="467.80" y2="40.60" stroke="#666" stroke-width="0.5" />
<rect x="465.20" y="38.20" width="0.90" height="1.40" fill="#888" stroke="none" stroke-width="0" />
<line x1="466.60" y1="35.35" x2="467.80" y2="35.35" stroke="#666" stroke-width="0.5" />
<rect x="465.20" y="32.95" width="0.90" height="1.40" fill="#888" stroke="none" stroke-width="0" />
<line x1="466.60" y1="30.10" x2="467.80" y2="30.10" stroke="#666" stroke-width="0.5" />
<rect x="465.20" y="27.70" width="0.90" height="1.40" fill="#888" stroke="none" stroke-width="0" />
<line x1="466.60" y1="24.85" x2="467.80" y2="24.85" stroke="#666" stroke-width="0.5" />
<rect x="465.20" y="22.45" width="0.90" height="1.40" fill="#888" stroke="none" stroke-width="0" />
<line x1="466.60" y1="19.60" x2="467.80" y2="19.60" stroke="#666" stroke-width="0.5" />
<rect x="463.20" y="26.60" width="1.00" height="7.00" fill="#aaa" stroke="none" stroke-width="0" />
<text x="504.80" y="27.10" font-family="Liberation Sans, sans-serif" font-size="5.6" font-weight="bold" text-anchor="start" fill="#000" stroke="#000" stroke-width="0.22" stroke-linejoin="round" textLength="11.20" lengthAdjust="spacingAndGlyphs" >(9.7)</text>
<path d="M469.80 70.30L469.80 70.30C470.28 70.13 471.45 69.50 472.70 69.30C473.95 69.10 475.77 69.35 477.30 69.10C478.83 68.85 480.65 68.43 481.90 67.80C483.15 67.17 483.83 66.22 484.80 65.30C485.77 64.38 486.63 63.20 487.70 62.30C488.77 61.40 490.23 60.15 491.20 59.90C492.17 59.65 492.73 60.98 493.50 60.80C494.27 60.62 495.05 59.38 495.80 58.80C496.55 58.22 497.23 57.22 498.00 57.30C498.77 57.38 499.62 58.22 500.40 59.30C501.18 60.38 501.93 62.38 502.70 63.80C503.47 65.22 504.03 66.80 505.00 67.80C505.97 68.80 507.53 69.38 508.50 69.80C509.47 70.22 510.42 70.22 510.80 70.30L510.80 70.30Z" fill="#000" stroke="none" stroke-width="1" />
<path d="M474.40 69.30C474.75 68.47 475.82 66.63 476.50 64.30C477.18 61.97 477.95 57.63 478.50 55.30C479.05 52.97 479.35 50.30 479.80 50.30C480.25 50.30 480.67 52.97 481.20 55.30C481.73 57.63 482.45 62.13 483.00 64.30C483.55 66.47 484.25 67.63 484.50 68.30" fill="none" stroke="#fff" stroke-width="1.8" stroke-linejoin="round"/>
<path d="M474.40 69.30C474.75 68.47 475.82 66.63 476.50 64.30C477.18 61.97 477.95 57.63 478.50 55.30C479.05 52.97 479.35 50.30 479.80 50.30C480.25 50.30 480.67 52.97 481.20 55.30C481.73 57.63 482.45 62.13 483.00 64.30C483.55 66.47 484.25 67.63 484.50 68.30" fill="none" stroke="#333" stroke-width="0.9" stroke-linejoin="round"/>
<line x1="467.80" y1="49.20" x2="467.80" y2="70.70" stroke="#222" stroke-width="0.75" />
<line x1="467.80" y1="70.30" x2="517.70" y2="70.30" stroke="#111" stroke-width="0.8" />
<line x1="467.80" y1="70.30" x2="467.80" y2="71.50" stroke="#555" stroke-width="0.5" />
<rect x="466.90" y="72.10" width="1.80" height="0.90" fill="#999" stroke="none" stroke-width="0" />
<line x1="480.28" y1="70.30" x2="480.28" y2="71.50" stroke="#555" stroke-width="0.5" />
<rect x="479.38" y="72.10" width="1.80" height="0.90" fill="#999" stroke="none" stroke-width="0" />
<line x1="492.75" y1="70.30" x2="492.75" y2="71.50" stroke="#555" stroke-width="0.5" />
<rect x="491.85" y="72.10" width="1.80" height="0.90" fill="#999" stroke="none" stroke-width="0" />
<line x1="505.23" y1="70.30" x2="505.23" y2="71.50" stroke="#555" stroke-width="0.5" />
<rect x="504.33" y="72.10" width="1.80" height="0.90" fill="#999" stroke="none" stroke-width="0" />
<line x1="517.70" y1="70.30" x2="517.70" y2="71.50" stroke="#555" stroke-width="0.5" />
<rect x="516.80" y="72.10" width="1.80" height="0.90" fill="#999" stroke="none" stroke-width="0" />
<rect x="488.25" y="73.70" width="9.00" height="1.00" fill="#aaa" stroke="none" stroke-width="0" />
<line x1="466.60" y1="70.30" x2="467.80" y2="70.30" stroke="#666" stroke-width="0.5" />
<rect x="465.20" y="67.90" width="0.90" height="1.40" fill="#888" stroke="none" stroke-width="0" />
<line x1="466.60" y1="65.03" x2="467.80" y2="65.03" stroke="#666" stroke-width="0.5" />
<rect x="465.20" y="62.63" width="0.90" height="1.40" fill="#888" stroke="none" stroke-width="0" />
<line x1="466.60" y1="59.75" x2="467.80" y2="59.75" stroke="#666" stroke-width="0.5" />
<rect x="465.20" y="57.35" width="0.90" height="1.40" fill="#888" stroke="none" stroke-width="0" />
<line x1="466.60" y1="54.48" x2="467.80" y2="54.48" stroke="#666" stroke-width="0.5" />
<rect x="465.20" y="52.08" width="0.90" height="1.40" fill="#888" stroke="none" stroke-width="0" />
<line x1="466.60" y1="49.20" x2="467.80" y2="49.20" stroke="#666" stroke-width="0.5" />
<rect x="463.20" y="56.25" width="1.00" height="7.00" fill="#aaa" stroke="none" stroke-width="0" />
<text x="504.00" y="57.50" font-family="Liberation Sans, sans-serif" font-size="5.6" font-weight="bold" text-anchor="start" fill="#000" stroke="#000" stroke-width="0.22" stroke-linejoin="round" textLength="13.70" lengthAdjust="spacingAndGlyphs" >(10.0)</text>
<path d="M469.20 99.50L469.20 99.50C469.58 99.17 470.73 98.08 471.50 97.50C472.27 96.92 473.02 96.58 473.80 96.00C474.58 95.42 475.42 94.92 476.20 94.00C476.98 93.08 477.83 91.75 478.50 90.50C479.17 89.25 479.63 87.75 480.20 86.50C480.77 85.25 481.32 83.00 481.90 83.00C482.48 83.00 483.12 85.25 483.70 86.50C484.28 87.75 484.73 89.17 485.40 90.50C486.07 91.83 486.93 93.42 487.70 94.50C488.47 95.58 489.13 96.30 490.00 97.00C490.87 97.70 491.75 98.28 492.90 98.70C494.05 99.12 493.22 99.37 496.90 99.50C500.58 99.63 511.98 99.50 515.00 99.50L515.00 99.50Z" fill="#000" stroke="none" stroke-width="1" />
<path d="M471.50 97.50C471.80 96.83 472.72 94.67 473.30 93.50C473.88 92.33 474.33 91.25 475.00 90.50C475.67 89.75 476.72 89.17 477.30 89.00C477.88 88.83 478.30 89.42 478.50 89.50" fill="none" stroke="#fff" stroke-width="1.8" stroke-linejoin="round"/>
<path d="M471.50 97.50C471.80 96.83 472.72 94.67 473.30 93.50C473.88 92.33 474.33 91.25 475.00 90.50C475.67 89.75 476.72 89.17 477.30 89.00C477.88 88.83 478.30 89.42 478.50 89.50" fill="none" stroke="#333" stroke-width="0.9" stroke-linejoin="round"/>
<line x1="467.80" y1="78.50" x2="467.80" y2="99.90" stroke="#222" stroke-width="0.75" />
<line x1="467.80" y1="99.50" x2="517.70" y2="99.50" stroke="#111" stroke-width="0.8" />
<line x1="467.80" y1="99.50" x2="467.80" y2="100.70" stroke="#555" stroke-width="0.5" />
<rect x="466.90" y="101.30" width="1.80" height="0.90" fill="#999" stroke="none" stroke-width="0" />
<line x1="480.28" y1="99.50" x2="480.28" y2="100.70" stroke="#555" stroke-width="0.5" />
<rect x="479.38" y="101.30" width="1.80" height="0.90" fill="#999" stroke="none" stroke-width="0" />
<line x1="492.75" y1="99.50" x2="492.75" y2="100.70" stroke="#555" stroke-width="0.5" />
<rect x="491.85" y="101.30" width="1.80" height="0.90" fill="#999" stroke="none" stroke-width="0" />
<line x1="505.23" y1="99.50" x2="505.23" y2="100.70" stroke="#555" stroke-width="0.5" />
<rect x="504.33" y="101.30" width="1.80" height="0.90" fill="#999" stroke="none" stroke-width="0" />
<line x1="517.70" y1="99.50" x2="517.70" y2="100.70" stroke="#555" stroke-width="0.5" />
<rect x="516.80" y="101.30" width="1.80" height="0.90" fill="#999" stroke="none" stroke-width="0" />
<rect x="488.25" y="102.90" width="9.00" height="1.00" fill="#aaa" stroke="none" stroke-width="0" />
<line x1="466.60" y1="99.50" x2="467.80" y2="99.50" stroke="#666" stroke-width="0.5" />
<rect x="465.20" y="97.10" width="0.90" height="1.40" fill="#888" stroke="none" stroke-width="0" />
<line x1="466.60" y1="94.25" x2="467.80" y2="94.25" stroke="#666" stroke-width="0.5" />
<rect x="465.20" y="91.85" width="0.90" height="1.40" fill="#888" stroke="none" stroke-width="0" />
<line x1="466.60" y1="89.00" x2="467.80" y2="89.00" stroke="#666" stroke-width="0.5" />
<rect x="465.20" y="86.60" width="0.90" height="1.40" fill="#888" stroke="none" stroke-width="0" />
<line x1="466.60" y1="83.75" x2="467.80" y2="83.75" stroke="#666" stroke-width="0.5" />
<rect x="465.20" y="81.35" width="0.90" height="1.40" fill="#888" stroke="none" stroke-width="0" />
<line x1="466.60" y1="78.50" x2="467.80" y2="78.50" stroke="#666" stroke-width="0.5" />
<rect x="463.20" y="85.50" width="1.00" height="7.00" fill="#aaa" stroke="none" stroke-width="0" />
<text x="505.00" y="84.80" font-family="Liberation Sans, sans-serif" font-size="5.6" font-weight="bold" text-anchor="start" fill="#000" stroke="#000" stroke-width="0.22" stroke-linejoin="round" textLength="11.00" lengthAdjust="spacingAndGlyphs" >(1.4)</text>
<path d="M467.90 130.80L467.90 127.80C468.00 128.13 468.28 129.38 468.50 129.80C468.72 130.22 468.78 130.47 469.20 130.30C469.62 130.13 470.42 129.72 471.00 128.80C471.58 127.88 472.03 125.97 472.70 124.80C473.37 123.63 474.23 122.80 475.00 121.80C475.77 120.80 476.43 119.80 477.30 118.80C478.17 117.80 479.33 116.38 480.20 115.80C481.07 115.22 481.73 114.97 482.50 115.30C483.27 115.63 483.93 116.97 484.80 117.80C485.67 118.63 486.83 119.13 487.70 120.30C488.57 121.47 489.23 123.38 490.00 124.80C490.77 126.22 491.33 127.97 492.30 128.80C493.27 129.63 493.88 129.55 495.80 129.80C497.72 130.05 500.60 130.13 503.80 130.30C507.00 130.47 513.13 130.72 515.00 130.80L515.00 130.80Z" fill="#000" stroke="none" stroke-width="1" />
<path d="M471.00 128.80C471.28 127.47 472.13 122.97 472.70 120.80C473.27 118.63 473.73 116.88 474.40 115.80C475.07 114.72 476.02 114.13 476.70 114.30C477.38 114.47 477.92 116.55 478.50 116.80C479.08 117.05 479.92 115.97 480.20 115.80" fill="none" stroke="#fff" stroke-width="1.8" stroke-linejoin="round"/>
<path d="M471.00 128.80C471.28 127.47 472.13 122.97 472.70 120.80C473.27 118.63 473.73 116.88 474.40 115.80C475.07 114.72 476.02 114.13 476.70 114.30C477.38 114.47 477.92 116.55 478.50 116.80C479.08 117.05 479.92 115.97 480.20 115.80" fill="none" stroke="#333" stroke-width="0.9" stroke-linejoin="round"/>
<line x1="467.80" y1="109.90" x2="517.70" y2="109.90" stroke="#888" stroke-width="0.9" />
<line x1="517.70" y1="109.90" x2="517.70" y2="115.90" stroke="#999" stroke-width="0.7" />
<line x1="467.80" y1="109.90" x2="467.80" y2="131.20" stroke="#222" stroke-width="0.75" />
<line x1="467.80" y1="130.80" x2="517.70" y2="130.80" stroke="#111" stroke-width="0.8" />
<line x1="467.80" y1="130.80" x2="467.80" y2="132.00" stroke="#555" stroke-width="0.5" />
<rect x="466.90" y="132.60" width="1.80" height="0.90" fill="#999" stroke="none" stroke-width="0" />
<line x1="480.28" y1="130.80" x2="480.28" y2="132.00" stroke="#555" stroke-width="0.5" />
<rect x="479.38" y="132.60" width="1.80" height="0.90" fill="#999" stroke="none" stroke-width="0" />
<line x1="492.75" y1="130.80" x2="492.75" y2="132.00" stroke="#555" stroke-width="0.5" />
<rect x="491.85" y="132.60" width="1.80" height="0.90" fill="#999" stroke="none" stroke-width="0" />
<line x1="505.23" y1="130.80" x2="505.23" y2="132.00" stroke="#555" stroke-width="0.5" />
<rect x="504.33" y="132.60" width="1.80" height="0.90" fill="#999" stroke="none" stroke-width="0" />
<line x1="517.70" y1="130.80" x2="517.70" y2="132.00" stroke="#555" stroke-width="0.5" />
<rect x="516.80" y="132.60" width="1.80" height="0.90" fill="#999" stroke="none" stroke-width="0" />
<rect x="488.25" y="134.20" width="9.00" height="1.00" fill="#aaa" stroke="none" stroke-width="0" />
<line x1="466.60" y1="130.80" x2="467.80" y2="130.80" stroke="#666" stroke-width="0.5" />
<rect x="465.20" y="128.40" width="0.90" height="1.40" fill="#888" stroke="none" stroke-width="0" />
<line x1="466.60" y1="125.58" x2="467.80" y2="125.58" stroke="#666" stroke-width="0.5" />
<rect x="465.20" y="123.18" width="0.90" height="1.40" fill="#888" stroke="none" stroke-width="0" />
<line x1="466.60" y1="120.35" x2="467.80" y2="120.35" stroke="#666" stroke-width="0.5" />
<rect x="465.20" y="117.95" width="0.90" height="1.40" fill="#888" stroke="none" stroke-width="0" />
<line x1="466.60" y1="115.12" x2="467.80" y2="115.12" stroke="#666" stroke-width="0.5" />
<rect x="465.20" y="112.72" width="0.90" height="1.40" fill="#888" stroke="none" stroke-width="0" />
<line x1="466.60" y1="109.90" x2="467.80" y2="109.90" stroke="#666" stroke-width="0.5" />
<rect x="463.20" y="116.85" width="1.00" height="7.00" fill="#aaa" stroke="none" stroke-width="0" />
<text x="504.40" y="116.50" font-family="Liberation Sans, sans-serif" font-size="5.6" font-weight="bold" text-anchor="start" fill="#000" stroke="#000" stroke-width="0.22" stroke-linejoin="round" textLength="11.60" lengthAdjust="spacingAndGlyphs" >(1.6)</text>
<path d="M468.70 162.20L468.70 161.70C469.08 161.45 470.33 160.95 471.00 160.20C471.67 159.45 472.03 158.37 472.70 157.20C473.37 156.03 474.33 153.78 475.00 153.20C475.67 152.62 476.03 153.53 476.70 153.70C477.37 153.87 478.23 154.45 479.00 154.20C479.77 153.95 480.52 153.03 481.30 152.20C482.08 151.37 482.92 149.87 483.70 149.20C484.48 148.53 485.43 148.53 486.00 148.20C486.57 147.87 486.63 147.12 487.10 147.20C487.57 147.28 488.22 147.70 488.80 148.70C489.38 149.70 490.02 151.45 490.60 153.20C491.18 154.95 491.63 157.87 492.30 159.20C492.97 160.53 493.65 160.70 494.60 161.20C495.55 161.70 497.43 162.03 498.00 162.20L498.00 162.20Z" fill="#000" stroke="none" stroke-width="1" />
<path d="M469.20 160.20C469.50 159.03 470.42 155.20 471.00 153.20C471.58 151.20 472.23 149.45 472.70 148.20C473.17 146.95 473.32 145.20 473.80 145.70C474.28 146.20 475.02 149.78 475.60 151.20C476.18 152.62 476.73 153.70 477.30 154.20C477.87 154.70 478.72 154.20 479.00 154.20" fill="none" stroke="#fff" stroke-width="1.8" stroke-linejoin="round"/>
<path d="M469.20 160.20C469.50 159.03 470.42 155.20 471.00 153.20C471.58 151.20 472.23 149.45 472.70 148.20C473.17 146.95 473.32 145.20 473.80 145.70C474.28 146.20 475.02 149.78 475.60 151.20C476.18 152.62 476.73 153.70 477.30 154.20C477.87 154.70 478.72 154.20 479.00 154.20" fill="none" stroke="#333" stroke-width="0.9" stroke-linejoin="round"/>
<line x1="467.80" y1="141.20" x2="517.70" y2="141.20" stroke="#888" stroke-width="0.9" />
<line x1="517.70" y1="141.20" x2="517.70" y2="147.20" stroke="#999" stroke-width="0.7" />
<line x1="467.80" y1="141.20" x2="467.80" y2="162.60" stroke="#222" stroke-width="0.75" />
<line x1="467.80" y1="162.20" x2="517.70" y2="162.20" stroke="#111" stroke-width="0.8" />
<line x1="467.80" y1="162.20" x2="467.80" y2="163.40" stroke="#555" stroke-width="0.5" />
<rect x="466.90" y="164.00" width="1.80" height="0.90" fill="#999" stroke="none" stroke-width="0" />
<line x1="480.28" y1="162.20" x2="480.28" y2="163.40" stroke="#555" stroke-width="0.5" />
<rect x="479.38" y="164.00" width="1.80" height="0.90" fill="#999" stroke="none" stroke-width="0" />
<line x1="492.75" y1="162.20" x2="492.75" y2="163.40" stroke="#555" stroke-width="0.5" />
<rect x="491.85" y="164.00" width="1.80" height="0.90" fill="#999" stroke="none" stroke-width="0" />
<line x1="505.23" y1="162.20" x2="505.23" y2="163.40" stroke="#555" stroke-width="0.5" />
<rect x="504.33" y="164.00" width="1.80" height="0.90" fill="#999" stroke="none" stroke-width="0" />
<line x1="517.70" y1="162.20" x2="517.70" y2="163.40" stroke="#555" stroke-width="0.5" />
<rect x="516.80" y="164.00" width="1.80" height="0.90" fill="#999" stroke="none" stroke-width="0" />
<rect x="488.25" y="165.60" width="9.00" height="1.00" fill="#aaa" stroke="none" stroke-width="0" />
<line x1="466.60" y1="162.20" x2="467.80" y2="162.20" stroke="#666" stroke-width="0.5" />
<rect x="465.20" y="159.80" width="0.90" height="1.40" fill="#888" stroke="none" stroke-width="0" />
<line x1="466.60" y1="156.95" x2="467.80" y2="156.95" stroke="#666" stroke-width="0.5" />
<rect x="465.20" y="154.55" width="0.90" height="1.40" fill="#888" stroke="none" stroke-width="0" />
<line x1="466.60" y1="151.70" x2="467.80" y2="151.70" stroke="#666" stroke-width="0.5" />
<rect x="465.20" y="149.30" width="0.90" height="1.40" fill="#888" stroke="none" stroke-width="0" />
<line x1="466.60" y1="146.45" x2="467.80" y2="146.45" stroke="#666" stroke-width="0.5" />
<rect x="465.20" y="144.05" width="0.90" height="1.40" fill="#888" stroke="none" stroke-width="0" />
<line x1="466.60" y1="141.20" x2="467.80" y2="141.20" stroke="#666" stroke-width="0.5" />
<rect x="463.20" y="148.20" width="1.00" height="7.00" fill="#aaa" stroke="none" stroke-width="0" />
<text x="505.00" y="147.50" font-family="Liberation Sans, sans-serif" font-size="5.6" font-weight="bold" text-anchor="start" fill="#000" stroke="#000" stroke-width="0.22" stroke-linejoin="round" textLength="11.00" lengthAdjust="spacingAndGlyphs" >(1.6)</text>
<text x="-0.80" y="194.20" font-family="Liberation Sans, sans-serif" font-size="11.5" font-weight="bold" text-anchor="start" fill="#000" stroke="#000" stroke-width="0.18" stroke-linejoin="round" textLength="8.30" lengthAdjust="spacingAndGlyphs" >C</text>
<text x="7.20" y="203.30" font-family="Liberation Sans, sans-serif" font-size="5.6" font-weight="bold" text-anchor="start" fill="#000" stroke="#000" stroke-width="0.1" stroke-linejoin="round" textLength="18.80" lengthAdjust="spacingAndGlyphs" >Step 2</text>
<line x1="7.20" y1="204.30" x2="26.00" y2="204.30" stroke="#000" stroke-width="0.5" />
<text x="7.20" y="211.10" font-family="Liberation Sans, sans-serif" font-size="5.6" font-weight="bold" text-anchor="start" fill="#000" stroke="#000" stroke-width="0.1" stroke-linejoin="round" textLength="28.60" lengthAdjust="spacingAndGlyphs" >treatment</text>
<line x1="7.20" y1="212.00" x2="35.80" y2="212.00" stroke="#000" stroke-width="0.5" />
<line x1="19.40" y1="212.80" x2="19.40" y2="217.00" stroke="#000" stroke-width="0.5" />
<path d="M18.30 216.80L20.50 216.80L19.40 219.00Z" fill="#000" stroke="none" stroke-width="1" />
<text x="66.50" y="210.10" font-family="Liberation Sans, sans-serif" font-size="5.6" font-weight="bold" text-anchor="start" fill="#000" stroke="#000" stroke-width="0.05" stroke-linejoin="round" textLength="38.70" lengthAdjust="spacingAndGlyphs" >MHC Class II</text>
<line x1="66.50" y1="211.00" x2="105.20" y2="211.00" stroke="#000" stroke-width="0.5" />
<text x="133.50" y="210.40" font-family="Liberation Sans, sans-serif" font-size="5.6" font-weight="bold" text-anchor="start" fill="#000" stroke="#000" stroke-width="0.05" stroke-linejoin="round" textLength="16.40" lengthAdjust="spacingAndGlyphs" >CD40</text>
<line x1="133.50" y1="211.20" x2="149.90" y2="211.20" stroke="#000" stroke-width="0.5" />
<text x="186.50" y="210.40" font-family="Liberation Sans, sans-serif" font-size="5.6" font-weight="bold" text-anchor="start" fill="#000" stroke="#000" stroke-width="0.05" stroke-linejoin="round" textLength="13.10" lengthAdjust="spacingAndGlyphs" >B7.2</text>
<line x1="186.50" y1="211.20" x2="199.60" y2="211.20" stroke="#000" stroke-width="0.5" />
<text x="232.20" y="210.40" font-family="Liberation Sans, sans-serif" font-size="5.6" font-weight="bold" text-anchor="start" fill="#000" stroke="#000" stroke-width="0.05" stroke-linejoin="round" textLength="39.00" lengthAdjust="spacingAndGlyphs" >OX40 Ligand</text>
<line x1="232.20" y1="211.30" x2="271.20" y2="211.30" stroke="#000" stroke-width="0.5" />
<text x="3.00" y="226.50" font-family="Liberation Sans, sans-serif" font-size="5.3" font-weight="bold" text-anchor="start" fill="#000" stroke="#000" stroke-width="0.08" stroke-linejoin="round" textLength="43.50" lengthAdjust="spacingAndGlyphs" >Normal activation</text>
<text x="3.00" y="232.70" font-family="Liberation Sans, sans-serif" font-size="5.3" font-weight="bold" text-anchor="start" fill="#000" stroke="#000" stroke-width="0.08" stroke-linejoin="round" textLength="43.50" lengthAdjust="spacingAndGlyphs" >(0 hr IL4+GMCSF,</text>
<text x="3.00" y="238.60" font-family="Liberation Sans, sans-serif" font-size="5.3" font-weight="bold" text-anchor="start" fill="#000" stroke="#000" stroke-width="0.08" stroke-linejoin="round" textLength="34.50" lengthAdjust="spacingAndGlyphs" >24h CpG, LPS</text>
<text x="3.00" y="260.60" font-family="Liberation Sans, sans-serif" font-size="5.3" font-weight="bold" text-anchor="start" fill="#000" stroke="#000" stroke-width="0.08" stroke-linejoin="round" textLength="43.50" lengthAdjust="spacingAndGlyphs" >Normal activation</text>
<text x="3.00" y="266.70" font-family="Liberation Sans, sans-serif" font-size="5.3" font-weight="bold" text-anchor="start" fill="#000" stroke="#000" stroke-width="0.08" stroke-linejoin="round" textLength="39.80" lengthAdjust="spacingAndGlyphs" >plus 0 hr mIL-10</text>
<text x="3.00" y="272.40" font-family="Liberation Sans, sans-serif" font-size="5.3" font-weight="bold" text-anchor="start" fill="#000" stroke="#000" stroke-width="0.08" stroke-linejoin="round" textLength="20.80" lengthAdjust="spacingAndGlyphs" >25 ng/ml</text>
<text x="3.00" y="291.50" font-family="Liberation Sans, sans-serif" font-size="5.3" font-weight="bold" text-anchor="start" fill="#000" stroke="#000" stroke-width="0.08" stroke-linejoin="round" textLength="43.50" lengthAdjust="spacingAndGlyphs" >Normal activation</text>
<text x="3.00" y="297.40" font-family="Liberation Sans, sans-serif" font-size="5.3" font-weight="bold" text-anchor="start" fill="#000" stroke="#000" stroke-width="0.08" stroke-linejoin="round" textLength="42.70" lengthAdjust="spacingAndGlyphs" >plus 0 hr hTGF&#946;1</text>
<text x="3.00" y="303.20" font-family="Liberation Sans, sans-serif" font-size="5.3" font-weight="bold" text-anchor="start" fill="#000" stroke="#000" stroke-width="0.08" stroke-linejoin="round" textLength="20.80" lengthAdjust="spacingAndGlyphs" >25 ng/ml</text>
<text x="3.00" y="325.60" font-family="Liberation Sans, sans-serif" font-size="5.3" font-weight="bold" text-anchor="start" fill="#000" stroke="#000" stroke-width="0.08" stroke-linejoin="round" textLength="43.50" lengthAdjust="spacingAndGlyphs" >Normal activation</text>
<text x="3.00" y="331.70" font-family="Liberation Sans, sans-serif" font-size="5.3" font-weight="bold" text-anchor="start" fill="#000" stroke="#000" stroke-width="0.08" stroke-linejoin="round" textLength="41.40" lengthAdjust="spacingAndGlyphs" >plus 0 hr <tspan font-style="italic">m</tspan>VEGF</text>
<text x="3.00" y="337.40" font-family="Liberation Sans, sans-serif" font-size="5.3" font-weight="bold" text-anchor="start" fill="#000" stroke="#000" stroke-width="0.08" stroke-linejoin="round" textLength="20.80" lengthAdjust="spacingAndGlyphs" >50 ng/ml</text>
<text x="3.00" y="356.00" font-family="Liberation Sans, sans-serif" font-size="5.3" font-weight="bold" text-anchor="start" fill="#000" stroke="#000" stroke-width="0.08" stroke-linejoin="round" textLength="43.50" lengthAdjust="spacingAndGlyphs" >Normal activation</text>
<text x="3.00" y="362.10" font-family="Liberation Sans, sans-serif" font-size="5.3" font-weight="bold" text-anchor="start" fill="#000" stroke="#000" stroke-width="0.08" stroke-linejoin="round" textLength="40.60" lengthAdjust="spacingAndGlyphs" >plus 0 hr PGE<tspan font-size="3.5" dy="1.2">2</tspan><tspan dy="-1.2"> 4</tspan></text>
<text x="3.00" y="367.70" font-family="Liberation Sans, sans-serif" font-size="5.3" font-weight="bold" text-anchor="start" fill="#000" stroke="#000" stroke-width="0.08" stroke-linejoin="round" textLength="13.40" lengthAdjust="spacingAndGlyphs" >&#956;g/ml</text>
<path d="M89.60 238.80L89.60 238.80C90.57 238.55 93.67 237.88 95.40 237.30C97.13 236.72 98.65 236.22 100.00 235.30C101.35 234.38 102.53 232.88 103.50 231.80C104.47 230.72 105.18 230.30 105.80 228.80C106.42 227.30 106.97 223.80 107.20 222.80L107.20 238.80Z" fill="#000" stroke="none" stroke-width="1" />
<path d="M64.80 233.80C65.08 234.30 65.83 236.38 66.50 236.80C67.17 237.22 68.02 236.97 68.80 236.30C69.58 235.63 70.52 234.38 71.20 232.80C71.88 231.22 72.37 228.72 72.90 226.80C73.43 224.88 73.92 221.30 74.40 221.30C74.88 221.30 75.28 225.05 75.80 226.80C76.32 228.55 76.83 230.47 77.50 231.80C78.17 233.13 78.75 233.97 79.80 234.80C80.85 235.63 82.17 236.30 83.80 236.80C85.43 237.30 87.67 237.55 89.60 237.80C91.53 238.05 93.67 238.18 95.40 238.30C97.13 238.42 99.23 238.47 100.00 238.50" fill="none" stroke="#333" stroke-width="0.9" stroke-linejoin="round"/>
<line x1="64.20" y1="220.30" x2="107.20" y2="220.30" stroke="#888" stroke-width="0.9" />
<line x1="107.20" y1="220.30" x2="107.20" y2="238.80" stroke="#aaa" stroke-width="0.7" />
<line x1="64.20" y1="220.30" x2="64.20" y2="239.20" stroke="#222" stroke-width="0.75" />
<line x1="64.20" y1="238.80" x2="107.20" y2="238.80" stroke="#111" stroke-width="0.8" />
<line x1="64.20" y1="238.80" x2="64.20" y2="240.00" stroke="#555" stroke-width="0.5" />
<rect x="63.30" y="240.60" width="1.80" height="0.90" fill="#999" stroke="none" stroke-width="0" />
<line x1="74.95" y1="238.80" x2="74.95" y2="240.00" stroke="#555" stroke-width="0.5" />
<rect x="74.05" y="240.60" width="1.80" height="0.90" fill="#999" stroke="none" stroke-width="0" />
<line x1="85.70" y1="238.80" x2="85.70" y2="240.00" stroke="#555" stroke-width="0.5" />
<rect x="84.80" y="240.60" width="1.80" height="0.90" fill="#999" stroke="none" stroke-width="0" />
<line x1="96.45" y1="238.80" x2="96.45" y2="240.00" stroke="#555" stroke-width="0.5" />
<rect x="95.55" y="240.60" width="1.80" height="0.90" fill="#999" stroke="none" stroke-width="0" />
<line x1="107.20" y1="238.80" x2="107.20" y2="240.00" stroke="#555" stroke-width="0.5" />
<rect x="106.30" y="240.60" width="1.80" height="0.90" fill="#999" stroke="none" stroke-width="0" />
<rect x="81.20" y="242.20" width="9.00" height="1.00" fill="#aaa" stroke="none" stroke-width="0" />
<line x1="63.00" y1="238.80" x2="64.20" y2="238.80" stroke="#666" stroke-width="0.5" />
<rect x="61.60" y="236.40" width="0.90" height="1.40" fill="#888" stroke="none" stroke-width="0" />
<line x1="63.00" y1="234.18" x2="64.20" y2="234.18" stroke="#666" stroke-width="0.5" />
<rect x="61.60" y="231.78" width="0.90" height="1.40" fill="#888" stroke="none" stroke-width="0" />
<line x1="63.00" y1="229.55" x2="64.20" y2="229.55" stroke="#666" stroke-width="0.5" />
<rect x="61.60" y="227.15" width="0.90" height="1.40" fill="#888" stroke="none" stroke-width="0" />
<line x1="63.00" y1="224.93" x2="64.20" y2="224.93" stroke="#666" stroke-width="0.5" />
<rect x="61.60" y="222.53" width="0.90" height="1.40" fill="#888" stroke="none" stroke-width="0" />
<line x1="63.00" y1="220.30" x2="64.20" y2="220.30" stroke="#666" stroke-width="0.5" />
<rect x="59.60" y="226.05" width="1.00" height="7.00" fill="#aaa" stroke="none" stroke-width="0" />
<text x="85.20" y="219.50" font-family="Liberation Sans, sans-serif" font-size="5.6" font-weight="bold" text-anchor="start" fill="#000" stroke="#000" stroke-width="0.12" stroke-linejoin="round" textLength="17.70" lengthAdjust="spacingAndGlyphs" >(229.4)</text>
<path d="M94.20 271.50L94.20 271.50C94.97 271.17 97.45 270.33 98.80 269.50C100.15 268.67 101.33 267.50 102.30 266.50C103.27 265.50 103.93 264.67 104.60 263.50C105.27 262.33 105.87 261.17 106.30 259.50C106.73 257.83 107.05 254.50 107.20 253.50L107.20 271.50Z" fill="#000" stroke="none" stroke-width="1" />
<path d="M64.80 269.50C65.28 269.50 66.73 270.00 67.70 269.50C68.67 269.00 69.83 268.00 70.60 266.50C71.37 265.00 71.78 262.33 72.30 260.50C72.82 258.67 73.22 255.50 73.70 255.50C74.18 255.50 74.57 258.67 75.20 260.50C75.83 262.33 76.63 265.17 77.50 266.50C78.37 267.83 79.15 267.83 80.40 268.50C81.65 269.17 83.47 270.08 85.00 270.50C86.53 270.92 88.83 270.92 89.60 271.00" fill="none" stroke="#333" stroke-width="0.9" stroke-linejoin="round"/>
<line x1="64.20" y1="252.70" x2="107.20" y2="252.70" stroke="#888" stroke-width="0.9" />
<line x1="107.20" y1="252.70" x2="107.20" y2="271.50" stroke="#aaa" stroke-width="0.7" />
<line x1="64.20" y1="252.70" x2="64.20" y2="271.90" stroke="#222" stroke-width="0.75" />
<line x1="64.20" y1="271.50" x2="107.20" y2="271.50" stroke="#111" stroke-width="0.8" />
<line x1="64.20" y1="271.50" x2="64.20" y2="272.70" stroke="#555" stroke-width="0.5" />
<rect x="63.30" y="273.30" width="1.80" height="0.90" fill="#999" stroke="none" stroke-width="0" />
<line x1="74.95" y1="271.50" x2="74.95" y2="272.70" stroke="#555" stroke-width="0.5" />
<rect x="74.05" y="273.30" width="1.80" height="0.90" fill="#999" stroke="none" stroke-width="0" />
<line x1="85.70" y1="271.50" x2="85.70" y2="272.70" stroke="#555" stroke-width="0.5" />
<rect x="84.80" y="273.30" width="1.80" height="0.90" fill="#999" stroke="none" stroke-width="0" />
<line x1="96.45" y1="271.50" x2="96.45" y2="272.70" stroke="#555" stroke-width="0.5" />
<rect x="95.55" y="273.30" width="1.80" height="0.90" fill="#999" stroke="none" stroke-width="0" />
<line x1="107.20" y1="271.50" x2="107.20" y2="272.70" stroke="#555" stroke-width="0.5" />
<rect x="106.30" y="273.30" width="1.80" height="0.90" fill="#999" stroke="none" stroke-width="0" />
<rect x="81.20" y="274.90" width="9.00" height="1.00" fill="#aaa" stroke="none" stroke-width="0" />
<line x1="63.00" y1="271.50" x2="64.20" y2="271.50" stroke="#666" stroke-width="0.5" />
<rect x="61.60" y="269.10" width="0.90" height="1.40" fill="#888" stroke="none" stroke-width="0" />
<line x1="63.00" y1="266.80" x2="64.20" y2="266.80" stroke="#666" stroke-width="0.5" />
<rect x="61.60" y="264.40" width="0.90" height="1.40" fill="#888" stroke="none" stroke-width="0" />
<line x1="63.00" y1="262.10" x2="64.20" y2="262.10" stroke="#666" stroke-width="0.5" />
<rect x="61.60" y="259.70" width="0.90" height="1.40" fill="#888" stroke="none" stroke-width="0" />
<line x1="63.00" y1="257.40" x2="64.20" y2="257.40" stroke="#666" stroke-width="0.5" />
<rect x="61.60" y="255.00" width="0.90" height="1.40" fill="#888" stroke="none" stroke-width="0" />
<line x1="63.00" y1="252.70" x2="64.20" y2="252.70" stroke="#666" stroke-width="0.5" />
<rect x="59.60" y="258.60" width="1.00" height="7.00" fill="#aaa" stroke="none" stroke-width="0" />
<text x="84.80" y="251.80" font-family="Liberation Sans, sans-serif" font-size="5.6" font-weight="bold" text-anchor="start" fill="#000" stroke="#000" stroke-width="0.12" stroke-linejoin="round" textLength="17.70" lengthAdjust="spacingAndGlyphs" >(262.5)</text>
<path d="M64.30 304.10L64.30 299.10C64.42 299.43 64.72 300.35 65.00 301.10C65.28 301.85 65.67 303.10 66.00 303.60C66.33 304.10 62.50 304.02 67.00 304.10C71.50 304.18 87.88 304.43 93.00 304.10C98.12 303.77 96.33 302.93 97.70 302.10C99.07 301.27 100.15 300.27 101.20 299.10C102.25 297.93 103.23 296.10 104.00 295.10C104.77 294.10 105.30 294.60 105.80 293.10C106.30 291.60 106.80 287.27 107.00 286.10L107.00 304.10Z" fill="#000" stroke="none" stroke-width="1" />
<path d="M64.80 298.10C65.08 298.77 65.83 301.60 66.50 302.10C67.17 302.60 68.02 302.43 68.80 301.10C69.58 299.77 70.42 296.52 71.20 294.10C71.98 291.68 72.83 286.93 73.50 286.60C74.17 286.27 74.53 290.02 75.20 292.10C75.87 294.18 76.63 297.52 77.50 299.10C78.37 300.68 79.15 300.93 80.40 301.60C81.65 302.27 83.40 302.77 85.00 303.10C86.60 303.43 89.17 303.52 90.00 303.60" fill="none" stroke="#333" stroke-width="0.9" stroke-linejoin="round"/>
<line x1="64.20" y1="285.30" x2="107.20" y2="285.30" stroke="#888" stroke-width="0.9" />
<line x1="107.20" y1="285.30" x2="107.20" y2="304.10" stroke="#aaa" stroke-width="0.7" />
<line x1="64.20" y1="285.30" x2="64.20" y2="304.50" stroke="#222" stroke-width="0.75" />
<line x1="64.20" y1="304.10" x2="107.20" y2="304.10" stroke="#111" stroke-width="0.8" />
<line x1="64.20" y1="304.10" x2="64.20" y2="305.30" stroke="#555" stroke-width="0.5" />
<rect x="63.30" y="305.90" width="1.80" height="0.90" fill="#999" stroke="none" stroke-width="0" />
<line x1="74.95" y1="304.10" x2="74.95" y2="305.30" stroke="#555" stroke-width="0.5" />
<rect x="74.05" y="305.90" width="1.80" height="0.90" fill="#999" stroke="none" stroke-width="0" />
<line x1="85.70" y1="304.10" x2="85.70" y2="305.30" stroke="#555" stroke-width="0.5" />
<rect x="84.80" y="305.90" width="1.80" height="0.90" fill="#999" stroke="none" stroke-width="0" />
<line x1="96.45" y1="304.10" x2="96.45" y2="305.30" stroke="#555" stroke-width="0.5" />
<rect x="95.55" y="305.90" width="1.80" height="0.90" fill="#999" stroke="none" stroke-width="0" />
<line x1="107.20" y1="304.10" x2="107.20" y2="305.30" stroke="#555" stroke-width="0.5" />
<rect x="106.30" y="305.90" width="1.80" height="0.90" fill="#999" stroke="none" stroke-width="0" />
<rect x="81.20" y="307.50" width="9.00" height="1.00" fill="#aaa" stroke="none" stroke-width="0" />
<line x1="63.00" y1="304.10" x2="64.20" y2="304.10" stroke="#666" stroke-width="0.5" />
<rect x="61.60" y="301.70" width="0.90" height="1.40" fill="#888" stroke="none" stroke-width="0" />
<line x1="63.00" y1="299.40" x2="64.20" y2="299.40" stroke="#666" stroke-width="0.5" />
<rect x="61.60" y="297.00" width="0.90" height="1.40" fill="#888" stroke="none" stroke-width="0" />
<line x1="63.00" y1="294.70" x2="64.20" y2="294.70" stroke="#666" stroke-width="0.5" />
<rect x="61.60" y="292.30" width="0.90" height="1.40" fill="#888" stroke="none" stroke-width="0" />
<line x1="63.00" y1="290.00" x2="64.20" y2="290.00" stroke="#666" stroke-width="0.5" />
<rect x="61.60" y="287.60" width="0.90" height="1.40" fill="#888" stroke="none" stroke-width="0" />
<line x1="63.00" y1="285.30" x2="64.20" y2="285.30" stroke="#666" stroke-width="0.5" />
<rect x="59.60" y="291.20" width="1.00" height="7.00" fill="#aaa" stroke="none" stroke-width="0" />
<text x="87.10" y="284.80" font-family="Liberation Sans, sans-serif" font-size="5.6" font-weight="bold" text-anchor="start" fill="#000" stroke="#000" stroke-width="0.12" stroke-linejoin="round" textLength="17.70" lengthAdjust="spacingAndGlyphs" >(329.8)</text>
<path d="M95.40 337.70L95.40 337.70C95.88 337.37 97.33 336.70 98.30 335.70C99.27 334.70 100.33 332.87 101.20 331.70C102.07 330.53 102.73 329.53 103.50 328.70C104.27 327.87 105.27 327.87 105.80 326.70C106.33 325.53 106.55 322.53 106.70 321.70L106.70 337.70Z" fill="#000" stroke="none" stroke-width="1" />
<path d="M65.40 336.70C65.78 336.53 66.93 336.53 67.70 335.70C68.47 334.87 69.23 333.70 70.00 331.70C70.77 329.70 71.63 325.70 72.30 323.70C72.97 321.70 73.42 319.53 74.00 319.70C74.58 319.87 75.12 322.53 75.80 324.70C76.48 326.87 77.15 330.87 78.10 332.70C79.05 334.53 80.15 335.03 81.50 335.70C82.85 336.37 84.45 336.45 86.20 336.70C87.95 336.95 91.03 337.12 92.00 337.20" fill="none" stroke="#333" stroke-width="0.9" stroke-linejoin="round"/>
<line x1="107.20" y1="318.70" x2="107.20" y2="337.70" stroke="#aaa" stroke-width="0.7" />
<line x1="64.20" y1="318.70" x2="64.20" y2="338.10" stroke="#222" stroke-width="0.75" />
<line x1="64.20" y1="337.70" x2="107.20" y2="337.70" stroke="#111" stroke-width="0.8" />
<line x1="64.20" y1="337.70" x2="64.20" y2="338.90" stroke="#555" stroke-width="0.5" />
<rect x="63.30" y="339.50" width="1.80" height="0.90" fill="#999" stroke="none" stroke-width="0" />
<line x1="74.95" y1="337.70" x2="74.95" y2="338.90" stroke="#555" stroke-width="0.5" />
<rect x="74.05" y="339.50" width="1.80" height="0.90" fill="#999" stroke="none" stroke-width="0" />
<line x1="85.70" y1="337.70" x2="85.70" y2="338.90" stroke="#555" stroke-width="0.5" />
<rect x="84.80" y="339.50" width="1.80" height="0.90" fill="#999" stroke="none" stroke-width="0" />
<line x1="96.45" y1="337.70" x2="96.45" y2="338.90" stroke="#555" stroke-width="0.5" />
<rect x="95.55" y="339.50" width="1.80" height="0.90" fill="#999" stroke="none" stroke-width="0" />
<line x1="107.20" y1="337.70" x2="107.20" y2="338.90" stroke="#555" stroke-width="0.5" />
<rect x="106.30" y="339.50" width="1.80" height="0.90" fill="#999" stroke="none" stroke-width="0" />
<rect x="81.20" y="341.10" width="9.00" height="1.00" fill="#aaa" stroke="none" stroke-width="0" />
<line x1="63.00" y1="337.70" x2="64.20" y2="337.70" stroke="#666" stroke-width="0.5" />
<rect x="61.60" y="335.30" width="0.90" height="1.40" fill="#888" stroke="none" stroke-width="0" />
<line x1="63.00" y1="332.95" x2="64.20" y2="332.95" stroke="#666" stroke-width="0.5" />
<rect x="61.60" y="330.55" width="0.90" height="1.40" fill="#888" stroke="none" stroke-width="0" />
<line x1="63.00" y1="328.20" x2="64.20" y2="328.20" stroke="#666" stroke-width="0.5" />
<rect x="61.60" y="325.80" width="0.90" height="1.40" fill="#888" stroke="none" stroke-width="0" />
<line x1="63.00" y1="323.45" x2="64.20" y2="323.45" stroke="#666" stroke-width="0.5" />
<rect x="61.60" y="321.05" width="0.90" height="1.40" fill="#888" stroke="none" stroke-width="0" />
<line x1="63.00" y1="318.70" x2="64.20" y2="318.70" stroke="#666" stroke-width="0.5" />
<rect x="59.60" y="324.70" width="1.00" height="7.00" fill="#aaa" stroke="none" stroke-width="0" />
<text x="88.50" y="317.50" font-family="Liberation Sans, sans-serif" font-size="5.6" font-weight="bold" text-anchor="start" fill="#000" stroke="#000" stroke-width="0.12" stroke-linejoin="round" textLength="17.80" lengthAdjust="spacingAndGlyphs" >(283.2)</text>
<path d="M70.00 369.90L70.00 369.40C70.77 369.23 73.25 368.73 74.60 368.40C75.95 368.07 76.95 367.90 78.10 367.40C79.25 366.90 80.63 365.73 81.50 365.40C82.37 365.07 82.62 365.15 83.30 365.40C83.98 365.65 84.73 366.57 85.60 366.90C86.47 367.23 87.45 367.32 88.50 367.40C89.55 367.48 90.75 367.32 91.90 367.40C93.05 367.48 94.25 367.98 95.40 367.90C96.55 367.82 97.65 367.23 98.80 366.90C99.95 366.57 101.33 366.40 102.30 365.90C103.27 365.40 103.93 364.90 104.60 363.90C105.27 362.90 105.95 361.73 106.30 359.90C106.65 358.07 106.63 354.07 106.70 352.90L106.70 369.90Z" fill="#000" stroke="none" stroke-width="1" />
<path d="M65.40 368.90C65.97 368.57 67.75 368.40 68.80 366.90C69.85 365.40 70.83 361.90 71.70 359.90C72.57 357.90 73.42 356.23 74.00 354.90C74.58 353.57 74.72 351.23 75.20 351.90C75.68 352.57 76.32 357.15 76.90 358.90C77.48 360.65 78.02 361.73 78.70 362.40C79.38 363.07 80.33 362.57 81.00 362.90C81.67 363.23 82.13 363.73 82.70 364.40C83.27 365.07 83.52 366.40 84.40 366.90C85.28 367.40 87.40 367.32 88.00 367.40" fill="none" stroke="#333" stroke-width="0.9" stroke-linejoin="round"/>
<line x1="64.20" y1="351.20" x2="107.20" y2="351.20" stroke="#888" stroke-width="0.9" />
<line x1="107.20" y1="351.20" x2="107.20" y2="369.90" stroke="#aaa" stroke-width="0.7" />
<line x1="64.20" y1="351.20" x2="64.20" y2="370.30" stroke="#222" stroke-width="0.75" />
<line x1="64.20" y1="369.90" x2="107.20" y2="369.90" stroke="#111" stroke-width="0.8" />
<line x1="64.20" y1="369.90" x2="64.20" y2="371.10" stroke="#555" stroke-width="0.5" />
<rect x="63.30" y="371.70" width="1.80" height="0.90" fill="#999" stroke="none" stroke-width="0" />
<line x1="74.95" y1="369.90" x2="74.95" y2="371.10" stroke="#555" stroke-width="0.5" />
<rect x="74.05" y="371.70" width="1.80" height="0.90" fill="#999" stroke="none" stroke-width="0" />
<line x1="85.70" y1="369.90" x2="85.70" y2="371.10" stroke="#555" stroke-width="0.5" />
<rect x="84.80" y="371.70" width="1.80" height="0.90" fill="#999" stroke="none" stroke-width="0" />
<line x1="96.45" y1="369.90" x2="96.45" y2="371.10" stroke="#555" stroke-width="0.5" />
<rect x="95.55" y="371.70" width="1.80" height="0.90" fill="#999" stroke="none" stroke-width="0" />
<line x1="107.20" y1="369.90" x2="107.20" y2="371.10" stroke="#555" stroke-width="0.5" />
<rect x="106.30" y="371.70" width="1.80" height="0.90" fill="#999" stroke="none" stroke-width="0" />
<rect x="81.20" y="373.30" width="9.00" height="1.00" fill="#aaa" stroke="none" stroke-width="0" />
<line x1="63.00" y1="369.90" x2="64.20" y2="369.90" stroke="#666" stroke-width="0.5" />
<rect x="61.60" y="367.50" width="0.90" height="1.40" fill="#888" stroke="none" stroke-width="0" />
<line x1="63.00" y1="365.22" x2="64.20" y2="365.22" stroke="#666" stroke-width="0.5" />
<rect x="61.60" y="362.82" width="0.90" height="1.40" fill="#888" stroke="none" stroke-width="0" />
<line x1="63.00" y1="360.55" x2="64.20" y2="360.55" stroke="#666" stroke-width="0.5" />
<rect x="61.60" y="358.15" width="0.90" height="1.40" fill="#888" stroke="none" stroke-width="0" />
<line x1="63.00" y1="355.88" x2="64.20" y2="355.88" stroke="#666" stroke-width="0.5" />
<rect x="61.60" y="353.48" width="0.90" height="1.40" fill="#888" stroke="none" stroke-width="0" />
<line x1="63.00" y1="351.20" x2="64.20" y2="351.20" stroke="#666" stroke-width="0.5" />
<rect x="59.60" y="357.05" width="1.00" height="7.00" fill="#aaa" stroke="none" stroke-width="0" />
<text x="90.20" y="350.70" font-family="Liberation Sans, sans-serif" font-size="5.6" font-weight="bold" text-anchor="start" fill="#000" stroke="#000" stroke-width="0.12" stroke-linejoin="round" textLength="14.40" lengthAdjust="spacingAndGlyphs" >(48.1)</text>
<path d="M135.10 238.80L135.10 238.30C135.67 238.05 137.35 237.38 138.50 236.80C139.65 236.22 141.03 235.63 142.00 234.80C142.97 233.97 143.53 232.97 144.30 231.80C145.07 230.63 145.83 229.05 146.60 227.80C147.37 226.55 148.13 224.97 148.90 224.30C149.67 223.63 150.52 223.38 151.20 223.80C151.88 224.22 152.42 225.47 153.00 226.80C153.58 228.13 154.13 230.13 154.70 231.80C155.27 233.47 155.82 235.68 156.40 236.80C156.98 237.92 157.90 238.22 158.20 238.50L158.20 238.80Z" fill="#000" stroke="none" stroke-width="1" />
<path d="M124.00 238.30C124.30 238.22 125.10 238.55 125.80 237.80C126.50 237.05 127.58 235.97 128.20 233.80C128.82 231.63 129.12 227.05 129.50 224.80C129.88 222.55 130.15 219.97 130.50 220.30C130.85 220.63 131.22 224.38 131.60 226.80C131.98 229.22 132.32 233.05 132.80 234.80C133.28 236.55 133.83 236.80 134.50 237.30C135.17 237.80 136.42 237.72 136.80 237.80" fill="none" stroke="#333" stroke-width="0.9" stroke-linejoin="round"/>
<line x1="119.30" y1="220.10" x2="161.60" y2="220.10" stroke="#888" stroke-width="0.9" />
<line x1="119.30" y1="220.10" x2="119.30" y2="239.20" stroke="#222" stroke-width="0.75" />
<line x1="119.30" y1="238.80" x2="161.60" y2="238.80" stroke="#111" stroke-width="0.8" />
<line x1="119.30" y1="238.80" x2="119.30" y2="240.00" stroke="#555" stroke-width="0.5" />
<rect x="118.40" y="240.60" width="1.80" height="0.90" fill="#999" stroke="none" stroke-width="0" />
<line x1="129.88" y1="238.80" x2="129.88" y2="240.00" stroke="#555" stroke-width="0.5" />
<rect x="128.97" y="240.60" width="1.80" height="0.90" fill="#999" stroke="none" stroke-width="0" />
<line x1="140.45" y1="238.80" x2="140.45" y2="240.00" stroke="#555" stroke-width="0.5" />
<rect x="139.55" y="240.60" width="1.80" height="0.90" fill="#999" stroke="none" stroke-width="0" />
<line x1="151.03" y1="238.80" x2="151.03" y2="240.00" stroke="#555" stroke-width="0.5" />
<rect x="150.12" y="240.60" width="1.80" height="0.90" fill="#999" stroke="none" stroke-width="0" />
<line x1="161.60" y1="238.80" x2="161.60" y2="240.00" stroke="#555" stroke-width="0.5" />
<rect x="160.70" y="240.60" width="1.80" height="0.90" fill="#999" stroke="none" stroke-width="0" />
<rect x="135.95" y="242.20" width="9.00" height="1.00" fill="#aaa" stroke="none" stroke-width="0" />
<line x1="118.10" y1="238.80" x2="119.30" y2="238.80" stroke="#666" stroke-width="0.5" />
<rect x="116.70" y="236.40" width="0.90" height="1.40" fill="#888" stroke="none" stroke-width="0" />
<line x1="118.10" y1="234.12" x2="119.30" y2="234.12" stroke="#666" stroke-width="0.5" />
<rect x="116.70" y="231.72" width="0.90" height="1.40" fill="#888" stroke="none" stroke-width="0" />
<line x1="118.10" y1="229.45" x2="119.30" y2="229.45" stroke="#666" stroke-width="0.5" />
<rect x="116.70" y="227.05" width="0.90" height="1.40" fill="#888" stroke="none" stroke-width="0" />
<line x1="118.10" y1="224.78" x2="119.30" y2="224.78" stroke="#666" stroke-width="0.5" />
<rect x="116.70" y="222.38" width="0.90" height="1.40" fill="#888" stroke="none" stroke-width="0" />
<line x1="118.10" y1="220.10" x2="119.30" y2="220.10" stroke="#666" stroke-width="0.5" />
<rect x="114.70" y="225.95" width="1.00" height="7.00" fill="#aaa" stroke="none" stroke-width="0" />
<text x="146.00" y="219.50" font-family="Liberation Sans, sans-serif" font-size="5.6" font-weight="bold" text-anchor="start" fill="#000" stroke="#000" stroke-width="0.12" stroke-linejoin="round" textLength="13.90" lengthAdjust="spacingAndGlyphs" >(44.9)</text>
<path d="M135.10 271.70L135.10 271.20C135.87 270.95 138.35 270.28 139.70 269.70C141.05 269.12 142.23 268.70 143.20 267.70C144.17 266.70 144.65 265.20 145.50 263.70C146.35 262.20 147.43 259.87 148.30 258.70C149.17 257.53 150.02 256.70 150.70 256.70C151.38 256.70 151.83 257.37 152.40 258.70C152.97 260.03 153.53 262.87 154.10 264.70C154.67 266.53 155.22 268.58 155.80 269.70C156.38 270.82 157.30 271.12 157.60 271.40L157.60 271.70Z" fill="#000" stroke="none" stroke-width="1" />
<path d="M123.00 270.70C123.28 270.53 124.13 270.87 124.70 269.70C125.27 268.53 125.82 266.45 126.40 263.70C126.98 260.95 127.72 254.53 128.20 253.20C128.68 251.87 128.83 253.62 129.30 255.70C129.77 257.78 130.42 263.45 131.00 265.70C131.58 267.95 131.93 268.37 132.80 269.20C133.67 270.03 135.63 270.45 136.20 270.70" fill="none" stroke="#333" stroke-width="0.9" stroke-linejoin="round"/>
<line x1="119.30" y1="253.00" x2="161.60" y2="253.00" stroke="#888" stroke-width="0.9" />
<line x1="119.30" y1="253.00" x2="119.30" y2="272.10" stroke="#222" stroke-width="0.75" />
<line x1="119.30" y1="271.70" x2="161.60" y2="271.70" stroke="#111" stroke-width="0.8" />
<line x1="119.30" y1="271.70" x2="119.30" y2="272.90" stroke="#555" stroke-width="0.5" />
<rect x="118.40" y="273.50" width="1.80" height="0.90" fill="#999" stroke="none" stroke-width="0" />
<line x1="129.88" y1="271.70" x2="129.88" y2="272.90" stroke="#555" stroke-width="0.5" />
<rect x="128.97" y="273.50" width="1.80" height="0.90" fill="#999" stroke="none" stroke-width="0" />
<line x1="140.45" y1="271.70" x2="140.45" y2="272.90" stroke="#555" stroke-width="0.5" />
<rect x="139.55" y="273.50" width="1.80" height="0.90" fill="#999" stroke="none" stroke-width="0" />
<line x1="151.03" y1="271.70" x2="151.03" y2="272.90" stroke="#555" stroke-width="0.5" />
<rect x="150.12" y="273.50" width="1.80" height="0.90" fill="#999" stroke="none" stroke-width="0" />
<line x1="161.60" y1="271.70" x2="161.60" y2="272.90" stroke="#555" stroke-width="0.5" />
<rect x="160.70" y="273.50" width="1.80" height="0.90" fill="#999" stroke="none" stroke-width="0" />
<rect x="135.95" y="275.10" width="9.00" height="1.00" fill="#aaa" stroke="none" stroke-width="0" />
<line x1="118.10" y1="271.70" x2="119.30" y2="271.70" stroke="#666" stroke-width="0.5" />
<rect x="116.70" y="269.30" width="0.90" height="1.40" fill="#888" stroke="none" stroke-width="0" />
<line x1="118.10" y1="267.02" x2="119.30" y2="267.02" stroke="#666" stroke-width="0.5" />
<rect x="116.70" y="264.62" width="0.90" height="1.40" fill="#888" stroke="none" stroke-width="0" />
<line x1="118.10" y1="262.35" x2="119.30" y2="262.35" stroke="#666" stroke-width="0.5" />
<rect x="116.70" y="259.95" width="0.90" height="1.40" fill="#888" stroke="none" stroke-width="0" />
<line x1="118.10" y1="257.68" x2="119.30" y2="257.68" stroke="#666" stroke-width="0.5" />
<rect x="116.70" y="255.28" width="0.90" height="1.40" fill="#888" stroke="none" stroke-width="0" />
<line x1="118.10" y1="253.00" x2="119.30" y2="253.00" stroke="#666" stroke-width="0.5" />
<rect x="114.70" y="258.85" width="1.00" height="7.00" fill="#aaa" stroke="none" stroke-width="0" />
<text x="144.90" y="252.30" font-family="Liberation Sans, sans-serif" font-size="5.6" font-weight="bold" text-anchor="start" fill="#000" stroke="#000" stroke-width="0.12" stroke-linejoin="round" textLength="14.60" lengthAdjust="spacingAndGlyphs" >(63.7)</text>
<path d="M135.10 303.80L135.10 303.50C135.87 303.30 138.35 302.92 139.70 302.30C141.05 301.68 142.15 301.05 143.20 299.80C144.25 298.55 145.05 296.47 146.00 294.80C146.95 293.13 148.03 290.80 148.90 289.80C149.77 288.80 150.52 288.30 151.20 288.80C151.88 289.30 152.42 291.30 153.00 292.80C153.58 294.30 154.13 296.22 154.70 297.80C155.27 299.38 155.82 301.30 156.40 302.30C156.98 303.30 157.90 303.55 158.20 303.80L158.20 303.80Z" fill="#000" stroke="none" stroke-width="1" />
<path d="M121.50 302.80C121.83 302.63 122.78 303.13 123.50 301.80C124.22 300.47 125.02 297.47 125.80 294.80C126.58 292.13 127.52 286.30 128.20 285.80C128.88 285.30 129.33 289.47 129.90 291.80C130.47 294.13 130.93 298.05 131.60 299.80C132.27 301.55 133.17 301.80 133.90 302.30C134.63 302.80 135.65 302.72 136.00 302.80" fill="none" stroke="#333" stroke-width="0.9" stroke-linejoin="round"/>
<line x1="119.30" y1="285.10" x2="161.60" y2="285.10" stroke="#888" stroke-width="0.9" />
<line x1="119.30" y1="285.10" x2="119.30" y2="304.20" stroke="#222" stroke-width="0.75" />
<line x1="119.30" y1="303.80" x2="161.60" y2="303.80" stroke="#111" stroke-width="0.8" />
<line x1="119.30" y1="303.80" x2="119.30" y2="305.00" stroke="#555" stroke-width="0.5" />
<rect x="118.40" y="305.60" width="1.80" height="0.90" fill="#999" stroke="none" stroke-width="0" />
<line x1="129.88" y1="303.80" x2="129.88" y2="305.00" stroke="#555" stroke-width="0.5" />
<rect x="128.97" y="305.60" width="1.80" height="0.90" fill="#999" stroke="none" stroke-width="0" />
<line x1="140.45" y1="303.80" x2="140.45" y2="305.00" stroke="#555" stroke-width="0.5" />
<rect x="139.55" y="305.60" width="1.80" height="0.90" fill="#999" stroke="none" stroke-width="0" />
<line x1="151.03" y1="303.80" x2="151.03" y2="305.00" stroke="#555" stroke-width="0.5" />
<rect x="150.12" y="305.60" width="1.80" height="0.90" fill="#999" stroke="none" stroke-width="0" />
<line x1="161.60" y1="303.80" x2="161.60" y2="305.00" stroke="#555" stroke-width="0.5" />
<rect x="160.70" y="305.60" width="1.80" height="0.90" fill="#999" stroke="none" stroke-width="0" />
<rect x="135.95" y="307.20" width="9.00" height="1.00" fill="#aaa" stroke="none" stroke-width="0" />
<line x1="118.10" y1="303.80" x2="119.30" y2="303.80" stroke="#666" stroke-width="0.5" />
<rect x="116.70" y="301.40" width="0.90" height="1.40" fill="#888" stroke="none" stroke-width="0" />
<line x1="118.10" y1="299.12" x2="119.30" y2="299.12" stroke="#666" stroke-width="0.5" />
<rect x="116.70" y="296.73" width="0.90" height="1.40" fill="#888" stroke="none" stroke-width="0" />
<line x1="118.10" y1="294.45" x2="119.30" y2="294.45" stroke="#666" stroke-width="0.5" />
<rect x="116.70" y="292.05" width="0.90" height="1.40" fill="#888" stroke="none" stroke-width="0" />
<line x1="118.10" y1="289.78" x2="119.30" y2="289.78" stroke="#666" stroke-width="0.5" />
<rect x="116.70" y="287.38" width="0.90" height="1.40" fill="#888" stroke="none" stroke-width="0" />
<line x1="118.10" y1="285.10" x2="119.30" y2="285.10" stroke="#666" stroke-width="0.5" />
<rect x="114.70" y="290.95" width="1.00" height="7.00" fill="#aaa" stroke="none" stroke-width="0" />
<text x="146.00" y="284.50" font-family="Liberation Sans, sans-serif" font-size="5.6" font-weight="bold" text-anchor="start" fill="#000" stroke="#000" stroke-width="0.12" stroke-linejoin="round" textLength="13.50" lengthAdjust="spacingAndGlyphs" >(80.2)</text>
<path d="M136.20 337.70L136.20 337.40C136.97 337.12 139.45 336.65 140.80 335.70C142.15 334.75 143.13 333.37 144.30 331.70C145.47 330.03 146.73 327.20 147.80 325.70C148.87 324.20 149.83 322.70 150.70 322.70C151.57 322.70 152.23 324.03 153.00 325.70C153.77 327.37 154.63 330.87 155.30 332.70C155.97 334.53 156.52 335.87 157.00 336.70C157.48 337.53 158.00 337.53 158.20 337.70L158.20 337.70Z" fill="#000" stroke="none" stroke-width="1" />
<path d="M123.50 336.70C123.88 336.53 125.02 337.03 125.80 335.70C126.58 334.37 127.42 331.37 128.20 328.70C128.98 326.03 129.83 319.87 130.50 319.70C131.17 319.53 131.63 325.20 132.20 327.70C132.77 330.20 133.23 333.20 133.90 334.70C134.57 336.20 135.82 336.37 136.20 336.70" fill="none" stroke="#333" stroke-width="0.9" stroke-linejoin="round"/>
<line x1="119.30" y1="319.80" x2="119.30" y2="338.10" stroke="#222" stroke-width="0.75" />
<line x1="119.30" y1="337.70" x2="161.60" y2="337.70" stroke="#111" stroke-width="0.8" />
<line x1="119.30" y1="337.70" x2="119.30" y2="338.90" stroke="#555" stroke-width="0.5" />
<rect x="118.40" y="339.50" width="1.80" height="0.90" fill="#999" stroke="none" stroke-width="0" />
<line x1="129.88" y1="337.70" x2="129.88" y2="338.90" stroke="#555" stroke-width="0.5" />
<rect x="128.97" y="339.50" width="1.80" height="0.90" fill="#999" stroke="none" stroke-width="0" />
<line x1="140.45" y1="337.70" x2="140.45" y2="338.90" stroke="#555" stroke-width="0.5" />
<rect x="139.55" y="339.50" width="1.80" height="0.90" fill="#999" stroke="none" stroke-width="0" />
<line x1="151.03" y1="337.70" x2="151.03" y2="338.90" stroke="#555" stroke-width="0.5" />
<rect x="150.12" y="339.50" width="1.80" height="0.90" fill="#999" stroke="none" stroke-width="0" />
<line x1="161.60" y1="337.70" x2="161.60" y2="338.90" stroke="#555" stroke-width="0.5" />
<rect x="160.70" y="339.50" width="1.80" height="0.90" fill="#999" stroke="none" stroke-width="0" />
<rect x="135.95" y="341.10" width="9.00" height="1.00" fill="#aaa" stroke="none" stroke-width="0" />
<line x1="118.10" y1="337.70" x2="119.30" y2="337.70" stroke="#666" stroke-width="0.5" />
<rect x="116.70" y="335.30" width="0.90" height="1.40" fill="#888" stroke="none" stroke-width="0" />
<line x1="118.10" y1="333.23" x2="119.30" y2="333.23" stroke="#666" stroke-width="0.5" />
<rect x="116.70" y="330.83" width="0.90" height="1.40" fill="#888" stroke="none" stroke-width="0" />
<line x1="118.10" y1="328.75" x2="119.30" y2="328.75" stroke="#666" stroke-width="0.5" />
<rect x="116.70" y="326.35" width="0.90" height="1.40" fill="#888" stroke="none" stroke-width="0" />
<line x1="118.10" y1="324.27" x2="119.30" y2="324.27" stroke="#666" stroke-width="0.5" />
<rect x="116.70" y="321.88" width="0.90" height="1.40" fill="#888" stroke="none" stroke-width="0" />
<line x1="118.10" y1="319.80" x2="119.30" y2="319.80" stroke="#666" stroke-width="0.5" />
<rect x="114.70" y="325.25" width="1.00" height="7.00" fill="#aaa" stroke="none" stroke-width="0" />
<text x="146.00" y="317.50" font-family="Liberation Sans, sans-serif" font-size="5.6" font-weight="bold" text-anchor="start" fill="#000" stroke="#000" stroke-width="0.12" stroke-linejoin="round" textLength="13.90" lengthAdjust="spacingAndGlyphs" >(49.8)</text>
<path d="M121.20 369.90L121.20 369.40C122.17 369.32 125.07 369.15 127.00 368.90C128.93 368.65 131.27 368.40 132.80 367.90C134.33 367.40 135.15 366.73 136.20 365.90C137.25 365.07 138.13 363.73 139.10 362.90C140.07 362.07 141.13 361.90 142.00 360.90C142.87 359.90 143.53 358.40 144.30 356.90C145.07 355.40 145.83 352.07 146.60 351.90C147.37 351.73 148.03 354.23 148.90 355.90C149.77 357.57 150.93 360.07 151.80 361.90C152.67 363.73 153.43 365.65 154.10 366.90C154.77 368.15 155.52 368.98 155.80 369.40L155.80 369.90Z" fill="#000" stroke="none" stroke-width="1" />
<path d="M125.00 368.90C125.33 368.73 126.28 369.07 127.00 367.90C127.72 366.73 128.53 364.57 129.30 361.90C130.07 359.23 130.93 352.57 131.60 351.90C132.27 351.23 132.72 355.90 133.30 357.90C133.88 359.90 134.52 362.40 135.10 363.90C135.68 365.40 136.03 366.15 136.80 366.90C137.57 367.65 139.22 368.15 139.70 368.40" fill="none" stroke="#333" stroke-width="0.9" stroke-linejoin="round"/>
<line x1="119.30" y1="351.20" x2="161.60" y2="351.20" stroke="#888" stroke-width="0.9" />
<line x1="119.30" y1="351.20" x2="119.30" y2="370.30" stroke="#222" stroke-width="0.75" />
<line x1="119.30" y1="369.90" x2="161.60" y2="369.90" stroke="#111" stroke-width="0.8" />
<line x1="119.30" y1="369.90" x2="119.30" y2="371.10" stroke="#555" stroke-width="0.5" />
<rect x="118.40" y="371.70" width="1.80" height="0.90" fill="#999" stroke="none" stroke-width="0" />
<line x1="129.88" y1="369.90" x2="129.88" y2="371.10" stroke="#555" stroke-width="0.5" />
<rect x="128.97" y="371.70" width="1.80" height="0.90" fill="#999" stroke="none" stroke-width="0" />
<line x1="140.45" y1="369.90" x2="140.45" y2="371.10" stroke="#555" stroke-width="0.5" />
<rect x="139.55" y="371.70" width="1.80" height="0.90" fill="#999" stroke="none" stroke-width="0" />
<line x1="151.03" y1="369.90" x2="151.03" y2="371.10" stroke="#555" stroke-width="0.5" />
<rect x="150.12" y="371.70" width="1.80" height="0.90" fill="#999" stroke="none" stroke-width="0" />
<line x1="161.60" y1="369.90" x2="161.60" y2="371.10" stroke="#555" stroke-width="0.5" />
<rect x="160.70" y="371.70" width="1.80" height="0.90" fill="#999" stroke="none" stroke-width="0" />
<rect x="135.95" y="373.30" width="9.00" height="1.00" fill="#aaa" stroke="none" stroke-width="0" />
<line x1="118.10" y1="369.90" x2="119.30" y2="369.90" stroke="#666" stroke-width="0.5" />
<rect x="116.70" y="367.50" width="0.90" height="1.40" fill="#888" stroke="none" stroke-width="0" />
<line x1="118.10" y1="365.22" x2="119.30" y2="365.22" stroke="#666" stroke-width="0.5" />
<rect x="116.70" y="362.82" width="0.90" height="1.40" fill="#888" stroke="none" stroke-width="0" />
<line x1="118.10" y1="360.55" x2="119.30" y2="360.55" stroke="#666" stroke-width="0.5" />
<rect x="116.70" y="358.15" width="0.90" height="1.40" fill="#888" stroke="none" stroke-width="0" />
<line x1="118.10" y1="355.88" x2="119.30" y2="355.88" stroke="#666" stroke-width="0.5" />
<rect x="116.70" y="353.48" width="0.90" height="1.40" fill="#888" stroke="none" stroke-width="0" />
<line x1="118.10" y1="351.20" x2="119.30" y2="351.20" stroke="#666" stroke-width="0.5" />
<rect x="114.70" y="357.05" width="1.00" height="7.00" fill="#aaa" stroke="none" stroke-width="0" />
<text x="147.20" y="350.70" font-family="Liberation Sans, sans-serif" font-size="5.6" font-weight="bold" text-anchor="start" fill="#000" stroke="#000" stroke-width="0.12" stroke-linejoin="round" textLength="14.40" lengthAdjust="spacingAndGlyphs" >(13.8)</text>
<path d="M176.40 239.10L176.40 238.60C177.55 238.60 181.18 238.85 183.30 238.60C185.42 238.35 187.57 237.68 189.10 237.10C190.63 236.52 191.35 236.10 192.50 235.10C193.65 234.10 194.93 232.27 196.00 231.10C197.07 229.93 197.93 229.10 198.90 228.10C199.87 227.10 201.13 225.43 201.80 225.10C202.47 224.77 202.33 224.93 202.90 226.10C203.47 227.27 204.52 230.27 205.20 232.10C205.88 233.93 206.42 235.98 207.00 237.10C207.58 238.22 208.42 238.52 208.70 238.80L208.70 239.10Z" fill="#000" stroke="none" stroke-width="1" />
<path d="M181.50 238.10C181.67 237.85 182.15 237.82 182.50 236.60C182.85 235.38 183.22 232.88 183.60 230.80C183.98 228.72 184.43 225.75 184.80 224.10C185.17 222.45 185.47 220.90 185.80 220.90C186.13 220.90 186.48 222.45 186.80 224.10C187.12 225.75 187.37 228.72 187.70 230.80C188.03 232.88 188.42 235.38 188.80 236.60C189.18 237.82 189.80 237.85 190.00 238.10" fill="none" stroke="#333" stroke-width="0.9" stroke-linejoin="round"/>
<line x1="175.20" y1="220.10" x2="217.30" y2="220.10" stroke="#888" stroke-width="0.9" />
<line x1="175.20" y1="220.10" x2="175.20" y2="239.50" stroke="#222" stroke-width="0.75" />
<line x1="175.20" y1="239.10" x2="217.30" y2="239.10" stroke="#111" stroke-width="0.8" />
<line x1="175.20" y1="239.10" x2="175.20" y2="240.30" stroke="#555" stroke-width="0.5" />
<rect x="174.30" y="240.90" width="1.80" height="0.90" fill="#999" stroke="none" stroke-width="0" />
<line x1="185.72" y1="239.10" x2="185.72" y2="240.30" stroke="#555" stroke-width="0.5" />
<rect x="184.82" y="240.90" width="1.80" height="0.90" fill="#999" stroke="none" stroke-width="0" />
<line x1="196.25" y1="239.10" x2="196.25" y2="240.30" stroke="#555" stroke-width="0.5" />
<rect x="195.35" y="240.90" width="1.80" height="0.90" fill="#999" stroke="none" stroke-width="0" />
<line x1="206.78" y1="239.10" x2="206.78" y2="240.30" stroke="#555" stroke-width="0.5" />
<rect x="205.88" y="240.90" width="1.80" height="0.90" fill="#999" stroke="none" stroke-width="0" />
<line x1="217.30" y1="239.10" x2="217.30" y2="240.30" stroke="#555" stroke-width="0.5" />
<rect x="216.40" y="240.90" width="1.80" height="0.90" fill="#999" stroke="none" stroke-width="0" />
<rect x="191.75" y="242.50" width="9.00" height="1.00" fill="#aaa" stroke="none" stroke-width="0" />
<line x1="174.00" y1="239.10" x2="175.20" y2="239.10" stroke="#666" stroke-width="0.5" />
<rect x="172.60" y="236.70" width="0.90" height="1.40" fill="#888" stroke="none" stroke-width="0" />
<line x1="174.00" y1="234.35" x2="175.20" y2="234.35" stroke="#666" stroke-width="0.5" />
<rect x="172.60" y="231.95" width="0.90" height="1.40" fill="#888" stroke="none" stroke-width="0" />
<line x1="174.00" y1="229.60" x2="175.20" y2="229.60" stroke="#666" stroke-width="0.5" />
<rect x="172.60" y="227.20" width="0.90" height="1.40" fill="#888" stroke="none" stroke-width="0" />
<line x1="174.00" y1="224.85" x2="175.20" y2="224.85" stroke="#666" stroke-width="0.5" />
<rect x="172.60" y="222.45" width="0.90" height="1.40" fill="#888" stroke="none" stroke-width="0" />
<line x1="174.00" y1="220.10" x2="175.20" y2="220.10" stroke="#666" stroke-width="0.5" />
<rect x="170.60" y="226.10" width="1.00" height="7.00" fill="#aaa" stroke="none" stroke-width="0" />
<text x="201.20" y="219.50" font-family="Liberation Sans, sans-serif" font-size="5.6" font-weight="bold" text-anchor="start" fill="#000" stroke="#000" stroke-width="0.12" stroke-linejoin="round" textLength="15.00" lengthAdjust="spacingAndGlyphs" >(15.0)</text>
<path d="M176.40 271.50L176.40 271.00C177.55 270.92 181.38 270.83 183.30 270.50C185.22 270.17 186.55 269.67 187.90 269.00C189.25 268.33 190.25 267.58 191.40 266.50C192.55 265.42 193.75 263.67 194.80 262.50C195.85 261.33 196.73 260.17 197.70 259.50C198.67 258.83 199.73 258.33 200.60 258.50C201.47 258.67 202.13 259.33 202.90 260.50C203.67 261.67 204.52 264.00 205.20 265.50C205.88 267.00 206.42 268.55 207.00 269.50C207.58 270.45 208.42 270.92 208.70 271.20L208.70 271.50Z" fill="#000" stroke="none" stroke-width="1" />
<path d="M179.90 270.50C180.07 270.25 180.55 270.22 180.90 269.00C181.25 267.78 181.62 265.28 182.00 263.20C182.38 261.12 182.83 258.15 183.20 256.50C183.57 254.85 183.87 253.30 184.20 253.30C184.53 253.30 184.88 254.85 185.20 256.50C185.52 258.15 185.77 261.12 186.10 263.20C186.43 265.28 186.82 267.78 187.20 269.00C187.58 270.22 188.20 270.25 188.40 270.50" fill="none" stroke="#333" stroke-width="0.9" stroke-linejoin="round"/>
<line x1="175.20" y1="252.70" x2="217.30" y2="252.70" stroke="#888" stroke-width="0.9" />
<line x1="175.20" y1="252.70" x2="175.20" y2="271.90" stroke="#222" stroke-width="0.75" />
<line x1="175.20" y1="271.50" x2="217.30" y2="271.50" stroke="#111" stroke-width="0.8" />
<line x1="175.20" y1="271.50" x2="175.20" y2="272.70" stroke="#555" stroke-width="0.5" />
<rect x="174.30" y="273.30" width="1.80" height="0.90" fill="#999" stroke="none" stroke-width="0" />
<line x1="185.72" y1="271.50" x2="185.72" y2="272.70" stroke="#555" stroke-width="0.5" />
<rect x="184.82" y="273.30" width="1.80" height="0.90" fill="#999" stroke="none" stroke-width="0" />
<line x1="196.25" y1="271.50" x2="196.25" y2="272.70" stroke="#555" stroke-width="0.5" />
<rect x="195.35" y="273.30" width="1.80" height="0.90" fill="#999" stroke="none" stroke-width="0" />
<line x1="206.78" y1="271.50" x2="206.78" y2="272.70" stroke="#555" stroke-width="0.5" />
<rect x="205.88" y="273.30" width="1.80" height="0.90" fill="#999" stroke="none" stroke-width="0" />
<line x1="217.30" y1="271.50" x2="217.30" y2="272.70" stroke="#555" stroke-width="0.5" />
<rect x="216.40" y="273.30" width="1.80" height="0.90" fill="#999" stroke="none" stroke-width="0" />
<rect x="191.75" y="274.90" width="9.00" height="1.00" fill="#aaa" stroke="none" stroke-width="0" />
<line x1="174.00" y1="271.50" x2="175.20" y2="271.50" stroke="#666" stroke-width="0.5" />
<rect x="172.60" y="269.10" width="0.90" height="1.40" fill="#888" stroke="none" stroke-width="0" />
<line x1="174.00" y1="266.80" x2="175.20" y2="266.80" stroke="#666" stroke-width="0.5" />
<rect x="172.60" y="264.40" width="0.90" height="1.40" fill="#888" stroke="none" stroke-width="0" />
<line x1="174.00" y1="262.10" x2="175.20" y2="262.10" stroke="#666" stroke-width="0.5" />
<rect x="172.60" y="259.70" width="0.90" height="1.40" fill="#888" stroke="none" stroke-width="0" />
<line x1="174.00" y1="257.40" x2="175.20" y2="257.40" stroke="#666" stroke-width="0.5" />
<rect x="172.60" y="255.00" width="0.90" height="1.40" fill="#888" stroke="none" stroke-width="0" />
<line x1="174.00" y1="252.70" x2="175.20" y2="252.70" stroke="#666" stroke-width="0.5" />
<rect x="170.60" y="258.60" width="1.00" height="7.00" fill="#aaa" stroke="none" stroke-width="0" />
<text x="201.80" y="251.80" font-family="Liberation Sans, sans-serif" font-size="5.6" font-weight="bold" text-anchor="start" fill="#000" stroke="#000" stroke-width="0.12" stroke-linejoin="round" textLength="15.00" lengthAdjust="spacingAndGlyphs" >(17.2)</text>
<path d="M175.40 303.50L175.40 301.50C175.53 301.70 175.85 302.45 176.20 302.70C176.55 302.95 175.73 303.03 177.50 303.00C179.27 302.97 184.58 302.75 186.80 302.50C189.02 302.25 189.65 302.33 190.80 301.50C191.95 300.67 192.73 298.83 193.70 297.50C194.67 296.17 195.63 294.83 196.60 293.50C197.57 292.17 198.73 290.33 199.50 289.50C200.27 288.67 200.63 288.00 201.20 288.50C201.77 289.00 202.23 290.83 202.90 292.50C203.57 294.17 204.43 296.83 205.20 298.50C205.97 300.17 206.92 301.67 207.50 302.50C208.08 303.33 208.50 303.33 208.70 303.50L208.70 303.50Z" fill="#000" stroke="none" stroke-width="1" />
<path d="M179.00 302.50C179.17 302.25 179.65 302.22 180.00 301.00C180.35 299.78 180.72 297.28 181.10 295.20C181.48 293.12 181.93 290.15 182.30 288.50C182.67 286.85 182.97 285.30 183.30 285.30C183.63 285.30 183.98 286.85 184.30 288.50C184.62 290.15 184.87 293.12 185.20 295.20C185.53 297.28 185.92 299.78 186.30 301.00C186.68 302.22 187.30 302.25 187.50 302.50" fill="none" stroke="#333" stroke-width="0.9" stroke-linejoin="round"/>
<line x1="175.20" y1="285.10" x2="217.30" y2="285.10" stroke="#888" stroke-width="0.9" />
<line x1="175.20" y1="285.10" x2="175.20" y2="303.90" stroke="#222" stroke-width="0.75" />
<line x1="175.20" y1="303.50" x2="217.30" y2="303.50" stroke="#111" stroke-width="0.8" />
<line x1="175.20" y1="303.50" x2="175.20" y2="304.70" stroke="#555" stroke-width="0.5" />
<rect x="174.30" y="305.30" width="1.80" height="0.90" fill="#999" stroke="none" stroke-width="0" />
<line x1="185.72" y1="303.50" x2="185.72" y2="304.70" stroke="#555" stroke-width="0.5" />
<rect x="184.82" y="305.30" width="1.80" height="0.90" fill="#999" stroke="none" stroke-width="0" />
<line x1="196.25" y1="303.50" x2="196.25" y2="304.70" stroke="#555" stroke-width="0.5" />
<rect x="195.35" y="305.30" width="1.80" height="0.90" fill="#999" stroke="none" stroke-width="0" />
<line x1="206.78" y1="303.50" x2="206.78" y2="304.70" stroke="#555" stroke-width="0.5" />
<rect x="205.88" y="305.30" width="1.80" height="0.90" fill="#999" stroke="none" stroke-width="0" />
<line x1="217.30" y1="303.50" x2="217.30" y2="304.70" stroke="#555" stroke-width="0.5" />
<rect x="216.40" y="305.30" width="1.80" height="0.90" fill="#999" stroke="none" stroke-width="0" />
<rect x="191.75" y="306.90" width="9.00" height="1.00" fill="#aaa" stroke="none" stroke-width="0" />
<line x1="174.00" y1="303.50" x2="175.20" y2="303.50" stroke="#666" stroke-width="0.5" />
<rect x="172.60" y="301.10" width="0.90" height="1.40" fill="#888" stroke="none" stroke-width="0" />
<line x1="174.00" y1="298.90" x2="175.20" y2="298.90" stroke="#666" stroke-width="0.5" />
<rect x="172.60" y="296.50" width="0.90" height="1.40" fill="#888" stroke="none" stroke-width="0" />
<line x1="174.00" y1="294.30" x2="175.20" y2="294.30" stroke="#666" stroke-width="0.5" />
<rect x="172.60" y="291.90" width="0.90" height="1.40" fill="#888" stroke="none" stroke-width="0" />
<line x1="174.00" y1="289.70" x2="175.20" y2="289.70" stroke="#666" stroke-width="0.5" />
<rect x="172.60" y="287.30" width="0.90" height="1.40" fill="#888" stroke="none" stroke-width="0" />
<line x1="174.00" y1="285.10" x2="175.20" y2="285.10" stroke="#666" stroke-width="0.5" />
<rect x="170.60" y="290.80" width="1.00" height="7.00" fill="#aaa" stroke="none" stroke-width="0" />
<text x="202.90" y="284.50" font-family="Liberation Sans, sans-serif" font-size="5.6" font-weight="bold" text-anchor="start" fill="#000" stroke="#000" stroke-width="0.12" stroke-linejoin="round" textLength="14.80" lengthAdjust="spacingAndGlyphs" >(23.9)</text>
<path d="M177.50 337.70L177.50 337.20C179.05 337.12 184.48 337.12 186.80 336.70C189.12 336.28 190.15 335.70 191.40 334.70C192.65 333.70 193.33 331.87 194.30 330.70C195.27 329.53 196.25 328.70 197.20 327.70C198.15 326.70 199.23 325.28 200.00 324.70C200.77 324.12 201.12 323.70 201.80 324.20C202.48 324.70 203.33 326.28 204.10 327.70C204.87 329.12 205.73 331.20 206.40 332.70C207.07 334.20 207.62 335.87 208.10 336.70C208.58 337.53 209.10 337.53 209.30 337.70L209.30 337.70Z" fill="#000" stroke="none" stroke-width="1" />
<path d="M181.50 336.70C181.67 336.47 182.15 336.47 182.50 335.30C182.85 334.13 183.22 331.70 183.60 329.70C183.98 327.70 184.43 324.77 184.80 323.30C185.17 321.83 185.47 320.90 185.80 320.90C186.13 320.90 186.48 321.83 186.80 323.30C187.12 324.77 187.37 327.70 187.70 329.70C188.03 331.70 188.42 334.13 188.80 335.30C189.18 336.47 189.80 336.47 190.00 336.70" fill="none" stroke="#333" stroke-width="0.9" stroke-linejoin="round"/>
<line x1="175.20" y1="320.40" x2="175.20" y2="338.10" stroke="#222" stroke-width="0.75" />
<line x1="175.20" y1="337.70" x2="217.30" y2="337.70" stroke="#111" stroke-width="0.8" />
<line x1="175.20" y1="337.70" x2="175.20" y2="338.90" stroke="#555" stroke-width="0.5" />
<rect x="174.30" y="339.50" width="1.80" height="0.90" fill="#999" stroke="none" stroke-width="0" />
<line x1="185.72" y1="337.70" x2="185.72" y2="338.90" stroke="#555" stroke-width="0.5" />
<rect x="184.82" y="339.50" width="1.80" height="0.90" fill="#999" stroke="none" stroke-width="0" />
<line x1="196.25" y1="337.70" x2="196.25" y2="338.90" stroke="#555" stroke-width="0.5" />
<rect x="195.35" y="339.50" width="1.80" height="0.90" fill="#999" stroke="none" stroke-width="0" />
<line x1="206.78" y1="337.70" x2="206.78" y2="338.90" stroke="#555" stroke-width="0.5" />
<rect x="205.88" y="339.50" width="1.80" height="0.90" fill="#999" stroke="none" stroke-width="0" />
<line x1="217.30" y1="337.70" x2="217.30" y2="338.90" stroke="#555" stroke-width="0.5" />
<rect x="216.40" y="339.50" width="1.80" height="0.90" fill="#999" stroke="none" stroke-width="0" />
<rect x="191.75" y="341.10" width="9.00" height="1.00" fill="#aaa" stroke="none" stroke-width="0" />
<line x1="174.00" y1="337.70" x2="175.20" y2="337.70" stroke="#666" stroke-width="0.5" />
<rect x="172.60" y="335.30" width="0.90" height="1.40" fill="#888" stroke="none" stroke-width="0" />
<line x1="174.00" y1="333.38" x2="175.20" y2="333.38" stroke="#666" stroke-width="0.5" />
<rect x="172.60" y="330.98" width="0.90" height="1.40" fill="#888" stroke="none" stroke-width="0" />
<line x1="174.00" y1="329.05" x2="175.20" y2="329.05" stroke="#666" stroke-width="0.5" />
<rect x="172.60" y="326.65" width="0.90" height="1.40" fill="#888" stroke="none" stroke-width="0" />
<line x1="174.00" y1="324.72" x2="175.20" y2="324.72" stroke="#666" stroke-width="0.5" />
<rect x="172.60" y="322.32" width="0.90" height="1.40" fill="#888" stroke="none" stroke-width="0" />
<line x1="174.00" y1="320.40" x2="175.20" y2="320.40" stroke="#666" stroke-width="0.5" />
<rect x="170.60" y="325.55" width="1.00" height="7.00" fill="#aaa" stroke="none" stroke-width="0" />
<text x="202.90" y="317.50" font-family="Liberation Sans, sans-serif" font-size="5.6" font-weight="bold" text-anchor="start" fill="#000" stroke="#000" stroke-width="0.12" stroke-linejoin="round" textLength="13.90" lengthAdjust="spacingAndGlyphs" >(18.2)</text>
<path d="M176.40 370.30L176.40 369.80C177.17 369.72 179.75 369.72 181.00 369.30C182.25 368.88 183.03 368.30 183.90 367.30C184.77 366.30 185.53 364.30 186.20 363.30C186.87 362.30 187.23 361.55 187.90 361.30C188.57 361.05 189.43 361.55 190.20 361.80C190.97 362.05 191.73 362.47 192.50 362.80C193.27 363.13 194.02 363.38 194.80 363.80C195.58 364.22 196.52 365.22 197.20 365.30C197.88 365.38 198.33 365.13 198.90 364.30C199.47 363.47 199.93 361.80 200.60 360.30C201.27 358.80 202.22 355.97 202.90 355.30C203.58 354.63 204.12 355.30 204.70 356.30C205.28 357.30 205.83 359.47 206.40 361.30C206.97 363.13 207.53 365.88 208.10 367.30C208.67 368.72 209.52 369.38 209.80 369.80L209.80 370.30Z" fill="#000" stroke="none" stroke-width="1" />
<path d="M179.50 369.30C179.83 369.05 180.83 369.02 181.50 367.80C182.17 366.58 182.83 364.08 183.50 362.00C184.17 359.92 184.95 356.92 185.50 355.30C186.05 353.68 186.35 352.30 186.80 352.30C187.25 352.30 187.75 353.97 188.20 355.30C188.65 356.63 189.12 359.13 189.50 360.30C189.88 361.47 190.17 361.80 190.50 362.30C190.83 362.80 191.33 363.13 191.50 363.30" fill="none" stroke="#333" stroke-width="0.9" stroke-linejoin="round"/>
<line x1="175.20" y1="351.00" x2="217.30" y2="351.00" stroke="#888" stroke-width="0.9" />
<line x1="175.20" y1="351.00" x2="175.20" y2="370.70" stroke="#222" stroke-width="0.75" />
<line x1="175.20" y1="370.30" x2="217.30" y2="370.30" stroke="#111" stroke-width="0.8" />
<line x1="175.20" y1="370.30" x2="175.20" y2="371.50" stroke="#555" stroke-width="0.5" />
<rect x="174.30" y="372.10" width="1.80" height="0.90" fill="#999" stroke="none" stroke-width="0" />
<line x1="185.72" y1="370.30" x2="185.72" y2="371.50" stroke="#555" stroke-width="0.5" />
<rect x="184.82" y="372.10" width="1.80" height="0.90" fill="#999" stroke="none" stroke-width="0" />
<line x1="196.25" y1="370.30" x2="196.25" y2="371.50" stroke="#555" stroke-width="0.5" />
<rect x="195.35" y="372.10" width="1.80" height="0.90" fill="#999" stroke="none" stroke-width="0" />
<line x1="206.78" y1="370.30" x2="206.78" y2="371.50" stroke="#555" stroke-width="0.5" />
<rect x="205.88" y="372.10" width="1.80" height="0.90" fill="#999" stroke="none" stroke-width="0" />
<line x1="217.30" y1="370.30" x2="217.30" y2="371.50" stroke="#555" stroke-width="0.5" />
<rect x="216.40" y="372.10" width="1.80" height="0.90" fill="#999" stroke="none" stroke-width="0" />
<rect x="191.75" y="373.70" width="9.00" height="1.00" fill="#aaa" stroke="none" stroke-width="0" />
<line x1="174.00" y1="370.30" x2="175.20" y2="370.30" stroke="#666" stroke-width="0.5" />
<rect x="172.60" y="367.90" width="0.90" height="1.40" fill="#888" stroke="none" stroke-width="0" />
<line x1="174.00" y1="365.48" x2="175.20" y2="365.48" stroke="#666" stroke-width="0.5" />
<rect x="172.60" y="363.08" width="0.90" height="1.40" fill="#888" stroke="none" stroke-width="0" />
<line x1="174.00" y1="360.65" x2="175.20" y2="360.65" stroke="#666" stroke-width="0.5" />
<rect x="172.60" y="358.25" width="0.90" height="1.40" fill="#888" stroke="none" stroke-width="0" />
<line x1="174.00" y1="355.82" x2="175.20" y2="355.82" stroke="#666" stroke-width="0.5" />
<rect x="172.60" y="353.43" width="0.90" height="1.40" fill="#888" stroke="none" stroke-width="0" />
<line x1="174.00" y1="351.00" x2="175.20" y2="351.00" stroke="#666" stroke-width="0.5" />
<rect x="170.60" y="357.15" width="1.00" height="7.00" fill="#aaa" stroke="none" stroke-width="0" />
<text x="205.80" y="350.30" font-family="Liberation Sans, sans-serif" font-size="5.6" font-weight="bold" text-anchor="start" fill="#000" stroke="#000" stroke-width="0.12" stroke-linejoin="round" textLength="11.00" lengthAdjust="spacingAndGlyphs" >(7.4)</text>
<path d="M230.90 239.10L230.90 238.60C231.28 238.35 232.43 237.85 233.20 237.10C233.97 236.35 234.73 235.10 235.50 234.10C236.27 233.10 237.12 232.10 237.80 231.10C238.48 230.10 239.02 228.27 239.60 228.10C240.18 227.93 240.73 229.43 241.30 230.10C241.87 230.77 242.42 231.35 243.00 232.10C243.58 232.85 244.12 234.10 244.80 234.60C245.48 235.10 246.33 234.93 247.10 235.10C247.87 235.27 248.63 235.43 249.40 235.60C250.17 235.77 250.93 236.02 251.70 236.10C252.47 236.18 253.23 236.27 254.00 236.10C254.77 235.93 255.53 235.27 256.30 235.10C257.07 234.93 257.83 235.02 258.60 235.10C259.37 235.18 260.03 235.60 260.90 235.60C261.77 235.60 263.03 235.02 263.80 235.10C264.57 235.18 264.83 235.77 265.50 236.10C266.17 236.43 267.02 236.77 267.80 237.10C268.58 237.43 269.42 237.85 270.20 238.10C270.98 238.35 272.12 238.52 272.50 238.60L272.50 239.10Z" fill="#000" stroke="none" stroke-width="1" />
<path d="M236.50 233.10C236.72 232.60 237.28 231.43 237.80 230.10C238.32 228.77 239.12 226.27 239.60 225.10C240.08 223.93 240.32 222.77 240.70 223.10C241.08 223.43 241.42 225.77 241.90 227.10C242.38 228.43 243.08 229.93 243.60 231.10C244.12 232.27 244.77 233.60 245.00 234.10" fill="none" stroke="#333" stroke-width="0.9" stroke-linejoin="round"/>
<line x1="230.70" y1="220.30" x2="272.50" y2="220.30" stroke="#888" stroke-width="0.9" />
<line x1="230.70" y1="220.30" x2="230.70" y2="239.50" stroke="#222" stroke-width="0.75" />
<line x1="230.70" y1="239.10" x2="272.50" y2="239.10" stroke="#111" stroke-width="0.8" />
<line x1="230.70" y1="239.10" x2="230.70" y2="240.30" stroke="#555" stroke-width="0.5" />
<rect x="229.80" y="240.90" width="1.80" height="0.90" fill="#999" stroke="none" stroke-width="0" />
<line x1="241.15" y1="239.10" x2="241.15" y2="240.30" stroke="#555" stroke-width="0.5" />
<rect x="240.25" y="240.90" width="1.80" height="0.90" fill="#999" stroke="none" stroke-width="0" />
<line x1="251.60" y1="239.10" x2="251.60" y2="240.30" stroke="#555" stroke-width="0.5" />
<rect x="250.70" y="240.90" width="1.80" height="0.90" fill="#999" stroke="none" stroke-width="0" />
<line x1="262.05" y1="239.10" x2="262.05" y2="240.30" stroke="#555" stroke-width="0.5" />
<rect x="261.15" y="240.90" width="1.80" height="0.90" fill="#999" stroke="none" stroke-width="0" />
<line x1="272.50" y1="239.10" x2="272.50" y2="240.30" stroke="#555" stroke-width="0.5" />
<rect x="271.60" y="240.90" width="1.80" height="0.90" fill="#999" stroke="none" stroke-width="0" />
<rect x="247.10" y="242.50" width="9.00" height="1.00" fill="#aaa" stroke="none" stroke-width="0" />
<line x1="229.50" y1="239.10" x2="230.70" y2="239.10" stroke="#666" stroke-width="0.5" />
<rect x="228.10" y="236.70" width="0.90" height="1.40" fill="#888" stroke="none" stroke-width="0" />
<line x1="229.50" y1="234.40" x2="230.70" y2="234.40" stroke="#666" stroke-width="0.5" />
<rect x="228.10" y="232.00" width="0.90" height="1.40" fill="#888" stroke="none" stroke-width="0" />
<line x1="229.50" y1="229.70" x2="230.70" y2="229.70" stroke="#666" stroke-width="0.5" />
<rect x="228.10" y="227.30" width="0.90" height="1.40" fill="#888" stroke="none" stroke-width="0" />
<line x1="229.50" y1="225.00" x2="230.70" y2="225.00" stroke="#666" stroke-width="0.5" />
<rect x="228.10" y="222.60" width="0.90" height="1.40" fill="#888" stroke="none" stroke-width="0" />
<line x1="229.50" y1="220.30" x2="230.70" y2="220.30" stroke="#666" stroke-width="0.5" />
<rect x="226.10" y="226.20" width="1.00" height="7.00" fill="#aaa" stroke="none" stroke-width="0" />
<text x="261.50" y="219.50" font-family="Liberation Sans, sans-serif" font-size="5.6" font-weight="bold" text-anchor="start" fill="#000" stroke="#000" stroke-width="0.12" stroke-linejoin="round" textLength="11.50" lengthAdjust="spacingAndGlyphs" >(3.7)</text>
<path d="M230.90 271.30L230.90 270.80C231.28 270.55 232.43 269.88 233.20 269.30C233.97 268.72 234.73 268.30 235.50 267.30C236.27 266.30 237.02 264.47 237.80 263.30C238.58 262.13 239.52 260.47 240.20 260.30C240.88 260.13 241.33 261.47 241.90 262.30C242.47 263.13 242.93 264.72 243.60 265.30C244.27 265.88 245.13 265.80 245.90 265.80C246.67 265.80 247.43 265.22 248.20 265.30C248.97 265.38 249.53 266.13 250.50 266.30C251.47 266.47 252.83 266.47 254.00 266.30C255.17 266.13 256.35 265.55 257.50 265.30C258.65 265.05 259.75 264.80 260.90 264.80C262.05 264.80 263.43 264.88 264.40 265.30C265.37 265.72 265.93 266.63 266.70 267.30C267.47 267.97 268.03 268.72 269.00 269.30C269.97 269.88 271.92 270.55 272.50 270.80L272.50 271.30Z" fill="#000" stroke="none" stroke-width="1" />
<path d="M236.50 266.30C236.68 265.80 237.18 264.97 237.60 263.30C238.02 261.63 238.62 257.97 239.00 256.30C239.38 254.63 239.55 253.13 239.90 253.30C240.25 253.47 240.67 255.63 241.10 257.30C241.53 258.97 242.08 261.97 242.50 263.30C242.92 264.63 243.42 264.97 243.60 265.30" fill="none" stroke="#333" stroke-width="0.9" stroke-linejoin="round"/>
<line x1="230.70" y1="252.30" x2="272.50" y2="252.30" stroke="#888" stroke-width="0.9" />
<line x1="230.70" y1="252.30" x2="230.70" y2="271.70" stroke="#222" stroke-width="0.75" />
<line x1="230.70" y1="271.30" x2="272.50" y2="271.30" stroke="#111" stroke-width="0.8" />
<line x1="230.70" y1="271.30" x2="230.70" y2="272.50" stroke="#555" stroke-width="0.5" />
<rect x="229.80" y="273.10" width="1.80" height="0.90" fill="#999" stroke="none" stroke-width="0" />
<line x1="241.15" y1="271.30" x2="241.15" y2="272.50" stroke="#555" stroke-width="0.5" />
<rect x="240.25" y="273.10" width="1.80" height="0.90" fill="#999" stroke="none" stroke-width="0" />
<line x1="251.60" y1="271.30" x2="251.60" y2="272.50" stroke="#555" stroke-width="0.5" />
<rect x="250.70" y="273.10" width="1.80" height="0.90" fill="#999" stroke="none" stroke-width="0" />
<line x1="262.05" y1="271.30" x2="262.05" y2="272.50" stroke="#555" stroke-width="0.5" />
<rect x="261.15" y="273.10" width="1.80" height="0.90" fill="#999" stroke="none" stroke-width="0" />
<line x1="272.50" y1="271.30" x2="272.50" y2="272.50" stroke="#555" stroke-width="0.5" />
<rect x="271.60" y="273.10" width="1.80" height="0.90" fill="#999" stroke="none" stroke-width="0" />
<rect x="247.10" y="274.70" width="9.00" height="1.00" fill="#aaa" stroke="none" stroke-width="0" />
<line x1="229.50" y1="271.30" x2="230.70" y2="271.30" stroke="#666" stroke-width="0.5" />
<rect x="228.10" y="268.90" width="0.90" height="1.40" fill="#888" stroke="none" stroke-width="0" />
<line x1="229.50" y1="266.55" x2="230.70" y2="266.55" stroke="#666" stroke-width="0.5" />
<rect x="228.10" y="264.15" width="0.90" height="1.40" fill="#888" stroke="none" stroke-width="0" />
<line x1="229.50" y1="261.80" x2="230.70" y2="261.80" stroke="#666" stroke-width="0.5" />
<rect x="228.10" y="259.40" width="0.90" height="1.40" fill="#888" stroke="none" stroke-width="0" />
<line x1="229.50" y1="257.05" x2="230.70" y2="257.05" stroke="#666" stroke-width="0.5" />
<rect x="228.10" y="254.65" width="0.90" height="1.40" fill="#888" stroke="none" stroke-width="0" />
<line x1="229.50" y1="252.30" x2="230.70" y2="252.30" stroke="#666" stroke-width="0.5" />
<rect x="226.10" y="258.30" width="1.00" height="7.00" fill="#aaa" stroke="none" stroke-width="0" />
<text x="261.20" y="251.50" font-family="Liberation Sans, sans-serif" font-size="5.6" font-weight="bold" text-anchor="start" fill="#000" stroke="#000" stroke-width="0.12" stroke-linejoin="round" textLength="11.80" lengthAdjust="spacingAndGlyphs" >(6.3)</text>
<path d="M230.90 303.80L230.90 303.30C231.28 302.88 232.43 301.72 233.20 300.80C233.97 299.88 234.73 298.97 235.50 297.80C236.27 296.63 237.12 294.80 237.80 293.80C238.48 292.80 239.02 291.80 239.60 291.80C240.18 291.80 240.63 292.80 241.30 293.80C241.97 294.80 242.83 296.97 243.60 297.80C244.37 298.63 244.93 298.55 245.90 298.80C246.87 299.05 248.25 299.05 249.40 299.30C250.55 299.55 251.65 300.30 252.80 300.30C253.95 300.30 255.13 299.30 256.30 299.30C257.47 299.30 258.65 300.05 259.80 300.30C260.95 300.55 262.05 300.55 263.20 300.80C264.35 301.05 265.53 301.47 266.70 301.80C267.87 302.13 269.23 302.52 270.20 302.80C271.17 303.08 272.12 303.38 272.50 303.50L272.50 303.80Z" fill="#000" stroke="none" stroke-width="1" />
<path d="M236.00 296.80C236.22 296.47 236.90 296.13 237.30 294.80C237.70 293.47 238.02 290.30 238.40 288.80C238.78 287.30 239.22 285.47 239.60 285.80C239.98 286.13 240.22 288.97 240.70 290.80C241.18 292.63 242.02 295.63 242.50 296.80C242.98 297.97 243.42 297.63 243.60 297.80" fill="none" stroke="#333" stroke-width="0.9" stroke-linejoin="round"/>
<line x1="230.70" y1="284.80" x2="272.50" y2="284.80" stroke="#888" stroke-width="0.9" />
<line x1="230.70" y1="284.80" x2="230.70" y2="304.20" stroke="#222" stroke-width="0.75" />
<line x1="230.70" y1="303.80" x2="272.50" y2="303.80" stroke="#111" stroke-width="0.8" />
<line x1="230.70" y1="303.80" x2="230.70" y2="305.00" stroke="#555" stroke-width="0.5" />
<rect x="229.80" y="305.60" width="1.80" height="0.90" fill="#999" stroke="none" stroke-width="0" />
<line x1="241.15" y1="303.80" x2="241.15" y2="305.00" stroke="#555" stroke-width="0.5" />
<rect x="240.25" y="305.60" width="1.80" height="0.90" fill="#999" stroke="none" stroke-width="0" />
<line x1="251.60" y1="303.80" x2="251.60" y2="305.00" stroke="#555" stroke-width="0.5" />
<rect x="250.70" y="305.60" width="1.80" height="0.90" fill="#999" stroke="none" stroke-width="0" />
<line x1="262.05" y1="303.80" x2="262.05" y2="305.00" stroke="#555" stroke-width="0.5" />
<rect x="261.15" y="305.60" width="1.80" height="0.90" fill="#999" stroke="none" stroke-width="0" />
<line x1="272.50" y1="303.80" x2="272.50" y2="305.00" stroke="#555" stroke-width="0.5" />
<rect x="271.60" y="305.60" width="1.80" height="0.90" fill="#999" stroke="none" stroke-width="0" />
<rect x="247.10" y="307.20" width="9.00" height="1.00" fill="#aaa" stroke="none" stroke-width="0" />
<line x1="229.50" y1="303.80" x2="230.70" y2="303.80" stroke="#666" stroke-width="0.5" />
<rect x="228.10" y="301.40" width="0.90" height="1.40" fill="#888" stroke="none" stroke-width="0" />
<line x1="229.50" y1="299.05" x2="230.70" y2="299.05" stroke="#666" stroke-width="0.5" />
<rect x="228.10" y="296.65" width="0.90" height="1.40" fill="#888" stroke="none" stroke-width="0" />
<line x1="229.50" y1="294.30" x2="230.70" y2="294.30" stroke="#666" stroke-width="0.5" />
<rect x="228.10" y="291.90" width="0.90" height="1.40" fill="#888" stroke="none" stroke-width="0" />
<line x1="229.50" y1="289.55" x2="230.70" y2="289.55" stroke="#666" stroke-width="0.5" />
<rect x="228.10" y="287.15" width="0.90" height="1.40" fill="#888" stroke="none" stroke-width="0" />
<line x1="229.50" y1="284.80" x2="230.70" y2="284.80" stroke="#666" stroke-width="0.5" />
<rect x="226.10" y="290.80" width="1.00" height="7.00" fill="#aaa" stroke="none" stroke-width="0" />
<text x="260.70" y="284.50" font-family="Liberation Sans, sans-serif" font-size="5.6" font-weight="bold" text-anchor="start" fill="#000" stroke="#000" stroke-width="0.12" stroke-linejoin="round" textLength="11.20" lengthAdjust="spacingAndGlyphs" >(3.8)</text>
<path d="M230.90 337.70L230.90 337.40C231.48 337.12 233.43 336.48 234.40 335.70C235.37 334.92 235.93 333.87 236.70 332.70C237.47 331.53 238.33 329.70 239.00 328.70C239.67 327.70 240.12 326.37 240.70 326.70C241.28 327.03 241.82 329.53 242.50 330.70C243.18 331.87 244.03 333.12 244.80 333.70C245.57 334.28 246.15 334.03 247.10 334.20C248.05 334.37 249.35 334.62 250.50 334.70C251.65 334.78 252.83 334.78 254.00 334.70C255.17 334.62 256.35 334.37 257.50 334.20C258.65 334.03 259.75 333.78 260.90 333.70C262.05 333.62 263.33 333.45 264.40 333.70C265.47 333.95 266.33 334.70 267.30 335.20C268.27 335.70 269.33 336.33 270.20 336.70C271.07 337.07 272.12 337.28 272.50 337.40L272.50 337.70Z" fill="#000" stroke="none" stroke-width="1" />
<path d="M235.50 334.20C235.70 333.78 236.22 333.12 236.70 331.70C237.18 330.28 237.82 327.53 238.40 325.70C238.98 323.87 239.72 320.70 240.20 320.70C240.68 320.70 240.83 323.87 241.30 325.70C241.77 327.53 242.42 330.37 243.00 331.70C243.58 333.03 244.50 333.37 244.80 333.70" fill="none" stroke="#333" stroke-width="0.9" stroke-linejoin="round"/>
<line x1="230.70" y1="319.80" x2="230.70" y2="338.10" stroke="#222" stroke-width="0.75" />
<line x1="230.70" y1="337.70" x2="272.50" y2="337.70" stroke="#111" stroke-width="0.8" />
<line x1="230.70" y1="337.70" x2="230.70" y2="338.90" stroke="#555" stroke-width="0.5" />
<rect x="229.80" y="339.50" width="1.80" height="0.90" fill="#999" stroke="none" stroke-width="0" />
<line x1="241.15" y1="337.70" x2="241.15" y2="338.90" stroke="#555" stroke-width="0.5" />
<rect x="240.25" y="339.50" width="1.80" height="0.90" fill="#999" stroke="none" stroke-width="0" />
<line x1="251.60" y1="337.70" x2="251.60" y2="338.90" stroke="#555" stroke-width="0.5" />
<rect x="250.70" y="339.50" width="1.80" height="0.90" fill="#999" stroke="none" stroke-width="0" />
<line x1="262.05" y1="337.70" x2="262.05" y2="338.90" stroke="#555" stroke-width="0.5" />
<rect x="261.15" y="339.50" width="1.80" height="0.90" fill="#999" stroke="none" stroke-width="0" />
<line x1="272.50" y1="337.70" x2="272.50" y2="338.90" stroke="#555" stroke-width="0.5" />
<rect x="271.60" y="339.50" width="1.80" height="0.90" fill="#999" stroke="none" stroke-width="0" />
<rect x="247.10" y="341.10" width="9.00" height="1.00" fill="#aaa" stroke="none" stroke-width="0" />
<line x1="229.50" y1="337.70" x2="230.70" y2="337.70" stroke="#666" stroke-width="0.5" />
<rect x="228.10" y="335.30" width="0.90" height="1.40" fill="#888" stroke="none" stroke-width="0" />
<line x1="229.50" y1="333.23" x2="230.70" y2="333.23" stroke="#666" stroke-width="0.5" />
<rect x="228.10" y="330.83" width="0.90" height="1.40" fill="#888" stroke="none" stroke-width="0" />
<line x1="229.50" y1="328.75" x2="230.70" y2="328.75" stroke="#666" stroke-width="0.5" />
<rect x="228.10" y="326.35" width="0.90" height="1.40" fill="#888" stroke="none" stroke-width="0" />
<line x1="229.50" y1="324.27" x2="230.70" y2="324.27" stroke="#666" stroke-width="0.5" />
<rect x="228.10" y="321.88" width="0.90" height="1.40" fill="#888" stroke="none" stroke-width="0" />
<line x1="229.50" y1="319.80" x2="230.70" y2="319.80" stroke="#666" stroke-width="0.5" />
<rect x="226.10" y="325.25" width="1.00" height="7.00" fill="#aaa" stroke="none" stroke-width="0" />
<text x="260.70" y="317.50" font-family="Liberation Sans, sans-serif" font-size="5.6" font-weight="bold" text-anchor="start" fill="#000" stroke="#000" stroke-width="0.12" stroke-linejoin="round" textLength="10.80" lengthAdjust="spacingAndGlyphs" >(6.0)</text>
<path d="M230.90 370.00L230.90 369.70C231.48 369.42 233.33 368.95 234.40 368.00C235.47 367.05 236.43 365.17 237.30 364.00C238.17 362.83 238.93 361.75 239.60 361.00C240.27 360.25 240.63 359.50 241.30 359.50C241.97 359.50 242.83 360.50 243.60 361.00C244.37 361.50 245.13 362.17 245.90 362.50C246.67 362.83 247.43 362.67 248.20 363.00C248.97 363.33 249.53 363.92 250.50 364.50C251.47 365.08 252.83 366.00 254.00 366.50C255.17 367.00 256.35 367.25 257.50 367.50C258.65 367.75 259.75 367.78 260.90 368.00C262.05 368.22 263.25 368.55 264.40 368.80C265.55 369.05 266.45 369.30 267.80 369.50C269.15 369.70 271.72 369.92 272.50 370.00L272.50 370.00Z" fill="#000" stroke="none" stroke-width="1" />
<path d="M236.00 366.00C236.22 365.67 236.80 365.33 237.30 364.00C237.80 362.67 238.37 359.83 239.00 358.00C239.63 356.17 240.52 353.00 241.10 353.00C241.68 353.00 241.98 356.33 242.50 358.00C243.02 359.67 243.63 362.25 244.20 363.00C244.77 363.75 245.62 362.58 245.90 362.50" fill="none" stroke="#333" stroke-width="0.9" stroke-linejoin="round"/>
<line x1="230.70" y1="351.20" x2="272.50" y2="351.20" stroke="#888" stroke-width="0.9" />
<line x1="230.70" y1="351.20" x2="230.70" y2="370.40" stroke="#222" stroke-width="0.75" />
<line x1="230.70" y1="370.00" x2="272.50" y2="370.00" stroke="#111" stroke-width="0.8" />
<line x1="230.70" y1="370.00" x2="230.70" y2="371.20" stroke="#555" stroke-width="0.5" />
<rect x="229.80" y="371.80" width="1.80" height="0.90" fill="#999" stroke="none" stroke-width="0" />
<line x1="241.15" y1="370.00" x2="241.15" y2="371.20" stroke="#555" stroke-width="0.5" />
<rect x="240.25" y="371.80" width="1.80" height="0.90" fill="#999" stroke="none" stroke-width="0" />
<line x1="251.60" y1="370.00" x2="251.60" y2="371.20" stroke="#555" stroke-width="0.5" />
<rect x="250.70" y="371.80" width="1.80" height="0.90" fill="#999" stroke="none" stroke-width="0" />
<line x1="262.05" y1="370.00" x2="262.05" y2="371.20" stroke="#555" stroke-width="0.5" />
<rect x="261.15" y="371.80" width="1.80" height="0.90" fill="#999" stroke="none" stroke-width="0" />
<line x1="272.50" y1="370.00" x2="272.50" y2="371.20" stroke="#555" stroke-width="0.5" />
<rect x="271.60" y="371.80" width="1.80" height="0.90" fill="#999" stroke="none" stroke-width="0" />
<rect x="247.10" y="373.40" width="9.00" height="1.00" fill="#aaa" stroke="none" stroke-width="0" />
<line x1="229.50" y1="370.00" x2="230.70" y2="370.00" stroke="#666" stroke-width="0.5" />
<rect x="228.10" y="367.60" width="0.90" height="1.40" fill="#888" stroke="none" stroke-width="0" />
<line x1="229.50" y1="365.30" x2="230.70" y2="365.30" stroke="#666" stroke-width="0.5" />
<rect x="228.10" y="362.90" width="0.90" height="1.40" fill="#888" stroke="none" stroke-width="0" />
<line x1="229.50" y1="360.60" x2="230.70" y2="360.60" stroke="#666" stroke-width="0.5" />
<rect x="228.10" y="358.20" width="0.90" height="1.40" fill="#888" stroke="none" stroke-width="0" />
<line x1="229.50" y1="355.90" x2="230.70" y2="355.90" stroke="#666" stroke-width="0.5" />
<rect x="228.10" y="353.50" width="0.90" height="1.40" fill="#888" stroke="none" stroke-width="0" />
<line x1="229.50" y1="351.20" x2="230.70" y2="351.20" stroke="#666" stroke-width="0.5" />
<rect x="226.10" y="357.10" width="1.00" height="7.00" fill="#aaa" stroke="none" stroke-width="0" />
<text x="260.70" y="349.50" font-family="Liberation Sans, sans-serif" font-size="5.6" font-weight="bold" text-anchor="start" fill="#000" stroke="#000" stroke-width="0.12" stroke-linejoin="round" textLength="10.60" lengthAdjust="spacingAndGlyphs" >(1.8)</text>
<text x="288.30" y="194.10" font-family="Liberation Sans, sans-serif" font-size="11.5" font-weight="bold" text-anchor="start" fill="#000" stroke="#000" stroke-width="0.18" stroke-linejoin="round" textLength="8.10" lengthAdjust="spacingAndGlyphs" >D</text>
<line x1="333.20" y1="318.50" x2="516.80" y2="318.50" stroke="#777" stroke-width="1" />
<line x1="333.20" y1="308.50" x2="516.80" y2="308.50" stroke="#777" stroke-width="1" />
<line x1="333.20" y1="298.50" x2="516.80" y2="298.50" stroke="#777" stroke-width="1" />
<line x1="333.20" y1="288.50" x2="516.80" y2="288.50" stroke="#777" stroke-width="1" />
<line x1="333.20" y1="278.50" x2="516.80" y2="278.50" stroke="#777" stroke-width="1" />
<line x1="333.20" y1="268.50" x2="516.80" y2="268.50" stroke="#777" stroke-width="1" />
<line x1="333.20" y1="258.50" x2="516.80" y2="258.50" stroke="#777" stroke-width="1" />
<line x1="333.20" y1="249.50" x2="516.80" y2="249.50" stroke="#777" stroke-width="1" />
<line x1="333.20" y1="239.50" x2="516.80" y2="239.50" stroke="#777" stroke-width="1" />
<line x1="333.20" y1="229.50" x2="516.80" y2="229.50" stroke="#777" stroke-width="1" />
<line x1="333.20" y1="219.50" x2="516.80" y2="219.50" stroke="#aaa" stroke-width="1" />
<line x1="331.20" y1="328.20" x2="333.20" y2="328.20" stroke="#444" stroke-width="0.6" />
<text x="324.20" y="330.30" font-family="Liberation Sans, sans-serif" font-size="6.2" font-weight="normal" text-anchor="start" fill="#000" stroke="#000" stroke-width="0.3" stroke-linejoin="round" textLength="3.50" lengthAdjust="spacingAndGlyphs" >0</text>
<line x1="331.20" y1="318.30" x2="333.20" y2="318.30" stroke="#444" stroke-width="0.6" />
<text x="313.70" y="320.40" font-family="Liberation Sans, sans-serif" font-size="6.2" font-weight="normal" text-anchor="start" fill="#000" stroke="#000" stroke-width="0.3" stroke-linejoin="round" textLength="14.00" lengthAdjust="spacingAndGlyphs" >2000</text>
<line x1="331.20" y1="308.40" x2="333.20" y2="308.40" stroke="#444" stroke-width="0.6" />
<text x="313.70" y="310.50" font-family="Liberation Sans, sans-serif" font-size="6.2" font-weight="normal" text-anchor="start" fill="#000" stroke="#000" stroke-width="0.3" stroke-linejoin="round" textLength="14.00" lengthAdjust="spacingAndGlyphs" >4000</text>
<line x1="331.20" y1="298.50" x2="333.20" y2="298.50" stroke="#444" stroke-width="0.6" />
<text x="313.70" y="300.60" font-family="Liberation Sans, sans-serif" font-size="6.2" font-weight="normal" text-anchor="start" fill="#000" stroke="#000" stroke-width="0.3" stroke-linejoin="round" textLength="14.00" lengthAdjust="spacingAndGlyphs" >6000</text>
<line x1="331.20" y1="288.60" x2="333.20" y2="288.60" stroke="#444" stroke-width="0.6" />
<text x="313.70" y="290.70" font-family="Liberation Sans, sans-serif" font-size="6.2" font-weight="normal" text-anchor="start" fill="#000" stroke="#000" stroke-width="0.3" stroke-linejoin="round" textLength="14.00" lengthAdjust="spacingAndGlyphs" >8000</text>
<line x1="331.20" y1="278.70" x2="333.20" y2="278.70" stroke="#444" stroke-width="0.6" />
<text x="310.20" y="280.80" font-family="Liberation Sans, sans-serif" font-size="6.2" font-weight="normal" text-anchor="start" fill="#000" stroke="#000" stroke-width="0.3" stroke-linejoin="round" textLength="17.50" lengthAdjust="spacingAndGlyphs" >10000</text>
<line x1="331.20" y1="268.80" x2="333.20" y2="268.80" stroke="#444" stroke-width="0.6" />
<text x="310.20" y="270.90" font-family="Liberation Sans, sans-serif" font-size="6.2" font-weight="normal" text-anchor="start" fill="#000" stroke="#000" stroke-width="0.3" stroke-linejoin="round" textLength="17.50" lengthAdjust="spacingAndGlyphs" >12000</text>
<line x1="331.20" y1="258.90" x2="333.20" y2="258.90" stroke="#444" stroke-width="0.6" />
<text x="310.20" y="261.00" font-family="Liberation Sans, sans-serif" font-size="6.2" font-weight="normal" text-anchor="start" fill="#000" stroke="#000" stroke-width="0.3" stroke-linejoin="round" textLength="17.50" lengthAdjust="spacingAndGlyphs" >14000</text>
<line x1="331.20" y1="249.00" x2="333.20" y2="249.00" stroke="#444" stroke-width="0.6" />
<text x="310.20" y="251.10" font-family="Liberation Sans, sans-serif" font-size="6.2" font-weight="normal" text-anchor="start" fill="#000" stroke="#000" stroke-width="0.3" stroke-linejoin="round" textLength="17.50" lengthAdjust="spacingAndGlyphs" >16000</text>
<line x1="331.20" y1="239.10" x2="333.20" y2="239.10" stroke="#444" stroke-width="0.6" />
<text x="310.20" y="241.20" font-family="Liberation Sans, sans-serif" font-size="6.2" font-weight="normal" text-anchor="start" fill="#000" stroke="#000" stroke-width="0.3" stroke-linejoin="round" textLength="17.50" lengthAdjust="spacingAndGlyphs" >18000</text>
<line x1="331.20" y1="229.20" x2="333.20" y2="229.20" stroke="#444" stroke-width="0.6" />
<text x="310.20" y="231.30" font-family="Liberation Sans, sans-serif" font-size="6.2" font-weight="normal" text-anchor="start" fill="#000" stroke="#000" stroke-width="0.3" stroke-linejoin="round" textLength="17.50" lengthAdjust="spacingAndGlyphs" >20000</text>
<line x1="331.20" y1="219.30" x2="333.20" y2="219.30" stroke="#444" stroke-width="0.6" />
<text x="310.20" y="221.40" font-family="Liberation Sans, sans-serif" font-size="6.2" font-weight="normal" text-anchor="start" fill="#000" stroke="#000" stroke-width="0.3" stroke-linejoin="round" textLength="17.50" lengthAdjust="spacingAndGlyphs" >22000</text>
<line x1="333.20" y1="219.30" x2="333.20" y2="328.20" stroke="#444" stroke-width="0.8" />
<line x1="333.20" y1="328.20" x2="517.60" y2="328.20" stroke="#444" stroke-width="0.8" />
<line x1="333.20" y1="328.20" x2="333.20" y2="330.70" stroke="#444" stroke-width="0.6" />
<line x1="379.50" y1="328.20" x2="379.50" y2="330.70" stroke="#444" stroke-width="0.6" />
<line x1="425.80" y1="328.20" x2="425.80" y2="330.70" stroke="#444" stroke-width="0.6" />
<line x1="472.10" y1="328.20" x2="472.10" y2="330.70" stroke="#444" stroke-width="0.6" />
<line x1="518.40" y1="328.20" x2="518.40" y2="330.70" stroke="#444" stroke-width="0.6" />
<text x="304.30" y="272.15" font-family="Liberation Sans, sans-serif" font-size="5.9" font-weight="normal" text-anchor="middle" fill="#000" stroke="#000" stroke-width="0.3" stroke-linejoin="round" transform="rotate(-90 304.30 272.15)" textLength="90.30" lengthAdjust="spacingAndGlyphs" >IL-12 p70 pg/million cells/24l</text>
<defs><pattern id="hl" width="2" height="1.6" patternUnits="userSpaceOnUse"><rect width="2" height="1.6" fill="#a9a9a9"/><rect width="2" height="0.5" fill="#7a7a7a"/></pattern><pattern id="vl" width="1.6" height="2" patternUnits="userSpaceOnUse"><rect width="1.6" height="2" fill="#e6e6e6"/><rect width="0.4" height="2" fill="#bdbdbd"/></pattern></defs>
<rect x="338.40" y="295.03" width="7.10" height="12.87" fill="#5e5e5e" stroke="none" stroke-width="0" />
<rect x="338.40" y="307.90" width="7.10" height="13.86" fill="#a3a3a3" stroke="none" stroke-width="0" />
<rect x="338.40" y="321.76" width="7.10" height="6.44" fill="#5e5e5e" stroke="none" stroke-width="0" />
<rect x="338.40" y="295.03" width="7.10" height="33.17" fill="none" stroke="#333" stroke-width="0.6" />
<line x1="341.95" y1="295.03" x2="341.95" y2="292.06" stroke="#333" stroke-width="0.5" />
<line x1="340.75" y1="292.06" x2="343.15" y2="292.06" stroke="#333" stroke-width="0.5" />
<rect x="345.50" y="296.02" width="7.10" height="32.18" fill="url(#vl)" stroke="#555" stroke-width="0.6" />
<rect x="352.60" y="241.57" width="7.10" height="86.62" fill="#7b7b7b" stroke="#333" stroke-width="0.6" />
<line x1="356.15" y1="241.57" x2="356.15" y2="238.60" stroke="#333" stroke-width="0.5" />
<line x1="354.95" y1="238.60" x2="357.35" y2="238.60" stroke="#333" stroke-width="0.5" />
<rect x="359.70" y="295.53" width="7.10" height="32.67" fill="url(#hl)" stroke="#444" stroke-width="0.6" />
<rect x="366.80" y="317.31" width="7.10" height="10.89" fill="#000" stroke="none" stroke-width="0" />
<rect x="384.70" y="295.03" width="7.10" height="12.87" fill="#5e5e5e" stroke="none" stroke-width="0" />
<rect x="384.70" y="307.90" width="7.10" height="13.86" fill="#a3a3a3" stroke="none" stroke-width="0" />
<rect x="384.70" y="321.76" width="7.10" height="6.44" fill="#5e5e5e" stroke="none" stroke-width="0" />
<rect x="384.70" y="295.03" width="7.10" height="33.17" fill="none" stroke="#333" stroke-width="0.6" />
<line x1="388.25" y1="295.03" x2="388.25" y2="292.06" stroke="#333" stroke-width="0.5" />
<line x1="387.05" y1="292.06" x2="389.45" y2="292.06" stroke="#333" stroke-width="0.5" />
<rect x="391.80" y="297.01" width="7.10" height="31.19" fill="url(#vl)" stroke="#555" stroke-width="0.6" />
<rect x="398.90" y="233.41" width="7.10" height="94.79" fill="#7b7b7b" stroke="#333" stroke-width="0.6" />
<line x1="402.45" y1="233.41" x2="402.45" y2="229.94" stroke="#333" stroke-width="0.5" />
<line x1="401.25" y1="229.94" x2="403.65" y2="229.94" stroke="#333" stroke-width="0.5" />
<rect x="406.00" y="293.55" width="7.10" height="34.65" fill="url(#hl)" stroke="#444" stroke-width="0.6" />
<line x1="409.55" y1="293.55" x2="409.55" y2="290.08" stroke="#333" stroke-width="0.5" />
<line x1="408.35" y1="290.08" x2="410.75" y2="290.08" stroke="#333" stroke-width="0.5" />
<rect x="413.10" y="316.32" width="7.10" height="11.88" fill="#000" stroke="none" stroke-width="0" />
<rect x="431.00" y="295.03" width="7.10" height="12.87" fill="#5e5e5e" stroke="none" stroke-width="0" />
<rect x="431.00" y="307.90" width="7.10" height="13.86" fill="#a3a3a3" stroke="none" stroke-width="0" />
<rect x="431.00" y="321.76" width="7.10" height="6.44" fill="#5e5e5e" stroke="none" stroke-width="0" />
<rect x="431.00" y="295.03" width="7.10" height="33.17" fill="none" stroke="#333" stroke-width="0.6" />
<line x1="434.55" y1="295.03" x2="434.55" y2="292.06" stroke="#333" stroke-width="0.5" />
<line x1="433.35" y1="292.06" x2="435.75" y2="292.06" stroke="#333" stroke-width="0.5" />
<rect x="438.10" y="299.00" width="7.10" height="29.20" fill="url(#vl)" stroke="#555" stroke-width="0.6" />
<rect x="445.20" y="227.96" width="7.10" height="100.24" fill="#7b7b7b" stroke="#333" stroke-width="0.6" />
<line x1="448.75" y1="227.96" x2="448.75" y2="225.49" stroke="#333" stroke-width="0.5" />
<line x1="447.55" y1="225.49" x2="449.95" y2="225.49" stroke="#333" stroke-width="0.5" />
<rect x="452.30" y="288.60" width="7.10" height="39.60" fill="url(#hl)" stroke="#444" stroke-width="0.6" />
<rect x="459.40" y="313.84" width="7.10" height="14.36" fill="#000" stroke="none" stroke-width="0" />
<rect x="477.30" y="295.03" width="7.10" height="12.87" fill="#5e5e5e" stroke="none" stroke-width="0" />
<rect x="477.30" y="307.90" width="7.10" height="13.86" fill="#a3a3a3" stroke="none" stroke-width="0" />
<rect x="477.30" y="321.76" width="7.10" height="6.44" fill="#5e5e5e" stroke="none" stroke-width="0" />
<rect x="477.30" y="295.03" width="7.10" height="33.17" fill="none" stroke="#333" stroke-width="0.6" />
<line x1="480.85" y1="295.03" x2="480.85" y2="292.06" stroke="#333" stroke-width="0.5" />
<line x1="479.65" y1="292.06" x2="482.05" y2="292.06" stroke="#333" stroke-width="0.5" />
<rect x="484.40" y="296.52" width="7.10" height="31.68" fill="url(#vl)" stroke="#555" stroke-width="0.6" />
<rect x="491.50" y="226.48" width="7.10" height="101.72" fill="#7b7b7b" stroke="#333" stroke-width="0.6" />
<line x1="495.05" y1="226.48" x2="495.05" y2="224.00" stroke="#333" stroke-width="0.5" />
<line x1="493.85" y1="224.00" x2="496.25" y2="224.00" stroke="#333" stroke-width="0.5" />
<rect x="498.60" y="287.61" width="7.10" height="40.59" fill="url(#hl)" stroke="#444" stroke-width="0.6" />
<rect x="505.70" y="308.40" width="7.10" height="19.80" fill="#000" stroke="none" stroke-width="0" />
<line x1="509.25" y1="308.40" x2="509.25" y2="307.66" stroke="#333" stroke-width="0.5" />
<line x1="508.05" y1="307.66" x2="510.45" y2="307.66" stroke="#333" stroke-width="0.5" />
<rect x="411.50" y="224.10" width="29.80" height="61.40" fill="#fff" stroke="#888" stroke-width="0.6" />
<rect x="414.00" y="228.70" width="3.00" height="3.00" fill="#5e5e5e" stroke="#444" stroke-width="0.4" />
<text x="419.20" y="232.50" font-family="Liberation Sans, sans-serif" font-size="6.4" font-weight="bold" text-anchor="start" fill="#000" textLength="15.60" lengthAdjust="spacingAndGlyphs" >None</text>
<rect x="414.00" y="241.20" width="3.00" height="3.00" fill="#dcdcdc" stroke="#444" stroke-width="0.4" />
<text x="419.20" y="245.00" font-family="Liberation Sans, sans-serif" font-size="6.4" font-weight="bold" text-anchor="start" fill="#000" textLength="14.60" lengthAdjust="spacingAndGlyphs" >IL-10</text>
<rect x="414.00" y="252.90" width="3.00" height="3.00" fill="#7b7b7b" stroke="#444" stroke-width="0.4" />
<text x="419.20" y="256.70" font-family="Liberation Sans, sans-serif" font-size="6.4" font-weight="bold" text-anchor="start" fill="#000" textLength="21.10" lengthAdjust="spacingAndGlyphs" >TGFB1</text>
<rect x="414.00" y="264.10" width="3.00" height="3.00" fill="#9a9a9a" stroke="#444" stroke-width="0.4" />
<text x="419.20" y="267.90" font-family="Liberation Sans, sans-serif" font-size="6.4" font-weight="bold" text-anchor="start" fill="#000" textLength="17.00" lengthAdjust="spacingAndGlyphs" >VEGF</text>
<rect x="414.00" y="277.10" width="3.00" height="3.00" fill="#000" stroke="#444" stroke-width="0.4" />
<text x="419.20" y="280.90" font-family="Liberation Sans, sans-serif" font-size="6.4" font-weight="bold" text-anchor="start" fill="#000" textLength="17.00" lengthAdjust="spacingAndGlyphs" >PGE2</text>
<text x="350.20" y="341.90" font-family="Liberation Sans, sans-serif" font-size="7.2" font-weight="bold" text-anchor="start" fill="#000" stroke="#000" stroke-width="0.18" stroke-linejoin="round" textLength="11.50" lengthAdjust="spacingAndGlyphs" >0hr</text>
<text x="396.90" y="341.90" font-family="Liberation Sans, sans-serif" font-size="7.2" font-weight="bold" text-anchor="start" fill="#000" stroke="#000" stroke-width="0.18" stroke-linejoin="round" textLength="11.00" lengthAdjust="spacingAndGlyphs" >1hr</text>
<text x="442.70" y="341.90" font-family="Liberation Sans, sans-serif" font-size="7.2" font-weight="bold" text-anchor="start" fill="#000" stroke="#000" stroke-width="0.18" stroke-linejoin="round" textLength="12.30" lengthAdjust="spacingAndGlyphs" >2hr</text>
<text x="488.80" y="341.90" font-family="Liberation Sans, sans-serif" font-size="7.2" font-weight="bold" text-anchor="start" fill="#000" stroke="#000" stroke-width="0.18" stroke-linejoin="round" textLength="12.00" lengthAdjust="spacingAndGlyphs" >4hr</text>
<text x="335.40" y="353.50" font-family="Liberation Sans, sans-serif" font-size="6.5" font-weight="bold" text-anchor="start" fill="#000" stroke="#000" stroke-width="0.18" stroke-linejoin="round" textLength="179.20" lengthAdjust="spacingAndGlyphs" >Hour of Step 2 culture at which immunosuppressant added</text>
</g>
</svg></body></html>
